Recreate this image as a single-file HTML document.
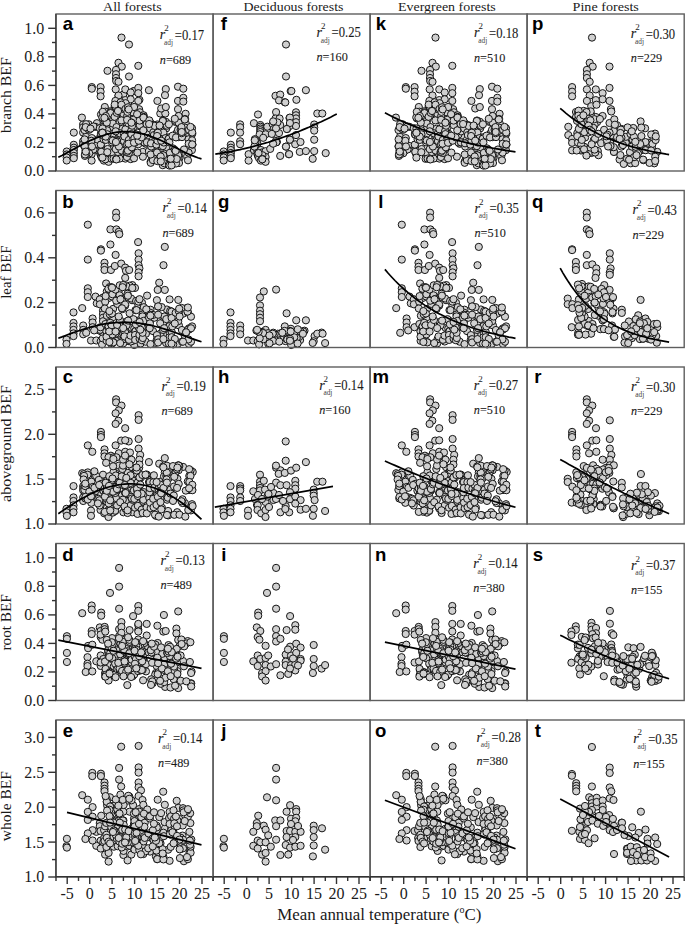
<!DOCTYPE html><html><head><meta charset="utf-8"><style>html,body{margin:0;padding:0;background:#fff;}svg{display:block}.s{font-family:"Liberation Serif",serif;fill:#1a1a1a}.ann text{stroke:#1a1a1a;stroke-width:0.1}.b{font-family:"Liberation Sans",sans-serif;font-weight:bold;fill:#000}</style></head><body><svg width="685" height="925" viewBox="0 0 685 925">
<rect width="685" height="925" fill="#fff"/>
<text class="s" x="103.1" y="10.6" font-size="13" textLength="58.5" lengthAdjust="spacingAndGlyphs">All forests</text>
<text class="s" x="243.6" y="10.6" font-size="13" textLength="99.8" lengthAdjust="spacingAndGlyphs">Deciduous forests</text>
<text class="s" x="398.0" y="10.6" font-size="13" textLength="97.8" lengthAdjust="spacingAndGlyphs">Evergreen forests</text>
<text class="s" x="572.6" y="10.6" font-size="13" textLength="66.2" lengthAdjust="spacingAndGlyphs">Pine forests</text>
<g fill="#d0d0d0" stroke="#151515" stroke-width="1.0">
<circle cx="66.7" cy="151.5" r="3.6"/>
<circle cx="66.7" cy="154.5" r="3.6"/>
<circle cx="66.7" cy="157.5" r="3.6"/>
<circle cx="66.7" cy="160.5" r="3.6"/>
<circle cx="73.8" cy="132.6" r="3.6"/>
<circle cx="73.8" cy="144.8" r="3.6"/>
<circle cx="73.8" cy="147.7" r="3.6"/>
<circle cx="73.8" cy="150.0" r="3.6"/>
<circle cx="73.8" cy="153.0" r="3.6"/>
<circle cx="73.8" cy="155.9" r="3.6"/>
<circle cx="73.8" cy="158.2" r="3.6"/>
<circle cx="83.1" cy="124.4" r="3.6"/>
<circle cx="83.1" cy="127.3" r="3.6"/>
<circle cx="83.1" cy="132.6" r="3.6"/>
<circle cx="83.1" cy="141.3" r="3.6"/>
<circle cx="83.1" cy="144.2" r="3.6"/>
<circle cx="91.6" cy="154.2" r="3.6"/>
<circle cx="91.6" cy="160.6" r="3.6"/>
<circle cx="96.9" cy="123.2" r="3.6"/>
<circle cx="101.0" cy="114.5" r="3.6"/>
<circle cx="103.3" cy="125.0" r="3.6"/>
<circle cx="103.3" cy="126.7" r="3.6"/>
<circle cx="103.3" cy="128.5" r="3.6"/>
<circle cx="103.3" cy="130.2" r="3.6"/>
<circle cx="103.3" cy="132.0" r="3.6"/>
<circle cx="102.7" cy="134.3" r="3.6"/>
<circle cx="99.2" cy="140.0" r="3.6"/>
<circle cx="100.4" cy="143.6" r="3.6"/>
<circle cx="96.9" cy="150.0" r="3.6"/>
<circle cx="100.4" cy="151.2" r="3.6"/>
<circle cx="100.4" cy="154.2" r="3.6"/>
<circle cx="101.0" cy="156.0" r="3.6"/>
<circle cx="102.1" cy="158.2" r="3.6"/>
<circle cx="103.9" cy="160.6" r="3.6"/>
<circle cx="103.9" cy="150.0" r="3.6"/>
<circle cx="105.0" cy="152.5" r="3.6"/>
<circle cx="108.6" cy="134.3" r="3.6"/>
<circle cx="108.6" cy="151.2" r="3.6"/>
<circle cx="108.6" cy="157.0" r="3.6"/>
<circle cx="108.6" cy="161.8" r="3.6"/>
<circle cx="110.3" cy="126.7" r="3.6"/>
<circle cx="106.2" cy="137.8" r="3.6"/>
<circle cx="113.2" cy="148.9" r="3.6"/>
<circle cx="115.6" cy="124.0" r="3.6"/>
<circle cx="116.7" cy="129.0" r="3.6"/>
<circle cx="117.9" cy="131.5" r="3.6"/>
<circle cx="119.1" cy="135.5" r="3.6"/>
<circle cx="119.6" cy="142.0" r="3.6"/>
<circle cx="119.1" cy="112.1" r="3.6"/>
<circle cx="118.5" cy="118.5" r="3.6"/>
<circle cx="122.6" cy="118.5" r="3.6"/>
<circle cx="123.2" cy="125.0" r="3.6"/>
<circle cx="122.0" cy="133.1" r="3.6"/>
<circle cx="118.5" cy="95.8" r="3.6"/>
<circle cx="123.2" cy="94.6" r="3.6"/>
<circle cx="122.0" cy="100.4" r="3.6"/>
<circle cx="127.8" cy="102.2" r="3.6"/>
<circle cx="123.2" cy="155.9" r="3.6"/>
<circle cx="129.0" cy="146.6" r="3.6"/>
<circle cx="130.2" cy="129.0" r="3.6"/>
<circle cx="132.5" cy="118.0" r="3.6"/>
<circle cx="132.5" cy="126.1" r="3.6"/>
<circle cx="133.1" cy="139.6" r="3.6"/>
<circle cx="131.9" cy="154.2" r="3.6"/>
<circle cx="133.7" cy="91.1" r="3.6"/>
<circle cx="129.0" cy="44.5" r="3.6"/>
<circle cx="129.0" cy="76.5" r="3.6"/>
<circle cx="134.4" cy="91.0" r="3.6"/>
<circle cx="148.9" cy="90.2" r="3.6"/>
<circle cx="128.3" cy="102.4" r="3.6"/>
<circle cx="139.4" cy="99.8" r="3.6"/>
<circle cx="139.0" cy="112.3" r="3.6"/>
<circle cx="139.0" cy="115.3" r="3.6"/>
<circle cx="139.0" cy="118.4" r="3.6"/>
<circle cx="139.0" cy="122.2" r="3.6"/>
<circle cx="139.0" cy="126.0" r="3.6"/>
<circle cx="132.9" cy="117.6" r="3.6"/>
<circle cx="132.9" cy="123.0" r="3.6"/>
<circle cx="129.8" cy="129.0" r="3.6"/>
<circle cx="132.9" cy="139.7" r="3.6"/>
<circle cx="129.0" cy="146.6" r="3.6"/>
<circle cx="132.1" cy="154.2" r="3.6"/>
<circle cx="139.0" cy="135.1" r="3.6"/>
<circle cx="138.2" cy="144.3" r="3.6"/>
<circle cx="143.5" cy="142.0" r="3.6"/>
<circle cx="142.8" cy="151.9" r="3.6"/>
<circle cx="148.9" cy="151.1" r="3.6"/>
<circle cx="157.2" cy="124.5" r="3.6"/>
<circle cx="157.2" cy="127.5" r="3.6"/>
<circle cx="157.2" cy="130.6" r="3.6"/>
<circle cx="157.2" cy="139.7" r="3.6"/>
<circle cx="157.2" cy="151.1" r="3.6"/>
<circle cx="155.7" cy="158.8" r="3.6"/>
<circle cx="160.3" cy="113.5" r="3.6"/>
<circle cx="165.3" cy="113.5" r="3.6"/>
<circle cx="168.7" cy="153.1" r="3.6"/>
<circle cx="98.3" cy="142.6" r="3.6"/>
<circle cx="97.8" cy="146.7" r="3.6"/>
<circle cx="97.4" cy="146.6" r="3.6"/>
<circle cx="105.0" cy="156.0" r="3.6"/>
<circle cx="97.9" cy="139.2" r="3.6"/>
<circle cx="105.4" cy="155.2" r="3.6"/>
<circle cx="101.5" cy="153.1" r="3.6"/>
<circle cx="105.4" cy="158.9" r="3.6"/>
<circle cx="105.3" cy="159.3" r="3.6"/>
<circle cx="97.8" cy="140.3" r="3.6"/>
<circle cx="120.4" cy="122.4" r="3.6"/>
<circle cx="119.8" cy="141.9" r="3.6"/>
<circle cx="119.0" cy="128.4" r="3.6"/>
<circle cx="118.9" cy="141.0" r="3.6"/>
<circle cx="114.8" cy="133.9" r="3.6"/>
<circle cx="119.3" cy="142.3" r="3.6"/>
<circle cx="116.1" cy="143.7" r="3.6"/>
<circle cx="116.2" cy="121.4" r="3.6"/>
<circle cx="121.5" cy="37.6" r="3.6"/>
<circle cx="118.5" cy="62.8" r="3.6"/>
<circle cx="121.8" cy="66.6" r="3.6"/>
<circle cx="107.5" cy="70.8" r="3.6"/>
<circle cx="116.0" cy="69.9" r="3.6"/>
<circle cx="116.0" cy="74.2" r="3.6"/>
<circle cx="116.0" cy="78.0" r="3.6"/>
<circle cx="116.2" cy="81.0" r="3.6"/>
<circle cx="118.5" cy="81.8" r="3.6"/>
<circle cx="91.8" cy="87.1" r="3.6"/>
<circle cx="91.8" cy="88.7" r="3.6"/>
<circle cx="100.6" cy="87.1" r="3.6"/>
<circle cx="100.6" cy="91.7" r="3.6"/>
<circle cx="100.6" cy="96.3" r="3.6"/>
<circle cx="115.7" cy="89.4" r="3.6"/>
<circle cx="118.5" cy="95.5" r="3.6"/>
<circle cx="115.4" cy="100.9" r="3.6"/>
<circle cx="114.7" cy="106.2" r="3.6"/>
<circle cx="125.3" cy="89.4" r="3.6"/>
<circle cx="130.7" cy="92.5" r="3.6"/>
<circle cx="125.3" cy="100.1" r="3.6"/>
<circle cx="130.7" cy="99.3" r="3.6"/>
<circle cx="104.8" cy="107.0" r="3.6"/>
<circle cx="104.8" cy="113.0" r="3.6"/>
<circle cx="81.9" cy="117.6" r="3.6"/>
<circle cx="138.3" cy="65.8" r="3.6"/>
<circle cx="138.3" cy="87.9" r="3.6"/>
<circle cx="138.3" cy="93.2" r="3.6"/>
<circle cx="138.3" cy="100.9" r="3.6"/>
<circle cx="139.1" cy="109.2" r="3.6"/>
<circle cx="139.9" cy="112.3" r="3.6"/>
<circle cx="165.8" cy="89.1" r="3.6"/>
<circle cx="165.0" cy="95.2" r="3.6"/>
<circle cx="178.0" cy="86.7" r="3.6"/>
<circle cx="183.3" cy="88.7" r="3.6"/>
<circle cx="157.4" cy="100.9" r="3.6"/>
<circle cx="178.0" cy="100.9" r="3.6"/>
<circle cx="183.3" cy="97.8" r="3.6"/>
<circle cx="183.3" cy="101.6" r="3.6"/>
<circle cx="161.2" cy="108.5" r="3.6"/>
<circle cx="165.8" cy="107.0" r="3.6"/>
<circle cx="178.0" cy="109.2" r="3.6"/>
<circle cx="178.7" cy="116.0" r="3.6"/>
<circle cx="185.6" cy="113.8" r="3.6"/>
<circle cx="95.5" cy="126.9" r="3.6"/>
<circle cx="91.5" cy="143.3" r="3.6"/>
<circle cx="86.0" cy="136.8" r="3.6"/>
<circle cx="84.9" cy="155.9" r="3.6"/>
<circle cx="85.3" cy="141.2" r="3.6"/>
<circle cx="89.1" cy="127.5" r="3.6"/>
<circle cx="95.1" cy="148.6" r="3.6"/>
<circle cx="90.5" cy="151.1" r="3.6"/>
<circle cx="94.8" cy="145.8" r="3.6"/>
<circle cx="84.5" cy="146.4" r="3.6"/>
<circle cx="85.2" cy="153.9" r="3.6"/>
<circle cx="88.7" cy="124.3" r="3.6"/>
<circle cx="93.5" cy="149.5" r="3.6"/>
<circle cx="89.2" cy="153.3" r="3.6"/>
<circle cx="86.1" cy="124.2" r="3.6"/>
<circle cx="85.5" cy="150.5" r="3.6"/>
<circle cx="84.8" cy="146.2" r="3.6"/>
<circle cx="86.3" cy="154.2" r="3.6"/>
<circle cx="84.5" cy="130.1" r="3.6"/>
<circle cx="89.2" cy="129.8" r="3.6"/>
<circle cx="91.8" cy="138.1" r="3.6"/>
<circle cx="88.0" cy="128.8" r="3.6"/>
<circle cx="85.7" cy="127.1" r="3.6"/>
<circle cx="85.0" cy="154.5" r="3.6"/>
<circle cx="91.3" cy="140.8" r="3.6"/>
<circle cx="92.0" cy="146.5" r="3.6"/>
<circle cx="84.6" cy="139.4" r="3.6"/>
<circle cx="93.5" cy="126.5" r="3.6"/>
<circle cx="85.8" cy="151.6" r="3.6"/>
<circle cx="90.5" cy="128.6" r="3.6"/>
<circle cx="101.6" cy="153.0" r="3.6"/>
<circle cx="101.0" cy="134.5" r="3.6"/>
<circle cx="101.1" cy="144.7" r="3.6"/>
<circle cx="101.3" cy="151.8" r="3.6"/>
<circle cx="101.0" cy="133.3" r="3.6"/>
<circle cx="101.3" cy="134.7" r="3.6"/>
<circle cx="100.8" cy="144.6" r="3.6"/>
<circle cx="99.8" cy="128.2" r="3.6"/>
<circle cx="102.9" cy="118.4" r="3.6"/>
<circle cx="102.7" cy="129.9" r="3.6"/>
<circle cx="110.2" cy="111.3" r="3.6"/>
<circle cx="111.6" cy="154.6" r="3.6"/>
<circle cx="105.5" cy="111.7" r="3.6"/>
<circle cx="107.6" cy="121.9" r="3.6"/>
<circle cx="112.8" cy="155.4" r="3.6"/>
<circle cx="111.9" cy="131.7" r="3.6"/>
<circle cx="113.1" cy="127.2" r="3.6"/>
<circle cx="108.9" cy="136.9" r="3.6"/>
<circle cx="104.5" cy="133.8" r="3.6"/>
<circle cx="109.8" cy="137.4" r="3.6"/>
<circle cx="106.3" cy="133.2" r="3.6"/>
<circle cx="113.1" cy="120.2" r="3.6"/>
<circle cx="111.6" cy="158.8" r="3.6"/>
<circle cx="103.6" cy="139.3" r="3.6"/>
<circle cx="107.1" cy="130.3" r="3.6"/>
<circle cx="102.3" cy="117.3" r="3.6"/>
<circle cx="112.4" cy="134.2" r="3.6"/>
<circle cx="111.8" cy="113.2" r="3.6"/>
<circle cx="112.2" cy="152.6" r="3.6"/>
<circle cx="110.3" cy="112.4" r="3.6"/>
<circle cx="112.0" cy="142.4" r="3.6"/>
<circle cx="110.5" cy="113.1" r="3.6"/>
<circle cx="113.6" cy="158.6" r="3.6"/>
<circle cx="107.4" cy="134.3" r="3.6"/>
<circle cx="105.9" cy="139.9" r="3.6"/>
<circle cx="112.7" cy="123.5" r="3.6"/>
<circle cx="111.4" cy="139.8" r="3.6"/>
<circle cx="102.5" cy="128.5" r="3.6"/>
<circle cx="104.1" cy="136.0" r="3.6"/>
<circle cx="105.7" cy="136.6" r="3.6"/>
<circle cx="106.8" cy="122.6" r="3.6"/>
<circle cx="112.7" cy="140.6" r="3.6"/>
<circle cx="102.4" cy="132.5" r="3.6"/>
<circle cx="102.8" cy="111.8" r="3.6"/>
<circle cx="105.8" cy="116.1" r="3.6"/>
<circle cx="102.4" cy="132.8" r="3.6"/>
<circle cx="107.6" cy="149.0" r="3.6"/>
<circle cx="107.3" cy="152.2" r="3.6"/>
<circle cx="104.4" cy="117.8" r="3.6"/>
<circle cx="102.4" cy="157.6" r="3.6"/>
<circle cx="118.9" cy="143.8" r="3.6"/>
<circle cx="124.7" cy="154.9" r="3.6"/>
<circle cx="116.5" cy="127.1" r="3.6"/>
<circle cx="122.4" cy="118.5" r="3.6"/>
<circle cx="125.2" cy="115.3" r="3.6"/>
<circle cx="116.0" cy="159.2" r="3.6"/>
<circle cx="114.6" cy="116.8" r="3.6"/>
<circle cx="118.6" cy="132.8" r="3.6"/>
<circle cx="121.2" cy="157.5" r="3.6"/>
<circle cx="123.5" cy="120.2" r="3.6"/>
<circle cx="116.7" cy="112.8" r="3.6"/>
<circle cx="124.2" cy="135.6" r="3.6"/>
<circle cx="119.1" cy="148.5" r="3.6"/>
<circle cx="117.9" cy="104.6" r="3.6"/>
<circle cx="122.6" cy="157.4" r="3.6"/>
<circle cx="120.8" cy="150.7" r="3.6"/>
<circle cx="122.6" cy="128.7" r="3.6"/>
<circle cx="121.3" cy="138.5" r="3.6"/>
<circle cx="124.1" cy="144.7" r="3.6"/>
<circle cx="120.6" cy="102.3" r="3.6"/>
<circle cx="125.4" cy="158.6" r="3.6"/>
<circle cx="119.6" cy="158.6" r="3.6"/>
<circle cx="119.7" cy="133.2" r="3.6"/>
<circle cx="123.4" cy="113.9" r="3.6"/>
<circle cx="123.8" cy="133.7" r="3.6"/>
<circle cx="114.7" cy="104.6" r="3.6"/>
<circle cx="125.4" cy="129.3" r="3.6"/>
<circle cx="122.5" cy="139.9" r="3.6"/>
<circle cx="124.3" cy="143.7" r="3.6"/>
<circle cx="125.6" cy="103.2" r="3.6"/>
<circle cx="117.9" cy="152.0" r="3.6"/>
<circle cx="117.7" cy="141.6" r="3.6"/>
<circle cx="123.3" cy="109.0" r="3.6"/>
<circle cx="121.5" cy="104.7" r="3.6"/>
<circle cx="124.0" cy="141.1" r="3.6"/>
<circle cx="116.4" cy="159.4" r="3.6"/>
<circle cx="115.7" cy="149.1" r="3.6"/>
<circle cx="121.4" cy="120.4" r="3.6"/>
<circle cx="121.6" cy="150.5" r="3.6"/>
<circle cx="118.0" cy="111.0" r="3.6"/>
<circle cx="115.7" cy="131.3" r="3.6"/>
<circle cx="124.5" cy="136.5" r="3.6"/>
<circle cx="118.9" cy="146.5" r="3.6"/>
<circle cx="115.9" cy="142.0" r="3.6"/>
<circle cx="125.5" cy="108.9" r="3.6"/>
<circle cx="134.4" cy="134.0" r="3.6"/>
<circle cx="132.0" cy="112.2" r="3.6"/>
<circle cx="128.8" cy="140.0" r="3.6"/>
<circle cx="131.0" cy="132.8" r="3.6"/>
<circle cx="131.5" cy="149.3" r="3.6"/>
<circle cx="131.3" cy="148.1" r="3.6"/>
<circle cx="130.7" cy="159.1" r="3.6"/>
<circle cx="133.7" cy="126.9" r="3.6"/>
<circle cx="127.5" cy="147.0" r="3.6"/>
<circle cx="134.9" cy="133.9" r="3.6"/>
<circle cx="131.1" cy="131.1" r="3.6"/>
<circle cx="126.9" cy="157.0" r="3.6"/>
<circle cx="127.2" cy="116.0" r="3.6"/>
<circle cx="128.4" cy="123.4" r="3.6"/>
<circle cx="133.4" cy="119.7" r="3.6"/>
<circle cx="134.0" cy="158.3" r="3.6"/>
<circle cx="133.9" cy="135.5" r="3.6"/>
<circle cx="131.4" cy="122.4" r="3.6"/>
<circle cx="126.5" cy="152.2" r="3.6"/>
<circle cx="128.0" cy="107.3" r="3.6"/>
<circle cx="128.8" cy="153.0" r="3.6"/>
<circle cx="127.0" cy="151.8" r="3.6"/>
<circle cx="127.1" cy="119.8" r="3.6"/>
<circle cx="127.4" cy="111.9" r="3.6"/>
<circle cx="133.1" cy="137.8" r="3.6"/>
<circle cx="134.8" cy="142.8" r="3.6"/>
<circle cx="128.5" cy="149.4" r="3.6"/>
<circle cx="134.9" cy="135.3" r="3.6"/>
<circle cx="131.4" cy="144.9" r="3.6"/>
<circle cx="134.1" cy="107.0" r="3.6"/>
<circle cx="131.4" cy="134.1" r="3.6"/>
<circle cx="127.9" cy="150.6" r="3.6"/>
<circle cx="132.1" cy="125.7" r="3.6"/>
<circle cx="134.4" cy="138.2" r="3.6"/>
<circle cx="131.4" cy="122.7" r="3.6"/>
<circle cx="131.8" cy="147.3" r="3.6"/>
<circle cx="127.0" cy="144.3" r="3.6"/>
<circle cx="128.7" cy="109.4" r="3.6"/>
<circle cx="128.5" cy="143.7" r="3.6"/>
<circle cx="134.0" cy="142.7" r="3.6"/>
<circle cx="142.9" cy="156.7" r="3.6"/>
<circle cx="145.7" cy="143.8" r="3.6"/>
<circle cx="139.4" cy="117.2" r="3.6"/>
<circle cx="141.6" cy="115.8" r="3.6"/>
<circle cx="144.4" cy="142.5" r="3.6"/>
<circle cx="143.6" cy="115.3" r="3.6"/>
<circle cx="146.2" cy="128.0" r="3.6"/>
<circle cx="146.4" cy="134.5" r="3.6"/>
<circle cx="140.3" cy="123.7" r="3.6"/>
<circle cx="138.7" cy="140.7" r="3.6"/>
<circle cx="147.3" cy="122.2" r="3.6"/>
<circle cx="137.4" cy="152.6" r="3.6"/>
<circle cx="137.1" cy="114.2" r="3.6"/>
<circle cx="147.4" cy="142.7" r="3.6"/>
<circle cx="144.5" cy="130.5" r="3.6"/>
<circle cx="147.2" cy="135.8" r="3.6"/>
<circle cx="144.5" cy="134.5" r="3.6"/>
<circle cx="141.6" cy="137.3" r="3.6"/>
<circle cx="146.9" cy="142.3" r="3.6"/>
<circle cx="143.8" cy="116.9" r="3.6"/>
<circle cx="137.2" cy="135.7" r="3.6"/>
<circle cx="145.4" cy="126.8" r="3.6"/>
<circle cx="143.7" cy="126.2" r="3.6"/>
<circle cx="147.0" cy="131.4" r="3.6"/>
<circle cx="139.8" cy="125.2" r="3.6"/>
<circle cx="139.6" cy="120.6" r="3.6"/>
<circle cx="143.3" cy="130.3" r="3.6"/>
<circle cx="143.7" cy="117.7" r="3.6"/>
<circle cx="143.5" cy="117.6" r="3.6"/>
<circle cx="146.6" cy="124.1" r="3.6"/>
<circle cx="150.5" cy="122.9" r="3.6"/>
<circle cx="150.7" cy="161.5" r="3.6"/>
<circle cx="154.1" cy="142.0" r="3.6"/>
<circle cx="154.2" cy="125.1" r="3.6"/>
<circle cx="150.3" cy="128.6" r="3.6"/>
<circle cx="150.7" cy="162.8" r="3.6"/>
<circle cx="151.2" cy="146.5" r="3.6"/>
<circle cx="154.0" cy="158.7" r="3.6"/>
<circle cx="152.9" cy="160.1" r="3.6"/>
<circle cx="150.7" cy="154.5" r="3.6"/>
<circle cx="153.3" cy="132.3" r="3.6"/>
<circle cx="151.0" cy="143.3" r="3.6"/>
<circle cx="154.7" cy="125.9" r="3.6"/>
<circle cx="149.3" cy="120.4" r="3.6"/>
<circle cx="149.1" cy="124.0" r="3.6"/>
<circle cx="153.9" cy="135.1" r="3.6"/>
<circle cx="165.9" cy="121.8" r="3.6"/>
<circle cx="165.9" cy="164.0" r="3.6"/>
<circle cx="164.4" cy="136.2" r="3.6"/>
<circle cx="164.5" cy="158.4" r="3.6"/>
<circle cx="157.5" cy="132.7" r="3.6"/>
<circle cx="156.6" cy="144.5" r="3.6"/>
<circle cx="163.0" cy="120.5" r="3.6"/>
<circle cx="161.7" cy="152.6" r="3.6"/>
<circle cx="166.2" cy="128.4" r="3.6"/>
<circle cx="160.1" cy="129.2" r="3.6"/>
<circle cx="163.4" cy="132.6" r="3.6"/>
<circle cx="157.4" cy="161.1" r="3.6"/>
<circle cx="161.2" cy="146.4" r="3.6"/>
<circle cx="166.3" cy="146.9" r="3.6"/>
<circle cx="163.0" cy="154.8" r="3.6"/>
<circle cx="166.7" cy="150.1" r="3.6"/>
<circle cx="163.2" cy="155.3" r="3.6"/>
<circle cx="162.8" cy="165.2" r="3.6"/>
<circle cx="157.8" cy="132.7" r="3.6"/>
<circle cx="157.0" cy="152.5" r="3.6"/>
<circle cx="167.0" cy="147.5" r="3.6"/>
<circle cx="162.5" cy="140.9" r="3.6"/>
<circle cx="167.0" cy="125.7" r="3.6"/>
<circle cx="165.5" cy="138.1" r="3.6"/>
<circle cx="156.4" cy="144.6" r="3.6"/>
<circle cx="162.8" cy="121.0" r="3.6"/>
<circle cx="160.7" cy="156.5" r="3.6"/>
<circle cx="164.4" cy="163.3" r="3.6"/>
<circle cx="157.5" cy="140.7" r="3.6"/>
<circle cx="159.6" cy="125.5" r="3.6"/>
<circle cx="162.8" cy="146.1" r="3.6"/>
<circle cx="157.1" cy="136.0" r="3.6"/>
<circle cx="163.8" cy="142.5" r="3.6"/>
<circle cx="160.8" cy="161.4" r="3.6"/>
<circle cx="167.5" cy="140.6" r="3.6"/>
<circle cx="161.2" cy="140.7" r="3.6"/>
<circle cx="178.4" cy="137.1" r="3.6"/>
<circle cx="178.9" cy="132.0" r="3.6"/>
<circle cx="168.9" cy="164.1" r="3.6"/>
<circle cx="179.5" cy="158.0" r="3.6"/>
<circle cx="175.4" cy="121.9" r="3.6"/>
<circle cx="174.4" cy="161.7" r="3.6"/>
<circle cx="177.7" cy="159.1" r="3.6"/>
<circle cx="169.3" cy="137.3" r="3.6"/>
<circle cx="168.8" cy="138.7" r="3.6"/>
<circle cx="169.4" cy="142.4" r="3.6"/>
<circle cx="178.8" cy="154.5" r="3.6"/>
<circle cx="170.6" cy="163.0" r="3.6"/>
<circle cx="173.0" cy="148.4" r="3.6"/>
<circle cx="176.0" cy="137.1" r="3.6"/>
<circle cx="179.1" cy="130.3" r="3.6"/>
<circle cx="176.4" cy="133.4" r="3.6"/>
<circle cx="179.0" cy="163.0" r="3.6"/>
<circle cx="175.1" cy="120.7" r="3.6"/>
<circle cx="178.0" cy="129.8" r="3.6"/>
<circle cx="168.9" cy="124.3" r="3.6"/>
<circle cx="172.5" cy="135.7" r="3.6"/>
<circle cx="172.1" cy="163.1" r="3.6"/>
<circle cx="173.0" cy="158.3" r="3.6"/>
<circle cx="171.6" cy="152.2" r="3.6"/>
<circle cx="169.5" cy="165.6" r="3.6"/>
<circle cx="178.6" cy="122.7" r="3.6"/>
<circle cx="176.0" cy="137.4" r="3.6"/>
<circle cx="176.0" cy="163.5" r="3.6"/>
<circle cx="178.1" cy="155.2" r="3.6"/>
<circle cx="169.9" cy="152.8" r="3.6"/>
<circle cx="174.8" cy="118.8" r="3.6"/>
<circle cx="174.7" cy="149.8" r="3.6"/>
<circle cx="176.7" cy="159.0" r="3.6"/>
<circle cx="175.6" cy="150.9" r="3.6"/>
<circle cx="171.5" cy="165.4" r="3.6"/>
<circle cx="170.7" cy="158.7" r="3.6"/>
<circle cx="186.0" cy="124.1" r="3.6"/>
<circle cx="185.2" cy="119.0" r="3.6"/>
<circle cx="180.6" cy="129.8" r="3.6"/>
<circle cx="189.0" cy="133.7" r="3.6"/>
<circle cx="182.0" cy="137.1" r="3.6"/>
<circle cx="191.2" cy="146.1" r="3.6"/>
<circle cx="188.6" cy="139.3" r="3.6"/>
<circle cx="181.6" cy="133.2" r="3.6"/>
<circle cx="185.2" cy="130.6" r="3.6"/>
<circle cx="184.9" cy="127.6" r="3.6"/>
<circle cx="184.8" cy="119.5" r="3.6"/>
<circle cx="187.8" cy="150.5" r="3.6"/>
<circle cx="192.0" cy="128.2" r="3.6"/>
<circle cx="192.3" cy="133.8" r="3.6"/>
<circle cx="187.2" cy="156.2" r="3.6"/>
<circle cx="192.1" cy="140.3" r="3.6"/>
<circle cx="187.0" cy="149.6" r="3.6"/>
<circle cx="191.9" cy="150.1" r="3.6"/>
<circle cx="188.6" cy="152.6" r="3.6"/>
<circle cx="188.7" cy="143.7" r="3.6"/>
<circle cx="181.3" cy="129.3" r="3.6"/>
<circle cx="189.0" cy="129.7" r="3.6"/>
<circle cx="184.0" cy="149.5" r="3.6"/>
<circle cx="181.5" cy="127.1" r="3.6"/>
<circle cx="192.5" cy="144.7" r="3.6"/>
<circle cx="192.2" cy="132.5" r="3.6"/>
<circle cx="190.5" cy="126.9" r="3.6"/>
<circle cx="192.2" cy="144.4" r="3.6"/>
<circle cx="188.0" cy="160.3" r="3.6"/>
<circle cx="181.7" cy="132.0" r="3.6"/>
</g>
<path d="M58.3,157.2 L62.0,155.4 L65.6,153.5 L69.3,151.5 L73.0,149.5 L76.7,147.5 L80.3,145.6 L84.0,143.6 L87.7,141.8 L91.3,140.1 L95.0,138.5 L98.7,137.0 L102.4,135.7 L106.0,134.5 L109.7,133.6 L113.4,132.8 L117.0,132.2 L120.7,131.8 L124.4,131.7 L128.1,131.7 L131.7,132.0 L135.4,132.4 L139.1,133.1 L142.8,133.9 L146.4,134.9 L150.1,136.1 L153.8,137.5 L157.4,138.9 L161.1,140.5 L164.8,142.2 L168.5,144.0 L172.1,145.9 L175.8,147.7 L179.5,149.6 L183.1,151.4 L186.8,153.2 L190.5,154.9 L194.2,156.4 L197.8,157.8 L201.5,158.9" fill="none" stroke="#000" stroke-width="1.7"/>
<text class="b" x="68.0" y="30.2" font-size="18.6" text-anchor="middle">a</text>
<g class="ann">
<text class="s" x="159.8" y="39.3" font-size="14" font-style="italic">r</text>
<text class="s" x="164.2" y="31.4" font-size="9" style="stroke:none">2</text>
<text class="s" x="164.0" y="45.0" font-size="9" textLength="9" lengthAdjust="spacingAndGlyphs" style="stroke:none;fill:#444">adj</text>
<text class="s" x="174.8" y="39.5" font-size="14.2" textLength="29.3" lengthAdjust="spacingAndGlyphs">=0.17</text>
<text class="s" x="159.8" y="63.6" font-size="13.2" textLength="31.3" lengthAdjust="spacingAndGlyphs"><tspan font-style="italic">n</tspan>=689</text>
</g>
<rect x="56.0" y="14.0" width="157.2" height="157" fill="none" stroke="#5e5e5e" stroke-width="1.4"/>
<line x1="55.9" y1="14.0" x2="55.9" y2="171.0" stroke="#444" stroke-width="1.5"/>
<g fill="#d0d0d0" stroke="#151515" stroke-width="1.0">
<circle cx="223.7" cy="151.5" r="3.6"/>
<circle cx="223.7" cy="154.5" r="3.6"/>
<circle cx="223.7" cy="157.5" r="3.6"/>
<circle cx="223.7" cy="160.5" r="3.6"/>
<circle cx="230.8" cy="132.6" r="3.6"/>
<circle cx="230.8" cy="144.8" r="3.6"/>
<circle cx="230.8" cy="147.7" r="3.6"/>
<circle cx="230.8" cy="150.0" r="3.6"/>
<circle cx="230.8" cy="153.0" r="3.6"/>
<circle cx="230.8" cy="155.9" r="3.6"/>
<circle cx="230.8" cy="158.2" r="3.6"/>
<circle cx="240.1" cy="124.4" r="3.6"/>
<circle cx="240.1" cy="127.3" r="3.6"/>
<circle cx="240.1" cy="132.6" r="3.6"/>
<circle cx="240.1" cy="141.3" r="3.6"/>
<circle cx="240.1" cy="144.2" r="3.6"/>
<circle cx="248.6" cy="154.2" r="3.6"/>
<circle cx="248.6" cy="160.6" r="3.6"/>
<circle cx="253.9" cy="123.2" r="3.6"/>
<circle cx="258.0" cy="114.5" r="3.6"/>
<circle cx="260.3" cy="125.0" r="3.6"/>
<circle cx="260.3" cy="126.7" r="3.6"/>
<circle cx="260.3" cy="128.5" r="3.6"/>
<circle cx="260.3" cy="130.2" r="3.6"/>
<circle cx="260.3" cy="132.0" r="3.6"/>
<circle cx="259.7" cy="134.3" r="3.6"/>
<circle cx="256.2" cy="140.0" r="3.6"/>
<circle cx="257.4" cy="143.6" r="3.6"/>
<circle cx="253.9" cy="150.0" r="3.6"/>
<circle cx="257.4" cy="151.2" r="3.6"/>
<circle cx="257.4" cy="154.2" r="3.6"/>
<circle cx="258.0" cy="156.0" r="3.6"/>
<circle cx="259.1" cy="158.2" r="3.6"/>
<circle cx="260.9" cy="160.6" r="3.6"/>
<circle cx="260.9" cy="150.0" r="3.6"/>
<circle cx="262.0" cy="152.5" r="3.6"/>
<circle cx="265.6" cy="134.3" r="3.6"/>
<circle cx="265.6" cy="151.2" r="3.6"/>
<circle cx="265.6" cy="157.0" r="3.6"/>
<circle cx="265.6" cy="161.8" r="3.6"/>
<circle cx="267.3" cy="126.7" r="3.6"/>
<circle cx="263.2" cy="137.8" r="3.6"/>
<circle cx="270.2" cy="148.9" r="3.6"/>
<circle cx="272.6" cy="124.0" r="3.6"/>
<circle cx="273.7" cy="129.0" r="3.6"/>
<circle cx="274.9" cy="131.5" r="3.6"/>
<circle cx="276.1" cy="135.5" r="3.6"/>
<circle cx="276.6" cy="142.0" r="3.6"/>
<circle cx="276.1" cy="112.1" r="3.6"/>
<circle cx="275.5" cy="118.5" r="3.6"/>
<circle cx="279.6" cy="118.5" r="3.6"/>
<circle cx="280.2" cy="125.0" r="3.6"/>
<circle cx="279.0" cy="133.1" r="3.6"/>
<circle cx="275.5" cy="95.8" r="3.6"/>
<circle cx="280.2" cy="94.6" r="3.6"/>
<circle cx="279.0" cy="100.4" r="3.6"/>
<circle cx="284.8" cy="102.2" r="3.6"/>
<circle cx="280.2" cy="155.9" r="3.6"/>
<circle cx="286.0" cy="146.6" r="3.6"/>
<circle cx="287.2" cy="129.0" r="3.6"/>
<circle cx="289.5" cy="118.0" r="3.6"/>
<circle cx="289.5" cy="126.1" r="3.6"/>
<circle cx="290.1" cy="139.6" r="3.6"/>
<circle cx="288.9" cy="154.2" r="3.6"/>
<circle cx="290.7" cy="91.1" r="3.6"/>
<circle cx="286.0" cy="44.5" r="3.6"/>
<circle cx="286.0" cy="76.5" r="3.6"/>
<circle cx="291.4" cy="91.0" r="3.6"/>
<circle cx="305.9" cy="90.2" r="3.6"/>
<circle cx="285.3" cy="102.4" r="3.6"/>
<circle cx="296.4" cy="99.8" r="3.6"/>
<circle cx="296.0" cy="112.3" r="3.6"/>
<circle cx="296.0" cy="115.3" r="3.6"/>
<circle cx="296.0" cy="118.4" r="3.6"/>
<circle cx="296.0" cy="122.2" r="3.6"/>
<circle cx="296.0" cy="126.0" r="3.6"/>
<circle cx="289.9" cy="117.6" r="3.6"/>
<circle cx="289.9" cy="123.0" r="3.6"/>
<circle cx="286.8" cy="129.0" r="3.6"/>
<circle cx="289.9" cy="139.7" r="3.6"/>
<circle cx="286.0" cy="146.6" r="3.6"/>
<circle cx="289.1" cy="154.2" r="3.6"/>
<circle cx="296.0" cy="135.1" r="3.6"/>
<circle cx="295.2" cy="144.3" r="3.6"/>
<circle cx="300.5" cy="142.0" r="3.6"/>
<circle cx="299.8" cy="151.9" r="3.6"/>
<circle cx="305.9" cy="151.1" r="3.6"/>
<circle cx="314.2" cy="124.5" r="3.6"/>
<circle cx="314.2" cy="127.5" r="3.6"/>
<circle cx="314.2" cy="130.6" r="3.6"/>
<circle cx="314.2" cy="139.7" r="3.6"/>
<circle cx="314.2" cy="151.1" r="3.6"/>
<circle cx="312.7" cy="158.8" r="3.6"/>
<circle cx="317.3" cy="113.5" r="3.6"/>
<circle cx="322.3" cy="113.5" r="3.6"/>
<circle cx="325.7" cy="153.1" r="3.6"/>
<circle cx="255.3" cy="142.6" r="3.6"/>
<circle cx="254.8" cy="146.7" r="3.6"/>
<circle cx="254.4" cy="146.6" r="3.6"/>
<circle cx="262.0" cy="156.0" r="3.6"/>
<circle cx="254.9" cy="139.2" r="3.6"/>
<circle cx="262.4" cy="155.2" r="3.6"/>
<circle cx="258.5" cy="153.1" r="3.6"/>
<circle cx="262.4" cy="158.9" r="3.6"/>
<circle cx="262.3" cy="159.3" r="3.6"/>
<circle cx="254.8" cy="140.3" r="3.6"/>
<circle cx="277.4" cy="122.4" r="3.6"/>
<circle cx="276.8" cy="141.9" r="3.6"/>
<circle cx="276.0" cy="128.4" r="3.6"/>
<circle cx="275.9" cy="141.0" r="3.6"/>
<circle cx="271.8" cy="133.9" r="3.6"/>
<circle cx="276.3" cy="142.3" r="3.6"/>
<circle cx="273.1" cy="143.7" r="3.6"/>
<circle cx="273.2" cy="121.4" r="3.6"/>
</g>
<path d="M215.3,154.1 L218.4,153.6 L221.5,153.1 L224.6,152.6 L227.8,152.1 L230.9,151.5 L234.0,150.9 L237.1,150.2 L240.2,149.6 L243.3,148.8 L246.5,148.1 L249.6,147.4 L252.7,146.6 L255.8,145.7 L258.9,144.9 L262.0,144.0 L265.1,143.1 L268.3,142.2 L271.4,141.2 L274.5,140.2 L277.6,139.2 L280.7,138.1 L283.8,137.0 L287.0,135.9 L290.1,134.8 L293.2,133.6 L296.3,132.4 L299.4,131.2 L302.5,129.9 L305.6,128.6 L308.8,127.3 L311.9,125.9 L315.0,124.5 L318.1,123.1 L321.2,121.7 L324.3,120.2 L327.5,118.7 L330.6,117.2 L333.7,115.6 L336.8,114.0" fill="none" stroke="#000" stroke-width="1.7"/>
<text class="b" x="223.8" y="30.2" font-size="18.6" text-anchor="middle">f</text>
<g class="ann">
<text class="s" x="316.5" y="36.8" font-size="14" font-style="italic">r</text>
<text class="s" x="320.9" y="28.9" font-size="9" style="stroke:none">2</text>
<text class="s" x="320.7" y="42.5" font-size="9" textLength="9" lengthAdjust="spacingAndGlyphs" style="stroke:none;fill:#444">adj</text>
<text class="s" x="331.5" y="37.0" font-size="14.2" textLength="29.3" lengthAdjust="spacingAndGlyphs">=0.25</text>
<text class="s" x="316.5" y="60.5" font-size="13.2" textLength="31.3" lengthAdjust="spacingAndGlyphs"><tspan font-style="italic">n</tspan>=160</text>
</g>
<rect x="213.0" y="14.0" width="157.2" height="157" fill="none" stroke="#5e5e5e" stroke-width="1.4"/>
<g fill="#d0d0d0" stroke="#151515" stroke-width="1.0">
<circle cx="435.5" cy="37.6" r="3.6"/>
<circle cx="432.5" cy="62.8" r="3.6"/>
<circle cx="435.8" cy="66.6" r="3.6"/>
<circle cx="421.5" cy="70.8" r="3.6"/>
<circle cx="430.0" cy="69.9" r="3.6"/>
<circle cx="430.0" cy="74.2" r="3.6"/>
<circle cx="430.0" cy="78.0" r="3.6"/>
<circle cx="430.2" cy="81.0" r="3.6"/>
<circle cx="432.5" cy="81.8" r="3.6"/>
<circle cx="405.8" cy="87.1" r="3.6"/>
<circle cx="405.8" cy="88.7" r="3.6"/>
<circle cx="414.6" cy="87.1" r="3.6"/>
<circle cx="414.6" cy="91.7" r="3.6"/>
<circle cx="414.6" cy="96.3" r="3.6"/>
<circle cx="429.7" cy="89.4" r="3.6"/>
<circle cx="432.5" cy="95.5" r="3.6"/>
<circle cx="429.4" cy="100.9" r="3.6"/>
<circle cx="428.7" cy="106.2" r="3.6"/>
<circle cx="439.3" cy="89.4" r="3.6"/>
<circle cx="444.7" cy="92.5" r="3.6"/>
<circle cx="439.3" cy="100.1" r="3.6"/>
<circle cx="444.7" cy="99.3" r="3.6"/>
<circle cx="418.8" cy="107.0" r="3.6"/>
<circle cx="418.8" cy="113.0" r="3.6"/>
<circle cx="395.9" cy="117.6" r="3.6"/>
<circle cx="452.3" cy="65.8" r="3.6"/>
<circle cx="452.3" cy="87.9" r="3.6"/>
<circle cx="452.3" cy="93.2" r="3.6"/>
<circle cx="452.3" cy="100.9" r="3.6"/>
<circle cx="453.1" cy="109.2" r="3.6"/>
<circle cx="453.9" cy="112.3" r="3.6"/>
<circle cx="479.8" cy="89.1" r="3.6"/>
<circle cx="479.0" cy="95.2" r="3.6"/>
<circle cx="492.0" cy="86.7" r="3.6"/>
<circle cx="497.3" cy="88.7" r="3.6"/>
<circle cx="471.4" cy="100.9" r="3.6"/>
<circle cx="492.0" cy="100.9" r="3.6"/>
<circle cx="497.3" cy="97.8" r="3.6"/>
<circle cx="497.3" cy="101.6" r="3.6"/>
<circle cx="475.2" cy="108.5" r="3.6"/>
<circle cx="479.8" cy="107.0" r="3.6"/>
<circle cx="492.0" cy="109.2" r="3.6"/>
<circle cx="492.7" cy="116.0" r="3.6"/>
<circle cx="499.6" cy="113.8" r="3.6"/>
<circle cx="409.5" cy="126.9" r="3.6"/>
<circle cx="405.5" cy="143.3" r="3.6"/>
<circle cx="400.0" cy="136.8" r="3.6"/>
<circle cx="398.9" cy="155.9" r="3.6"/>
<circle cx="399.3" cy="141.2" r="3.6"/>
<circle cx="403.1" cy="127.5" r="3.6"/>
<circle cx="409.1" cy="148.6" r="3.6"/>
<circle cx="404.5" cy="151.1" r="3.6"/>
<circle cx="408.8" cy="145.8" r="3.6"/>
<circle cx="398.5" cy="146.4" r="3.6"/>
<circle cx="399.2" cy="153.9" r="3.6"/>
<circle cx="402.7" cy="124.3" r="3.6"/>
<circle cx="407.5" cy="149.5" r="3.6"/>
<circle cx="403.2" cy="153.3" r="3.6"/>
<circle cx="400.1" cy="124.2" r="3.6"/>
<circle cx="399.5" cy="150.5" r="3.6"/>
<circle cx="398.8" cy="146.2" r="3.6"/>
<circle cx="400.3" cy="154.2" r="3.6"/>
<circle cx="398.5" cy="130.1" r="3.6"/>
<circle cx="403.2" cy="129.8" r="3.6"/>
<circle cx="405.8" cy="138.1" r="3.6"/>
<circle cx="402.0" cy="128.8" r="3.6"/>
<circle cx="399.7" cy="127.1" r="3.6"/>
<circle cx="399.0" cy="154.5" r="3.6"/>
<circle cx="405.3" cy="140.8" r="3.6"/>
<circle cx="406.0" cy="146.5" r="3.6"/>
<circle cx="398.6" cy="139.4" r="3.6"/>
<circle cx="407.5" cy="126.5" r="3.6"/>
<circle cx="399.8" cy="151.6" r="3.6"/>
<circle cx="404.5" cy="128.6" r="3.6"/>
<circle cx="415.6" cy="153.0" r="3.6"/>
<circle cx="415.0" cy="134.5" r="3.6"/>
<circle cx="415.1" cy="144.7" r="3.6"/>
<circle cx="415.3" cy="151.8" r="3.6"/>
<circle cx="415.0" cy="133.3" r="3.6"/>
<circle cx="415.3" cy="134.7" r="3.6"/>
<circle cx="414.8" cy="144.6" r="3.6"/>
<circle cx="413.8" cy="128.2" r="3.6"/>
<circle cx="416.9" cy="118.4" r="3.6"/>
<circle cx="416.7" cy="129.9" r="3.6"/>
<circle cx="424.2" cy="111.3" r="3.6"/>
<circle cx="425.6" cy="154.6" r="3.6"/>
<circle cx="419.5" cy="111.7" r="3.6"/>
<circle cx="421.6" cy="121.9" r="3.6"/>
<circle cx="426.8" cy="155.4" r="3.6"/>
<circle cx="425.9" cy="131.7" r="3.6"/>
<circle cx="427.1" cy="127.2" r="3.6"/>
<circle cx="422.9" cy="136.9" r="3.6"/>
<circle cx="418.5" cy="133.8" r="3.6"/>
<circle cx="423.8" cy="137.4" r="3.6"/>
<circle cx="420.3" cy="133.2" r="3.6"/>
<circle cx="427.1" cy="120.2" r="3.6"/>
<circle cx="425.6" cy="158.8" r="3.6"/>
<circle cx="417.6" cy="139.3" r="3.6"/>
<circle cx="421.1" cy="130.3" r="3.6"/>
<circle cx="416.3" cy="117.3" r="3.6"/>
<circle cx="426.4" cy="134.2" r="3.6"/>
<circle cx="425.8" cy="113.2" r="3.6"/>
<circle cx="426.2" cy="152.6" r="3.6"/>
<circle cx="424.3" cy="112.4" r="3.6"/>
<circle cx="426.0" cy="142.4" r="3.6"/>
<circle cx="424.5" cy="113.1" r="3.6"/>
<circle cx="427.6" cy="158.6" r="3.6"/>
<circle cx="421.4" cy="134.3" r="3.6"/>
<circle cx="419.9" cy="139.9" r="3.6"/>
<circle cx="426.7" cy="123.5" r="3.6"/>
<circle cx="425.4" cy="139.8" r="3.6"/>
<circle cx="416.5" cy="128.5" r="3.6"/>
<circle cx="418.1" cy="136.0" r="3.6"/>
<circle cx="419.7" cy="136.6" r="3.6"/>
<circle cx="420.8" cy="122.6" r="3.6"/>
<circle cx="426.7" cy="140.6" r="3.6"/>
<circle cx="416.4" cy="132.5" r="3.6"/>
<circle cx="416.8" cy="111.8" r="3.6"/>
<circle cx="419.8" cy="116.1" r="3.6"/>
<circle cx="416.4" cy="132.8" r="3.6"/>
<circle cx="421.6" cy="149.0" r="3.6"/>
<circle cx="421.3" cy="152.2" r="3.6"/>
<circle cx="418.4" cy="117.8" r="3.6"/>
<circle cx="416.4" cy="157.6" r="3.6"/>
<circle cx="432.9" cy="143.8" r="3.6"/>
<circle cx="438.7" cy="154.9" r="3.6"/>
<circle cx="430.5" cy="127.1" r="3.6"/>
<circle cx="436.4" cy="118.5" r="3.6"/>
<circle cx="439.2" cy="115.3" r="3.6"/>
<circle cx="430.0" cy="159.2" r="3.6"/>
<circle cx="428.6" cy="116.8" r="3.6"/>
<circle cx="432.6" cy="132.8" r="3.6"/>
<circle cx="435.2" cy="157.5" r="3.6"/>
<circle cx="437.5" cy="120.2" r="3.6"/>
<circle cx="430.7" cy="112.8" r="3.6"/>
<circle cx="438.2" cy="135.6" r="3.6"/>
<circle cx="433.1" cy="148.5" r="3.6"/>
<circle cx="431.9" cy="104.6" r="3.6"/>
<circle cx="436.6" cy="157.4" r="3.6"/>
<circle cx="434.8" cy="150.7" r="3.6"/>
<circle cx="436.6" cy="128.7" r="3.6"/>
<circle cx="435.3" cy="138.5" r="3.6"/>
<circle cx="438.1" cy="144.7" r="3.6"/>
<circle cx="434.6" cy="102.3" r="3.6"/>
<circle cx="439.4" cy="158.6" r="3.6"/>
<circle cx="433.6" cy="158.6" r="3.6"/>
<circle cx="433.7" cy="133.2" r="3.6"/>
<circle cx="437.4" cy="113.9" r="3.6"/>
<circle cx="437.8" cy="133.7" r="3.6"/>
<circle cx="428.7" cy="104.6" r="3.6"/>
<circle cx="439.4" cy="129.3" r="3.6"/>
<circle cx="436.5" cy="139.9" r="3.6"/>
<circle cx="438.3" cy="143.7" r="3.6"/>
<circle cx="439.6" cy="103.2" r="3.6"/>
<circle cx="431.9" cy="152.0" r="3.6"/>
<circle cx="431.7" cy="141.6" r="3.6"/>
<circle cx="437.3" cy="109.0" r="3.6"/>
<circle cx="435.5" cy="104.7" r="3.6"/>
<circle cx="438.0" cy="141.1" r="3.6"/>
<circle cx="430.4" cy="159.4" r="3.6"/>
<circle cx="429.7" cy="149.1" r="3.6"/>
<circle cx="435.4" cy="120.4" r="3.6"/>
<circle cx="435.6" cy="150.5" r="3.6"/>
<circle cx="432.0" cy="111.0" r="3.6"/>
<circle cx="429.7" cy="131.3" r="3.6"/>
<circle cx="438.5" cy="136.5" r="3.6"/>
<circle cx="432.9" cy="146.5" r="3.6"/>
<circle cx="429.9" cy="142.0" r="3.6"/>
<circle cx="439.5" cy="108.9" r="3.6"/>
<circle cx="448.4" cy="134.0" r="3.6"/>
<circle cx="446.0" cy="112.2" r="3.6"/>
<circle cx="442.8" cy="140.0" r="3.6"/>
<circle cx="445.0" cy="132.8" r="3.6"/>
<circle cx="445.5" cy="149.3" r="3.6"/>
<circle cx="445.3" cy="148.1" r="3.6"/>
<circle cx="444.7" cy="159.1" r="3.6"/>
<circle cx="447.7" cy="126.9" r="3.6"/>
<circle cx="441.5" cy="147.0" r="3.6"/>
<circle cx="448.9" cy="133.9" r="3.6"/>
<circle cx="445.1" cy="131.1" r="3.6"/>
<circle cx="440.9" cy="157.0" r="3.6"/>
<circle cx="441.2" cy="116.0" r="3.6"/>
<circle cx="442.4" cy="123.4" r="3.6"/>
<circle cx="447.4" cy="119.7" r="3.6"/>
<circle cx="448.0" cy="158.3" r="3.6"/>
<circle cx="447.9" cy="135.5" r="3.6"/>
<circle cx="445.4" cy="122.4" r="3.6"/>
<circle cx="440.5" cy="152.2" r="3.6"/>
<circle cx="442.0" cy="107.3" r="3.6"/>
<circle cx="442.8" cy="153.0" r="3.6"/>
<circle cx="441.0" cy="151.8" r="3.6"/>
<circle cx="441.1" cy="119.8" r="3.6"/>
<circle cx="441.4" cy="111.9" r="3.6"/>
<circle cx="447.1" cy="137.8" r="3.6"/>
<circle cx="448.8" cy="142.8" r="3.6"/>
<circle cx="442.5" cy="149.4" r="3.6"/>
<circle cx="448.9" cy="135.3" r="3.6"/>
<circle cx="445.4" cy="144.9" r="3.6"/>
<circle cx="448.1" cy="107.0" r="3.6"/>
<circle cx="445.4" cy="134.1" r="3.6"/>
<circle cx="441.9" cy="150.6" r="3.6"/>
<circle cx="446.1" cy="125.7" r="3.6"/>
<circle cx="448.4" cy="138.2" r="3.6"/>
<circle cx="445.4" cy="122.7" r="3.6"/>
<circle cx="445.8" cy="147.3" r="3.6"/>
<circle cx="441.0" cy="144.3" r="3.6"/>
<circle cx="442.7" cy="109.4" r="3.6"/>
<circle cx="442.5" cy="143.7" r="3.6"/>
<circle cx="448.0" cy="142.7" r="3.6"/>
<circle cx="456.9" cy="156.7" r="3.6"/>
<circle cx="459.7" cy="143.8" r="3.6"/>
<circle cx="453.4" cy="117.2" r="3.6"/>
<circle cx="455.6" cy="115.8" r="3.6"/>
<circle cx="458.4" cy="142.5" r="3.6"/>
<circle cx="457.6" cy="115.3" r="3.6"/>
<circle cx="460.2" cy="128.0" r="3.6"/>
<circle cx="460.4" cy="134.5" r="3.6"/>
<circle cx="454.3" cy="123.7" r="3.6"/>
<circle cx="452.7" cy="140.7" r="3.6"/>
<circle cx="461.3" cy="122.2" r="3.6"/>
<circle cx="451.4" cy="152.6" r="3.6"/>
<circle cx="451.1" cy="114.2" r="3.6"/>
<circle cx="461.4" cy="142.7" r="3.6"/>
<circle cx="458.5" cy="130.5" r="3.6"/>
<circle cx="461.2" cy="135.8" r="3.6"/>
<circle cx="458.5" cy="134.5" r="3.6"/>
<circle cx="455.6" cy="137.3" r="3.6"/>
<circle cx="460.9" cy="142.3" r="3.6"/>
<circle cx="457.8" cy="116.9" r="3.6"/>
<circle cx="451.2" cy="135.7" r="3.6"/>
<circle cx="459.4" cy="126.8" r="3.6"/>
<circle cx="457.7" cy="126.2" r="3.6"/>
<circle cx="461.0" cy="131.4" r="3.6"/>
<circle cx="453.8" cy="125.2" r="3.6"/>
<circle cx="453.6" cy="120.6" r="3.6"/>
<circle cx="457.3" cy="130.3" r="3.6"/>
<circle cx="457.7" cy="117.7" r="3.6"/>
<circle cx="457.5" cy="117.6" r="3.6"/>
<circle cx="460.6" cy="124.1" r="3.6"/>
<circle cx="464.5" cy="122.9" r="3.6"/>
<circle cx="464.7" cy="161.5" r="3.6"/>
<circle cx="468.1" cy="142.0" r="3.6"/>
<circle cx="468.2" cy="125.1" r="3.6"/>
<circle cx="464.3" cy="128.6" r="3.6"/>
<circle cx="464.7" cy="162.8" r="3.6"/>
<circle cx="465.2" cy="146.5" r="3.6"/>
<circle cx="468.0" cy="158.7" r="3.6"/>
<circle cx="466.9" cy="160.1" r="3.6"/>
<circle cx="464.7" cy="154.5" r="3.6"/>
<circle cx="467.3" cy="132.3" r="3.6"/>
<circle cx="465.0" cy="143.3" r="3.6"/>
<circle cx="468.7" cy="125.9" r="3.6"/>
<circle cx="463.3" cy="120.4" r="3.6"/>
<circle cx="463.1" cy="124.0" r="3.6"/>
<circle cx="467.9" cy="135.1" r="3.6"/>
<circle cx="479.9" cy="121.8" r="3.6"/>
<circle cx="479.9" cy="164.0" r="3.6"/>
<circle cx="478.4" cy="136.2" r="3.6"/>
<circle cx="478.5" cy="158.4" r="3.6"/>
<circle cx="471.5" cy="132.7" r="3.6"/>
<circle cx="470.6" cy="144.5" r="3.6"/>
<circle cx="477.0" cy="120.5" r="3.6"/>
<circle cx="475.7" cy="152.6" r="3.6"/>
<circle cx="480.2" cy="128.4" r="3.6"/>
<circle cx="474.1" cy="129.2" r="3.6"/>
<circle cx="477.4" cy="132.6" r="3.6"/>
<circle cx="471.4" cy="161.1" r="3.6"/>
<circle cx="475.2" cy="146.4" r="3.6"/>
<circle cx="480.3" cy="146.9" r="3.6"/>
<circle cx="477.0" cy="154.8" r="3.6"/>
<circle cx="480.7" cy="150.1" r="3.6"/>
<circle cx="477.2" cy="155.3" r="3.6"/>
<circle cx="476.8" cy="165.2" r="3.6"/>
<circle cx="471.8" cy="132.7" r="3.6"/>
<circle cx="471.0" cy="152.5" r="3.6"/>
<circle cx="481.0" cy="147.5" r="3.6"/>
<circle cx="476.5" cy="140.9" r="3.6"/>
<circle cx="481.0" cy="125.7" r="3.6"/>
<circle cx="479.5" cy="138.1" r="3.6"/>
<circle cx="470.4" cy="144.6" r="3.6"/>
<circle cx="476.8" cy="121.0" r="3.6"/>
<circle cx="474.7" cy="156.5" r="3.6"/>
<circle cx="478.4" cy="163.3" r="3.6"/>
<circle cx="471.5" cy="140.7" r="3.6"/>
<circle cx="473.6" cy="125.5" r="3.6"/>
<circle cx="476.8" cy="146.1" r="3.6"/>
<circle cx="471.1" cy="136.0" r="3.6"/>
<circle cx="477.8" cy="142.5" r="3.6"/>
<circle cx="474.8" cy="161.4" r="3.6"/>
<circle cx="481.5" cy="140.6" r="3.6"/>
<circle cx="475.2" cy="140.7" r="3.6"/>
<circle cx="492.4" cy="137.1" r="3.6"/>
<circle cx="492.9" cy="132.0" r="3.6"/>
<circle cx="482.9" cy="164.1" r="3.6"/>
<circle cx="493.5" cy="158.0" r="3.6"/>
<circle cx="489.4" cy="121.9" r="3.6"/>
<circle cx="488.4" cy="161.7" r="3.6"/>
<circle cx="491.7" cy="159.1" r="3.6"/>
<circle cx="483.3" cy="137.3" r="3.6"/>
<circle cx="482.8" cy="138.7" r="3.6"/>
<circle cx="483.4" cy="142.4" r="3.6"/>
<circle cx="492.8" cy="154.5" r="3.6"/>
<circle cx="484.6" cy="163.0" r="3.6"/>
<circle cx="487.0" cy="148.4" r="3.6"/>
<circle cx="490.0" cy="137.1" r="3.6"/>
<circle cx="493.1" cy="130.3" r="3.6"/>
<circle cx="490.4" cy="133.4" r="3.6"/>
<circle cx="493.0" cy="163.0" r="3.6"/>
<circle cx="489.1" cy="120.7" r="3.6"/>
<circle cx="492.0" cy="129.8" r="3.6"/>
<circle cx="482.9" cy="124.3" r="3.6"/>
<circle cx="486.5" cy="135.7" r="3.6"/>
<circle cx="486.1" cy="163.1" r="3.6"/>
<circle cx="487.0" cy="158.3" r="3.6"/>
<circle cx="485.6" cy="152.2" r="3.6"/>
<circle cx="483.5" cy="165.6" r="3.6"/>
<circle cx="492.6" cy="122.7" r="3.6"/>
<circle cx="490.0" cy="137.4" r="3.6"/>
<circle cx="490.0" cy="163.5" r="3.6"/>
<circle cx="492.1" cy="155.2" r="3.6"/>
<circle cx="483.9" cy="152.8" r="3.6"/>
<circle cx="488.8" cy="118.8" r="3.6"/>
<circle cx="488.7" cy="149.8" r="3.6"/>
<circle cx="490.7" cy="159.0" r="3.6"/>
<circle cx="489.6" cy="150.9" r="3.6"/>
<circle cx="485.5" cy="165.4" r="3.6"/>
<circle cx="484.7" cy="158.7" r="3.6"/>
<circle cx="500.0" cy="124.1" r="3.6"/>
<circle cx="499.2" cy="119.0" r="3.6"/>
<circle cx="494.6" cy="129.8" r="3.6"/>
<circle cx="503.0" cy="133.7" r="3.6"/>
<circle cx="496.0" cy="137.1" r="3.6"/>
<circle cx="505.2" cy="146.1" r="3.6"/>
<circle cx="502.6" cy="139.3" r="3.6"/>
<circle cx="495.6" cy="133.2" r="3.6"/>
<circle cx="499.2" cy="130.6" r="3.6"/>
<circle cx="498.9" cy="127.6" r="3.6"/>
<circle cx="498.8" cy="119.5" r="3.6"/>
<circle cx="501.8" cy="150.5" r="3.6"/>
<circle cx="506.0" cy="128.2" r="3.6"/>
<circle cx="506.3" cy="133.8" r="3.6"/>
<circle cx="501.2" cy="156.2" r="3.6"/>
<circle cx="506.1" cy="140.3" r="3.6"/>
<circle cx="501.0" cy="149.6" r="3.6"/>
<circle cx="505.9" cy="150.1" r="3.6"/>
<circle cx="502.6" cy="152.6" r="3.6"/>
<circle cx="502.7" cy="143.7" r="3.6"/>
<circle cx="495.3" cy="129.3" r="3.6"/>
<circle cx="503.0" cy="129.7" r="3.6"/>
<circle cx="498.0" cy="149.5" r="3.6"/>
<circle cx="495.5" cy="127.1" r="3.6"/>
<circle cx="506.5" cy="144.7" r="3.6"/>
<circle cx="506.2" cy="132.5" r="3.6"/>
<circle cx="504.5" cy="126.9" r="3.6"/>
<circle cx="506.2" cy="144.4" r="3.6"/>
<circle cx="502.0" cy="160.3" r="3.6"/>
<circle cx="495.7" cy="132.0" r="3.6"/>
</g>
<path d="M384.9,112.8 L388.2,114.5 L391.6,116.2 L394.9,117.9 L398.3,119.4 L401.6,121.0 L405.0,122.5 L408.3,123.9 L411.7,125.3 L415.0,126.6 L418.4,127.9 L421.7,129.2 L425.1,130.4 L428.4,131.6 L431.8,132.7 L435.1,133.8 L438.5,134.9 L441.8,135.9 L445.2,136.9 L448.5,137.9 L451.9,138.8 L455.2,139.7 L458.6,140.6 L461.9,141.5 L465.3,142.3 L468.6,143.1 L472.0,143.9 L475.3,144.6 L478.7,145.3 L482.0,146.0 L485.4,146.7 L488.7,147.4 L492.1,148.0 L495.4,148.6 L498.8,149.2 L502.1,149.8 L505.5,150.3 L508.8,150.9 L512.2,151.4 L515.5,151.9" fill="none" stroke="#000" stroke-width="1.7"/>
<text class="b" x="380.8" y="30.2" font-size="18.6" text-anchor="middle">k</text>
<g class="ann">
<text class="s" x="474.0" y="37.3" font-size="14" font-style="italic">r</text>
<text class="s" x="478.4" y="29.4" font-size="9" style="stroke:none">2</text>
<text class="s" x="478.2" y="43.0" font-size="9" textLength="9" lengthAdjust="spacingAndGlyphs" style="stroke:none;fill:#444">adj</text>
<text class="s" x="489.0" y="37.5" font-size="14.2" textLength="29.3" lengthAdjust="spacingAndGlyphs">=0.18</text>
<text class="s" x="474.0" y="61.5" font-size="13.2" textLength="31.3" lengthAdjust="spacingAndGlyphs"><tspan font-style="italic">n</tspan>=510</text>
</g>
<rect x="370.0" y="14.0" width="157.2" height="157" fill="none" stroke="#5e5e5e" stroke-width="1.4"/>
<g fill="#d0d0d0" stroke="#151515" stroke-width="1.0">
<circle cx="592.0" cy="37.6" r="3.6"/>
<circle cx="589.7" cy="62.8" r="3.6"/>
<circle cx="592.7" cy="66.6" r="3.6"/>
<circle cx="586.9" cy="69.9" r="3.6"/>
<circle cx="586.9" cy="74.2" r="3.6"/>
<circle cx="586.9" cy="78.0" r="3.6"/>
<circle cx="589.7" cy="81.8" r="3.6"/>
<circle cx="609.5" cy="66.6" r="3.6"/>
<circle cx="572.1" cy="87.1" r="3.6"/>
<circle cx="572.1" cy="91.7" r="3.6"/>
<circle cx="572.1" cy="96.3" r="3.6"/>
<circle cx="586.9" cy="89.4" r="3.6"/>
<circle cx="589.7" cy="95.5" r="3.6"/>
<circle cx="586.9" cy="100.9" r="3.6"/>
<circle cx="595.8" cy="89.4" r="3.6"/>
<circle cx="602.6" cy="93.2" r="3.6"/>
<circle cx="602.6" cy="99.3" r="3.6"/>
<circle cx="595.8" cy="100.1" r="3.6"/>
<circle cx="609.5" cy="87.9" r="3.6"/>
<circle cx="609.5" cy="100.9" r="3.6"/>
<circle cx="591.2" cy="106.2" r="3.6"/>
<circle cx="596.5" cy="104.7" r="3.6"/>
<circle cx="576.0" cy="112.0" r="3.6"/>
<circle cx="576.0" cy="117.0" r="3.6"/>
<circle cx="585.0" cy="117.0" r="3.6"/>
<circle cx="595.8" cy="117.0" r="3.6"/>
<circle cx="602.6" cy="116.0" r="3.6"/>
<circle cx="611.0" cy="110.0" r="3.6"/>
<circle cx="610.9" cy="109.2" r="3.6"/>
<circle cx="611.3" cy="111.5" r="3.6"/>
<circle cx="568.3" cy="126.8" r="3.6"/>
<circle cx="568.3" cy="135.1" r="3.6"/>
<circle cx="572.1" cy="139.0" r="3.6"/>
<circle cx="572.1" cy="142.8" r="3.6"/>
<circle cx="572.1" cy="150.4" r="3.6"/>
<circle cx="604.1" cy="129.8" r="3.6"/>
<circle cx="604.1" cy="141.2" r="3.6"/>
<circle cx="610.2" cy="142.8" r="3.6"/>
<circle cx="614.0" cy="151.9" r="3.6"/>
<circle cx="609.5" cy="123.0" r="3.6"/>
<circle cx="614.8" cy="127.5" r="3.6"/>
<circle cx="621.7" cy="129.0" r="3.6"/>
<circle cx="610.1" cy="133.6" r="3.6"/>
<circle cx="613.9" cy="151.9" r="3.6"/>
<circle cx="640.6" cy="121.4" r="3.6"/>
<circle cx="645.1" cy="128.3" r="3.6"/>
<circle cx="655.0" cy="133.6" r="3.6"/>
<circle cx="653.5" cy="139.0" r="3.6"/>
<circle cx="648.2" cy="142.8" r="3.6"/>
<circle cx="654.3" cy="163.3" r="3.6"/>
<circle cx="630.7" cy="163.3" r="3.6"/>
<circle cx="657.3" cy="151.9" r="3.6"/>
<circle cx="587.6" cy="119.9" r="3.6"/>
<circle cx="587.4" cy="131.2" r="3.6"/>
<circle cx="578.1" cy="112.2" r="3.6"/>
<circle cx="590.7" cy="113.3" r="3.6"/>
<circle cx="585.1" cy="137.5" r="3.6"/>
<circle cx="591.3" cy="153.0" r="3.6"/>
<circle cx="578.0" cy="142.5" r="3.6"/>
<circle cx="589.7" cy="120.2" r="3.6"/>
<circle cx="590.9" cy="115.9" r="3.6"/>
<circle cx="583.1" cy="120.8" r="3.6"/>
<circle cx="597.1" cy="122.1" r="3.6"/>
<circle cx="581.8" cy="121.5" r="3.6"/>
<circle cx="588.5" cy="118.7" r="3.6"/>
<circle cx="584.1" cy="146.7" r="3.6"/>
<circle cx="597.8" cy="151.0" r="3.6"/>
<circle cx="591.4" cy="151.7" r="3.6"/>
<circle cx="579.8" cy="127.7" r="3.6"/>
<circle cx="593.7" cy="140.2" r="3.6"/>
<circle cx="581.0" cy="150.5" r="3.6"/>
<circle cx="586.5" cy="111.9" r="3.6"/>
<circle cx="586.7" cy="122.2" r="3.6"/>
<circle cx="579.9" cy="130.2" r="3.6"/>
<circle cx="594.6" cy="124.9" r="3.6"/>
<circle cx="595.0" cy="138.7" r="3.6"/>
<circle cx="581.1" cy="144.5" r="3.6"/>
<circle cx="590.7" cy="111.4" r="3.6"/>
<circle cx="593.2" cy="127.8" r="3.6"/>
<circle cx="588.2" cy="132.5" r="3.6"/>
<circle cx="594.3" cy="119.2" r="3.6"/>
<circle cx="587.7" cy="126.4" r="3.6"/>
<circle cx="587.3" cy="129.4" r="3.6"/>
<circle cx="580.5" cy="149.6" r="3.6"/>
<circle cx="585.2" cy="124.5" r="3.6"/>
<circle cx="577.3" cy="133.1" r="3.6"/>
<circle cx="576.7" cy="150.5" r="3.6"/>
<circle cx="598.3" cy="133.8" r="3.6"/>
<circle cx="580.1" cy="137.5" r="3.6"/>
<circle cx="584.2" cy="132.1" r="3.6"/>
<circle cx="583.7" cy="110.9" r="3.6"/>
<circle cx="578.8" cy="128.9" r="3.6"/>
<circle cx="590.4" cy="147.6" r="3.6"/>
<circle cx="581.4" cy="124.2" r="3.6"/>
<circle cx="598.5" cy="155.2" r="3.6"/>
<circle cx="586.5" cy="112.1" r="3.6"/>
<circle cx="590.4" cy="120.3" r="3.6"/>
<circle cx="578.6" cy="110.7" r="3.6"/>
<circle cx="588.5" cy="125.6" r="3.6"/>
<circle cx="595.2" cy="152.5" r="3.6"/>
<circle cx="594.6" cy="149.6" r="3.6"/>
<circle cx="577.0" cy="120.8" r="3.6"/>
<circle cx="577.3" cy="136.1" r="3.6"/>
<circle cx="586.4" cy="155.6" r="3.6"/>
<circle cx="589.8" cy="129.7" r="3.6"/>
<circle cx="578.4" cy="115.6" r="3.6"/>
<circle cx="580.3" cy="118.4" r="3.6"/>
<circle cx="584.0" cy="149.3" r="3.6"/>
<circle cx="583.4" cy="115.3" r="3.6"/>
<circle cx="591.6" cy="144.3" r="3.6"/>
<circle cx="581.8" cy="139.9" r="3.6"/>
<circle cx="591.5" cy="131.3" r="3.6"/>
<circle cx="616.2" cy="128.4" r="3.6"/>
<circle cx="617.0" cy="125.2" r="3.6"/>
<circle cx="601.1" cy="143.2" r="3.6"/>
<circle cx="599.9" cy="119.0" r="3.6"/>
<circle cx="615.0" cy="130.5" r="3.6"/>
<circle cx="611.9" cy="147.1" r="3.6"/>
<circle cx="617.4" cy="137.0" r="3.6"/>
<circle cx="608.0" cy="135.9" r="3.6"/>
<circle cx="607.3" cy="142.8" r="3.6"/>
<circle cx="610.2" cy="140.7" r="3.6"/>
<circle cx="613.7" cy="147.2" r="3.6"/>
<circle cx="614.3" cy="119.4" r="3.6"/>
<circle cx="607.0" cy="140.3" r="3.6"/>
<circle cx="610.5" cy="146.0" r="3.6"/>
<circle cx="611.2" cy="135.2" r="3.6"/>
<circle cx="613.8" cy="131.0" r="3.6"/>
<circle cx="609.5" cy="132.6" r="3.6"/>
<circle cx="607.5" cy="134.8" r="3.6"/>
<circle cx="617.1" cy="137.2" r="3.6"/>
<circle cx="614.9" cy="124.7" r="3.6"/>
<circle cx="608.1" cy="146.5" r="3.6"/>
<circle cx="606.4" cy="136.3" r="3.6"/>
<circle cx="637.0" cy="154.2" r="3.6"/>
<circle cx="623.1" cy="141.3" r="3.6"/>
<circle cx="622.6" cy="143.2" r="3.6"/>
<circle cx="632.6" cy="140.9" r="3.6"/>
<circle cx="625.7" cy="142.7" r="3.6"/>
<circle cx="645.9" cy="145.5" r="3.6"/>
<circle cx="641.1" cy="150.3" r="3.6"/>
<circle cx="629.9" cy="152.1" r="3.6"/>
<circle cx="632.6" cy="139.5" r="3.6"/>
<circle cx="635.9" cy="149.2" r="3.6"/>
<circle cx="638.0" cy="153.3" r="3.6"/>
<circle cx="633.3" cy="128.0" r="3.6"/>
<circle cx="635.2" cy="163.1" r="3.6"/>
<circle cx="649.5" cy="162.9" r="3.6"/>
<circle cx="634.0" cy="157.2" r="3.6"/>
<circle cx="625.9" cy="136.8" r="3.6"/>
<circle cx="630.5" cy="134.0" r="3.6"/>
<circle cx="619.6" cy="159.5" r="3.6"/>
<circle cx="637.2" cy="145.6" r="3.6"/>
<circle cx="641.4" cy="136.1" r="3.6"/>
<circle cx="635.3" cy="142.8" r="3.6"/>
<circle cx="649.4" cy="147.5" r="3.6"/>
<circle cx="623.7" cy="163.9" r="3.6"/>
<circle cx="643.4" cy="160.2" r="3.6"/>
<circle cx="627.0" cy="158.7" r="3.6"/>
<circle cx="629.1" cy="159.7" r="3.6"/>
<circle cx="649.3" cy="145.1" r="3.6"/>
<circle cx="645.5" cy="142.1" r="3.6"/>
<circle cx="627.6" cy="127.4" r="3.6"/>
<circle cx="621.4" cy="137.8" r="3.6"/>
<circle cx="620.4" cy="155.1" r="3.6"/>
<circle cx="620.9" cy="129.6" r="3.6"/>
<circle cx="631.9" cy="146.6" r="3.6"/>
<circle cx="635.7" cy="146.8" r="3.6"/>
<circle cx="643.3" cy="149.1" r="3.6"/>
<circle cx="645.4" cy="149.9" r="3.6"/>
<circle cx="636.5" cy="155.2" r="3.6"/>
<circle cx="620.4" cy="133.0" r="3.6"/>
<circle cx="633.9" cy="136.7" r="3.6"/>
<circle cx="619.7" cy="138.9" r="3.6"/>
<circle cx="640.2" cy="144.1" r="3.6"/>
<circle cx="631.8" cy="131.3" r="3.6"/>
<circle cx="645.6" cy="150.2" r="3.6"/>
<circle cx="641.3" cy="127.6" r="3.6"/>
<circle cx="643.1" cy="159.6" r="3.6"/>
<circle cx="621.4" cy="146.6" r="3.6"/>
<circle cx="622.9" cy="145.1" r="3.6"/>
<circle cx="635.3" cy="141.8" r="3.6"/>
<circle cx="652.0" cy="147.8" r="3.6"/>
<circle cx="652.5" cy="143.9" r="3.6"/>
<circle cx="651.2" cy="134.5" r="3.6"/>
<circle cx="655.6" cy="140.0" r="3.6"/>
<circle cx="655.2" cy="156.7" r="3.6"/>
<circle cx="651.1" cy="150.5" r="3.6"/>
<circle cx="655.2" cy="160.9" r="3.6"/>
<circle cx="655.8" cy="136.4" r="3.6"/>
</g>
<path d="M560.2,108.3 L563.0,110.7 L565.8,113.1 L568.6,115.3 L571.4,117.5 L574.2,119.5 L577.0,121.5 L579.7,123.4 L582.5,125.2 L585.3,126.9 L588.1,128.5 L590.9,130.1 L593.7,131.6 L596.5,133.0 L599.3,134.4 L602.1,135.7 L604.9,137.0 L607.7,138.2 L610.5,139.3 L613.3,140.4 L616.0,141.5 L618.8,142.5 L621.6,143.4 L624.4,144.4 L627.2,145.2 L630.0,146.1 L632.8,146.9 L635.6,147.6 L638.4,148.4 L641.2,149.1 L644.0,149.7 L646.8,150.4 L649.6,151.0 L652.3,151.6 L655.1,152.1 L657.9,152.7 L660.7,153.2 L663.5,153.7 L666.3,154.2 L669.1,154.6" fill="none" stroke="#000" stroke-width="1.7"/>
<text class="b" x="537.8" y="30.2" font-size="18.6" text-anchor="middle">p</text>
<g class="ann">
<text class="s" x="630.8" y="38.3" font-size="14" font-style="italic">r</text>
<text class="s" x="635.2" y="30.4" font-size="9" style="stroke:none">2</text>
<text class="s" x="635.0" y="44.0" font-size="9" textLength="9" lengthAdjust="spacingAndGlyphs" style="stroke:none;fill:#444">adj</text>
<text class="s" x="645.8" y="38.5" font-size="14.2" textLength="29.3" lengthAdjust="spacingAndGlyphs">=0.30</text>
<text class="s" x="630.8" y="62.0" font-size="13.2" textLength="31.3" lengthAdjust="spacingAndGlyphs"><tspan font-style="italic">n</tspan>=229</text>
</g>
<rect x="527.0" y="14.0" width="157.2" height="157" fill="none" stroke="#5e5e5e" stroke-width="1.4"/>
<g fill="#d0d0d0" stroke="#151515" stroke-width="1.0">
<circle cx="66.5" cy="339.6" r="3.6"/>
<circle cx="66.5" cy="343.9" r="3.6"/>
<circle cx="73.5" cy="312.4" r="3.6"/>
<circle cx="73.5" cy="322.9" r="3.6"/>
<circle cx="73.5" cy="326.4" r="3.6"/>
<circle cx="73.5" cy="329.9" r="3.6"/>
<circle cx="73.5" cy="333.4" r="3.6"/>
<circle cx="73.5" cy="336.1" r="3.6"/>
<circle cx="83.2" cy="325.5" r="3.6"/>
<circle cx="83.2" cy="329.9" r="3.6"/>
<circle cx="83.2" cy="334.3" r="3.6"/>
<circle cx="91.0" cy="340.5" r="3.6"/>
<circle cx="96.3" cy="340.5" r="3.6"/>
<circle cx="100.7" cy="341.3" r="3.6"/>
<circle cx="106.8" cy="291.4" r="3.6"/>
<circle cx="103.0" cy="297.5" r="3.6"/>
<circle cx="103.0" cy="305.4" r="3.6"/>
<circle cx="103.0" cy="310.7" r="3.6"/>
<circle cx="103.0" cy="314.2" r="3.6"/>
<circle cx="103.0" cy="317.7" r="3.6"/>
<circle cx="103.0" cy="321.2" r="3.6"/>
<circle cx="119.1" cy="289.6" r="3.6"/>
<circle cx="129.6" cy="313.3" r="3.6"/>
<circle cx="127.8" cy="326.4" r="3.6"/>
<circle cx="139.2" cy="320.3" r="3.6"/>
<circle cx="148.9" cy="320.3" r="3.6"/>
<circle cx="157.6" cy="336.1" r="3.6"/>
<circle cx="164.6" cy="332.6" r="3.6"/>
<circle cx="156.7" cy="341.3" r="3.6"/>
<circle cx="168.1" cy="343.1" r="3.6"/>
<circle cx="155.7" cy="342.9" r="3.6"/>
<circle cx="160.3" cy="333.7" r="3.6"/>
<circle cx="165.6" cy="333.7" r="3.6"/>
<circle cx="133.3" cy="335.5" r="3.6"/>
<circle cx="143.1" cy="340.1" r="3.6"/>
<circle cx="123.8" cy="336.4" r="3.6"/>
<circle cx="128.4" cy="341.1" r="3.6"/>
<circle cx="108.6" cy="329.9" r="3.6"/>
<circle cx="133.9" cy="328.8" r="3.6"/>
<circle cx="115.3" cy="340.1" r="3.6"/>
<circle cx="116.2" cy="341.0" r="3.6"/>
<circle cx="125.6" cy="332.5" r="3.6"/>
<circle cx="147.5" cy="330.7" r="3.6"/>
<circle cx="105.0" cy="331.9" r="3.6"/>
<circle cx="126.9" cy="337.2" r="3.6"/>
<circle cx="146.3" cy="331.5" r="3.6"/>
<circle cx="133.1" cy="331.0" r="3.6"/>
<circle cx="111.0" cy="333.2" r="3.6"/>
<circle cx="124.7" cy="333.0" r="3.6"/>
<circle cx="102.1" cy="344.4" r="3.6"/>
<circle cx="120.7" cy="333.7" r="3.6"/>
<circle cx="111.3" cy="343.9" r="3.6"/>
<circle cx="127.6" cy="330.9" r="3.6"/>
<circle cx="142.2" cy="336.9" r="3.6"/>
<circle cx="106.5" cy="339.2" r="3.6"/>
<circle cx="106.1" cy="333.1" r="3.6"/>
<circle cx="102.7" cy="338.3" r="3.6"/>
<circle cx="139.7" cy="338.0" r="3.6"/>
<circle cx="117.7" cy="333.8" r="3.6"/>
<circle cx="131.9" cy="339.5" r="3.6"/>
<circle cx="143.4" cy="331.5" r="3.6"/>
<circle cx="143.3" cy="331.3" r="3.6"/>
<circle cx="112.5" cy="343.3" r="3.6"/>
<circle cx="116.3" cy="332.7" r="3.6"/>
<circle cx="134.2" cy="345.0" r="3.6"/>
<circle cx="129.9" cy="339.0" r="3.6"/>
<circle cx="137.2" cy="337.3" r="3.6"/>
<circle cx="101.6" cy="331.7" r="3.6"/>
<circle cx="130.3" cy="339.5" r="3.6"/>
<circle cx="99.4" cy="330.5" r="3.6"/>
<circle cx="140.8" cy="329.3" r="3.6"/>
<circle cx="115.7" cy="333.7" r="3.6"/>
<circle cx="133.1" cy="339.0" r="3.6"/>
<circle cx="125.3" cy="332.7" r="3.6"/>
<circle cx="112.4" cy="335.4" r="3.6"/>
<circle cx="100.1" cy="329.8" r="3.6"/>
<circle cx="122.3" cy="341.6" r="3.6"/>
<circle cx="145.9" cy="333.8" r="3.6"/>
<circle cx="133.0" cy="340.7" r="3.6"/>
<circle cx="140.6" cy="343.5" r="3.6"/>
<circle cx="133.7" cy="331.5" r="3.6"/>
<circle cx="116.1" cy="212.7" r="3.6"/>
<circle cx="116.1" cy="217.5" r="3.6"/>
<circle cx="87.8" cy="224.7" r="3.6"/>
<circle cx="110.4" cy="229.4" r="3.6"/>
<circle cx="116.4" cy="229.4" r="3.6"/>
<circle cx="118.8" cy="231.8" r="3.6"/>
<circle cx="119.3" cy="234.2" r="3.6"/>
<circle cx="110.4" cy="244.5" r="3.6"/>
<circle cx="100.9" cy="249.3" r="3.6"/>
<circle cx="100.9" cy="250.6" r="3.6"/>
<circle cx="115.6" cy="254.9" r="3.6"/>
<circle cx="87.8" cy="259.6" r="3.6"/>
<circle cx="104.5" cy="262.8" r="3.6"/>
<circle cx="104.5" cy="266.8" r="3.6"/>
<circle cx="104.5" cy="270.0" r="3.6"/>
<circle cx="110.9" cy="270.0" r="3.6"/>
<circle cx="114.8" cy="266.0" r="3.6"/>
<circle cx="121.2" cy="263.6" r="3.6"/>
<circle cx="125.2" cy="267.6" r="3.6"/>
<circle cx="126.0" cy="270.8" r="3.6"/>
<circle cx="129.2" cy="270.0" r="3.6"/>
<circle cx="125.2" cy="277.9" r="3.6"/>
<circle cx="106.1" cy="283.5" r="3.6"/>
<circle cx="132.3" cy="285.1" r="3.6"/>
<circle cx="87.8" cy="288.3" r="3.6"/>
<circle cx="87.8" cy="292.2" r="3.6"/>
<circle cx="87.8" cy="297.0" r="3.6"/>
<circle cx="82.2" cy="308.1" r="3.6"/>
<circle cx="86.2" cy="332.8" r="3.6"/>
<circle cx="92.6" cy="318.5" r="3.6"/>
<circle cx="92.6" cy="322.5" r="3.6"/>
<circle cx="92.6" cy="327.2" r="3.6"/>
<circle cx="94.2" cy="330.4" r="3.6"/>
<circle cx="100.5" cy="327.2" r="3.6"/>
<circle cx="138.1" cy="242.1" r="3.6"/>
<circle cx="138.6" cy="253.3" r="3.6"/>
<circle cx="138.6" cy="259.6" r="3.6"/>
<circle cx="138.6" cy="265.2" r="3.6"/>
<circle cx="139.4" cy="268.4" r="3.6"/>
<circle cx="138.6" cy="272.4" r="3.6"/>
<circle cx="138.6" cy="276.3" r="3.6"/>
<circle cx="164.8" cy="246.9" r="3.6"/>
<circle cx="163.5" cy="265.2" r="3.6"/>
<circle cx="159.2" cy="282.7" r="3.6"/>
<circle cx="157.7" cy="289.9" r="3.6"/>
<circle cx="164.8" cy="289.9" r="3.6"/>
<circle cx="156.9" cy="300.2" r="3.6"/>
<circle cx="169.6" cy="299.4" r="3.6"/>
<circle cx="178.3" cy="299.9" r="3.6"/>
<circle cx="150.5" cy="309.7" r="3.6"/>
<circle cx="150.5" cy="312.9" r="3.6"/>
<circle cx="186.3" cy="308.2" r="3.6"/>
<circle cx="183.1" cy="313.7" r="3.6"/>
<circle cx="98.2" cy="302.1" r="3.6"/>
<circle cx="101.2" cy="300.1" r="3.6"/>
<circle cx="99.1" cy="299.3" r="3.6"/>
<circle cx="95.5" cy="296.6" r="3.6"/>
<circle cx="100.0" cy="303.2" r="3.6"/>
<circle cx="96.8" cy="303.3" r="3.6"/>
<circle cx="99.8" cy="299.4" r="3.6"/>
<circle cx="99.9" cy="304.3" r="3.6"/>
<circle cx="109.2" cy="333.5" r="3.6"/>
<circle cx="112.1" cy="328.0" r="3.6"/>
<circle cx="106.6" cy="340.8" r="3.6"/>
<circle cx="105.8" cy="299.4" r="3.6"/>
<circle cx="108.9" cy="297.9" r="3.6"/>
<circle cx="106.4" cy="331.3" r="3.6"/>
<circle cx="109.3" cy="336.6" r="3.6"/>
<circle cx="112.9" cy="317.2" r="3.6"/>
<circle cx="105.4" cy="324.0" r="3.6"/>
<circle cx="108.9" cy="289.5" r="3.6"/>
<circle cx="108.1" cy="327.2" r="3.6"/>
<circle cx="108.6" cy="326.3" r="3.6"/>
<circle cx="105.2" cy="301.8" r="3.6"/>
<circle cx="113.0" cy="328.1" r="3.6"/>
<circle cx="106.9" cy="315.7" r="3.6"/>
<circle cx="104.8" cy="308.5" r="3.6"/>
<circle cx="113.1" cy="308.9" r="3.6"/>
<circle cx="109.8" cy="314.4" r="3.6"/>
<circle cx="112.0" cy="296.4" r="3.6"/>
<circle cx="113.2" cy="342.1" r="3.6"/>
<circle cx="110.2" cy="322.8" r="3.6"/>
<circle cx="105.6" cy="296.1" r="3.6"/>
<circle cx="112.4" cy="294.2" r="3.6"/>
<circle cx="111.9" cy="313.5" r="3.6"/>
<circle cx="109.4" cy="311.1" r="3.6"/>
<circle cx="117.3" cy="303.9" r="3.6"/>
<circle cx="113.3" cy="342.4" r="3.6"/>
<circle cx="109.6" cy="287.1" r="3.6"/>
<circle cx="108.3" cy="334.9" r="3.6"/>
<circle cx="113.3" cy="330.0" r="3.6"/>
<circle cx="106.5" cy="336.7" r="3.6"/>
<circle cx="109.4" cy="342.0" r="3.6"/>
<circle cx="116.2" cy="300.7" r="3.6"/>
<circle cx="112.4" cy="334.4" r="3.6"/>
<circle cx="115.5" cy="289.6" r="3.6"/>
<circle cx="111.6" cy="325.3" r="3.6"/>
<circle cx="109.2" cy="331.5" r="3.6"/>
<circle cx="108.4" cy="288.7" r="3.6"/>
<circle cx="117.1" cy="325.0" r="3.6"/>
<circle cx="111.6" cy="287.2" r="3.6"/>
<circle cx="115.6" cy="331.6" r="3.6"/>
<circle cx="112.0" cy="287.7" r="3.6"/>
<circle cx="119.7" cy="285.3" r="3.6"/>
<circle cx="125.2" cy="305.6" r="3.6"/>
<circle cx="121.4" cy="297.6" r="3.6"/>
<circle cx="131.7" cy="328.0" r="3.6"/>
<circle cx="132.0" cy="300.2" r="3.6"/>
<circle cx="128.2" cy="287.7" r="3.6"/>
<circle cx="123.2" cy="343.4" r="3.6"/>
<circle cx="125.6" cy="322.0" r="3.6"/>
<circle cx="135.0" cy="287.9" r="3.6"/>
<circle cx="129.6" cy="285.7" r="3.6"/>
<circle cx="134.7" cy="331.0" r="3.6"/>
<circle cx="123.5" cy="339.2" r="3.6"/>
<circle cx="130.7" cy="341.5" r="3.6"/>
<circle cx="135.2" cy="320.7" r="3.6"/>
<circle cx="126.6" cy="286.4" r="3.6"/>
<circle cx="131.1" cy="298.5" r="3.6"/>
<circle cx="128.4" cy="339.6" r="3.6"/>
<circle cx="134.3" cy="328.4" r="3.6"/>
<circle cx="135.3" cy="331.3" r="3.6"/>
<circle cx="124.5" cy="336.4" r="3.6"/>
<circle cx="132.3" cy="288.0" r="3.6"/>
<circle cx="126.1" cy="297.2" r="3.6"/>
<circle cx="122.5" cy="309.1" r="3.6"/>
<circle cx="119.9" cy="320.0" r="3.6"/>
<circle cx="119.6" cy="295.3" r="3.6"/>
<circle cx="133.5" cy="319.2" r="3.6"/>
<circle cx="127.5" cy="293.8" r="3.6"/>
<circle cx="126.5" cy="325.4" r="3.6"/>
<circle cx="121.4" cy="298.9" r="3.6"/>
<circle cx="128.1" cy="320.6" r="3.6"/>
<circle cx="135.5" cy="331.2" r="3.6"/>
<circle cx="129.0" cy="339.8" r="3.6"/>
<circle cx="122.5" cy="301.2" r="3.6"/>
<circle cx="120.5" cy="299.3" r="3.6"/>
<circle cx="123.2" cy="285.0" r="3.6"/>
<circle cx="130.5" cy="335.6" r="3.6"/>
<circle cx="135.6" cy="336.7" r="3.6"/>
<circle cx="123.2" cy="328.1" r="3.6"/>
<circle cx="118.7" cy="316.5" r="3.6"/>
<circle cx="127.9" cy="295.7" r="3.6"/>
<circle cx="125.1" cy="304.5" r="3.6"/>
<circle cx="135.0" cy="335.0" r="3.6"/>
<circle cx="122.6" cy="287.2" r="3.6"/>
<circle cx="120.2" cy="343.1" r="3.6"/>
<circle cx="122.0" cy="308.3" r="3.6"/>
<circle cx="138.8" cy="327.7" r="3.6"/>
<circle cx="135.2" cy="339.9" r="3.6"/>
<circle cx="142.5" cy="338.7" r="3.6"/>
<circle cx="146.1" cy="317.7" r="3.6"/>
<circle cx="142.7" cy="323.2" r="3.6"/>
<circle cx="142.0" cy="330.6" r="3.6"/>
<circle cx="136.1" cy="301.0" r="3.6"/>
<circle cx="139.6" cy="338.8" r="3.6"/>
<circle cx="145.1" cy="327.0" r="3.6"/>
<circle cx="138.3" cy="304.6" r="3.6"/>
<circle cx="135.5" cy="310.1" r="3.6"/>
<circle cx="139.9" cy="322.4" r="3.6"/>
<circle cx="145.7" cy="341.7" r="3.6"/>
<circle cx="142.5" cy="314.6" r="3.6"/>
<circle cx="147.1" cy="295.6" r="3.6"/>
<circle cx="141.8" cy="340.2" r="3.6"/>
<circle cx="142.0" cy="302.7" r="3.6"/>
<circle cx="142.5" cy="316.4" r="3.6"/>
<circle cx="147.3" cy="319.6" r="3.6"/>
<circle cx="143.2" cy="328.2" r="3.6"/>
<circle cx="136.5" cy="310.1" r="3.6"/>
<circle cx="135.9" cy="324.4" r="3.6"/>
<circle cx="142.3" cy="322.6" r="3.6"/>
<circle cx="138.3" cy="301.6" r="3.6"/>
<circle cx="141.9" cy="328.6" r="3.6"/>
<circle cx="139.4" cy="334.9" r="3.6"/>
<circle cx="141.7" cy="327.5" r="3.6"/>
<circle cx="143.8" cy="307.2" r="3.6"/>
<circle cx="142.8" cy="338.0" r="3.6"/>
<circle cx="142.6" cy="332.8" r="3.6"/>
<circle cx="143.5" cy="320.9" r="3.6"/>
<circle cx="139.5" cy="299.2" r="3.6"/>
<circle cx="140.3" cy="329.7" r="3.6"/>
<circle cx="139.6" cy="322.0" r="3.6"/>
<circle cx="146.3" cy="309.3" r="3.6"/>
<circle cx="150.3" cy="320.9" r="3.6"/>
<circle cx="149.9" cy="314.7" r="3.6"/>
<circle cx="149.1" cy="317.7" r="3.6"/>
<circle cx="150.5" cy="344.1" r="3.6"/>
<circle cx="154.4" cy="317.7" r="3.6"/>
<circle cx="149.9" cy="323.4" r="3.6"/>
<circle cx="153.1" cy="314.9" r="3.6"/>
<circle cx="153.0" cy="331.1" r="3.6"/>
<circle cx="149.7" cy="328.2" r="3.6"/>
<circle cx="150.4" cy="315.6" r="3.6"/>
<circle cx="166.1" cy="343.0" r="3.6"/>
<circle cx="163.3" cy="335.9" r="3.6"/>
<circle cx="170.3" cy="342.8" r="3.6"/>
<circle cx="166.0" cy="317.2" r="3.6"/>
<circle cx="156.9" cy="335.1" r="3.6"/>
<circle cx="169.8" cy="339.8" r="3.6"/>
<circle cx="166.9" cy="309.5" r="3.6"/>
<circle cx="158.1" cy="306.6" r="3.6"/>
<circle cx="156.8" cy="339.8" r="3.6"/>
<circle cx="161.6" cy="307.1" r="3.6"/>
<circle cx="168.7" cy="326.2" r="3.6"/>
<circle cx="168.9" cy="343.5" r="3.6"/>
<circle cx="158.1" cy="306.4" r="3.6"/>
<circle cx="168.9" cy="332.7" r="3.6"/>
<circle cx="165.9" cy="316.8" r="3.6"/>
<circle cx="167.0" cy="330.1" r="3.6"/>
<circle cx="158.1" cy="339.2" r="3.6"/>
<circle cx="163.5" cy="329.4" r="3.6"/>
<circle cx="167.3" cy="335.0" r="3.6"/>
<circle cx="170.2" cy="310.9" r="3.6"/>
<circle cx="163.4" cy="317.9" r="3.6"/>
<circle cx="169.5" cy="326.1" r="3.6"/>
<circle cx="164.3" cy="316.5" r="3.6"/>
<circle cx="163.1" cy="329.9" r="3.6"/>
<circle cx="169.9" cy="333.7" r="3.6"/>
<circle cx="169.3" cy="337.4" r="3.6"/>
<circle cx="158.1" cy="342.5" r="3.6"/>
<circle cx="160.2" cy="323.3" r="3.6"/>
<circle cx="164.1" cy="328.2" r="3.6"/>
<circle cx="163.4" cy="339.1" r="3.6"/>
<circle cx="166.3" cy="319.1" r="3.6"/>
<circle cx="158.1" cy="314.7" r="3.6"/>
<circle cx="184.7" cy="335.7" r="3.6"/>
<circle cx="188.9" cy="343.9" r="3.6"/>
<circle cx="189.0" cy="328.3" r="3.6"/>
<circle cx="178.9" cy="325.4" r="3.6"/>
<circle cx="171.7" cy="331.9" r="3.6"/>
<circle cx="192.1" cy="326.4" r="3.6"/>
<circle cx="181.9" cy="330.0" r="3.6"/>
<circle cx="189.1" cy="329.5" r="3.6"/>
<circle cx="178.2" cy="321.2" r="3.6"/>
<circle cx="171.6" cy="311.6" r="3.6"/>
<circle cx="178.9" cy="312.5" r="3.6"/>
<circle cx="191.0" cy="341.7" r="3.6"/>
<circle cx="188.4" cy="339.4" r="3.6"/>
<circle cx="172.3" cy="326.4" r="3.6"/>
<circle cx="188.0" cy="312.6" r="3.6"/>
<circle cx="187.6" cy="330.0" r="3.6"/>
<circle cx="171.6" cy="317.9" r="3.6"/>
<circle cx="191.0" cy="316.7" r="3.6"/>
<circle cx="171.7" cy="337.2" r="3.6"/>
<circle cx="177.8" cy="343.8" r="3.6"/>
<circle cx="186.0" cy="332.6" r="3.6"/>
<circle cx="181.5" cy="307.9" r="3.6"/>
<circle cx="175.7" cy="312.7" r="3.6"/>
<circle cx="173.2" cy="344.4" r="3.6"/>
<circle cx="178.7" cy="311.0" r="3.6"/>
<circle cx="182.1" cy="341.6" r="3.6"/>
<circle cx="183.0" cy="341.7" r="3.6"/>
<circle cx="191.0" cy="328.3" r="3.6"/>
<circle cx="174.8" cy="339.0" r="3.6"/>
<circle cx="174.8" cy="323.5" r="3.6"/>
<circle cx="179.2" cy="308.7" r="3.6"/>
<circle cx="179.6" cy="316.5" r="3.6"/>
<circle cx="187.5" cy="311.6" r="3.6"/>
<circle cx="186.1" cy="332.3" r="3.6"/>
<circle cx="187.9" cy="307.5" r="3.6"/>
<circle cx="171.5" cy="343.7" r="3.6"/>
</g>
<path d="M58.3,338.2 L62.0,336.9 L65.6,335.5 L69.3,334.1 L73.0,332.8 L76.7,331.5 L80.3,330.3 L84.0,329.1 L87.7,328.0 L91.3,326.9 L95.0,326.0 L98.7,325.1 L102.4,324.4 L106.0,323.7 L109.7,323.2 L113.4,322.8 L117.0,322.5 L120.7,322.3 L124.4,322.2 L128.1,322.3 L131.7,322.5 L135.4,322.8 L139.1,323.2 L142.8,323.8 L146.4,324.4 L150.1,325.2 L153.8,326.0 L157.4,327.0 L161.1,328.0 L164.8,329.1 L168.5,330.3 L172.1,331.5 L175.8,332.8 L179.5,334.1 L183.1,335.4 L186.8,336.8 L190.5,338.1 L194.2,339.4 L197.8,340.6 L201.5,341.8" fill="none" stroke="#000" stroke-width="1.7"/>
<text class="b" x="68.0" y="207.9" font-size="18.6" text-anchor="middle">b</text>
<g class="ann">
<text class="s" x="162.5" y="212.3" font-size="14" font-style="italic">r</text>
<text class="s" x="166.9" y="204.4" font-size="9" style="stroke:none">2</text>
<text class="s" x="166.7" y="218.0" font-size="9" textLength="9" lengthAdjust="spacingAndGlyphs" style="stroke:none;fill:#444">adj</text>
<text class="s" x="177.5" y="212.5" font-size="14.2" textLength="29.3" lengthAdjust="spacingAndGlyphs">=0.14</text>
<text class="s" x="162.5" y="236.8" font-size="13.2" textLength="31.3" lengthAdjust="spacingAndGlyphs"><tspan font-style="italic">n</tspan>=689</text>
</g>
<rect x="56.0" y="190.5" width="157.2" height="157" fill="none" stroke="#5e5e5e" stroke-width="1.4"/>
<line x1="55.9" y1="190.5" x2="55.9" y2="347.5" stroke="#444" stroke-width="1.5"/>
<g fill="#d0d0d0" stroke="#151515" stroke-width="1.0">
<circle cx="223.5" cy="339.6" r="3.6"/>
<circle cx="223.5" cy="343.9" r="3.6"/>
<circle cx="230.5" cy="312.4" r="3.6"/>
<circle cx="230.5" cy="322.9" r="3.6"/>
<circle cx="230.5" cy="326.4" r="3.6"/>
<circle cx="230.5" cy="329.9" r="3.6"/>
<circle cx="230.5" cy="333.4" r="3.6"/>
<circle cx="230.5" cy="336.1" r="3.6"/>
<circle cx="240.2" cy="325.5" r="3.6"/>
<circle cx="240.2" cy="329.9" r="3.6"/>
<circle cx="240.2" cy="334.3" r="3.6"/>
<circle cx="248.0" cy="340.5" r="3.6"/>
<circle cx="253.3" cy="340.5" r="3.6"/>
<circle cx="257.7" cy="341.3" r="3.6"/>
<circle cx="263.8" cy="291.4" r="3.6"/>
<circle cx="260.0" cy="297.5" r="3.6"/>
<circle cx="260.0" cy="305.4" r="3.6"/>
<circle cx="260.0" cy="310.7" r="3.6"/>
<circle cx="260.0" cy="314.2" r="3.6"/>
<circle cx="260.0" cy="317.7" r="3.6"/>
<circle cx="260.0" cy="321.2" r="3.6"/>
<circle cx="276.1" cy="289.6" r="3.6"/>
<circle cx="286.6" cy="313.3" r="3.6"/>
<circle cx="284.8" cy="326.4" r="3.6"/>
<circle cx="296.2" cy="320.3" r="3.6"/>
<circle cx="305.9" cy="320.3" r="3.6"/>
<circle cx="314.6" cy="336.1" r="3.6"/>
<circle cx="321.6" cy="332.6" r="3.6"/>
<circle cx="313.7" cy="341.3" r="3.6"/>
<circle cx="325.1" cy="343.1" r="3.6"/>
<circle cx="312.7" cy="342.9" r="3.6"/>
<circle cx="317.3" cy="333.7" r="3.6"/>
<circle cx="322.6" cy="333.7" r="3.6"/>
<circle cx="290.3" cy="335.5" r="3.6"/>
<circle cx="300.1" cy="340.1" r="3.6"/>
<circle cx="280.8" cy="336.4" r="3.6"/>
<circle cx="285.4" cy="341.1" r="3.6"/>
<circle cx="265.6" cy="329.9" r="3.6"/>
<circle cx="290.9" cy="328.8" r="3.6"/>
<circle cx="272.3" cy="340.1" r="3.6"/>
<circle cx="273.2" cy="341.0" r="3.6"/>
<circle cx="282.6" cy="332.5" r="3.6"/>
<circle cx="304.5" cy="330.7" r="3.6"/>
<circle cx="262.0" cy="331.9" r="3.6"/>
<circle cx="283.9" cy="337.2" r="3.6"/>
<circle cx="303.3" cy="331.5" r="3.6"/>
<circle cx="290.1" cy="331.0" r="3.6"/>
<circle cx="268.0" cy="333.2" r="3.6"/>
<circle cx="281.7" cy="333.0" r="3.6"/>
<circle cx="259.1" cy="344.4" r="3.6"/>
<circle cx="277.7" cy="333.7" r="3.6"/>
<circle cx="268.3" cy="343.9" r="3.6"/>
<circle cx="284.6" cy="330.9" r="3.6"/>
<circle cx="299.2" cy="336.9" r="3.6"/>
<circle cx="263.5" cy="339.2" r="3.6"/>
<circle cx="263.1" cy="333.1" r="3.6"/>
<circle cx="259.7" cy="338.3" r="3.6"/>
<circle cx="296.7" cy="338.0" r="3.6"/>
<circle cx="274.7" cy="333.8" r="3.6"/>
<circle cx="288.9" cy="339.5" r="3.6"/>
<circle cx="300.4" cy="331.5" r="3.6"/>
<circle cx="300.3" cy="331.3" r="3.6"/>
<circle cx="269.5" cy="343.3" r="3.6"/>
<circle cx="273.3" cy="332.7" r="3.6"/>
<circle cx="291.2" cy="345.0" r="3.6"/>
<circle cx="286.9" cy="339.0" r="3.6"/>
<circle cx="294.2" cy="337.3" r="3.6"/>
<circle cx="258.6" cy="331.7" r="3.6"/>
<circle cx="287.3" cy="339.5" r="3.6"/>
<circle cx="256.4" cy="330.5" r="3.6"/>
<circle cx="297.8" cy="329.3" r="3.6"/>
<circle cx="272.7" cy="333.7" r="3.6"/>
<circle cx="290.1" cy="339.0" r="3.6"/>
<circle cx="282.3" cy="332.7" r="3.6"/>
<circle cx="269.4" cy="335.4" r="3.6"/>
<circle cx="257.1" cy="329.8" r="3.6"/>
<circle cx="279.3" cy="341.6" r="3.6"/>
<circle cx="302.9" cy="333.8" r="3.6"/>
<circle cx="290.0" cy="340.7" r="3.6"/>
<circle cx="297.6" cy="343.5" r="3.6"/>
<circle cx="290.7" cy="331.5" r="3.6"/>
</g>
<text class="b" x="223.8" y="207.9" font-size="18.6" text-anchor="middle">g</text>
<rect x="213.0" y="190.5" width="157.2" height="157" fill="none" stroke="#5e5e5e" stroke-width="1.4"/>
<g fill="#d0d0d0" stroke="#151515" stroke-width="1.0">
<circle cx="430.1" cy="212.7" r="3.6"/>
<circle cx="430.1" cy="217.5" r="3.6"/>
<circle cx="401.8" cy="224.7" r="3.6"/>
<circle cx="424.4" cy="229.4" r="3.6"/>
<circle cx="430.4" cy="229.4" r="3.6"/>
<circle cx="432.8" cy="231.8" r="3.6"/>
<circle cx="433.3" cy="234.2" r="3.6"/>
<circle cx="424.4" cy="244.5" r="3.6"/>
<circle cx="414.9" cy="249.3" r="3.6"/>
<circle cx="414.9" cy="250.6" r="3.6"/>
<circle cx="429.6" cy="254.9" r="3.6"/>
<circle cx="401.8" cy="259.6" r="3.6"/>
<circle cx="418.5" cy="262.8" r="3.6"/>
<circle cx="418.5" cy="266.8" r="3.6"/>
<circle cx="418.5" cy="270.0" r="3.6"/>
<circle cx="424.9" cy="270.0" r="3.6"/>
<circle cx="428.8" cy="266.0" r="3.6"/>
<circle cx="435.2" cy="263.6" r="3.6"/>
<circle cx="439.2" cy="267.6" r="3.6"/>
<circle cx="440.0" cy="270.8" r="3.6"/>
<circle cx="443.2" cy="270.0" r="3.6"/>
<circle cx="439.2" cy="277.9" r="3.6"/>
<circle cx="420.1" cy="283.5" r="3.6"/>
<circle cx="446.3" cy="285.1" r="3.6"/>
<circle cx="401.8" cy="288.3" r="3.6"/>
<circle cx="401.8" cy="292.2" r="3.6"/>
<circle cx="401.8" cy="297.0" r="3.6"/>
<circle cx="396.2" cy="308.1" r="3.6"/>
<circle cx="400.2" cy="332.8" r="3.6"/>
<circle cx="406.6" cy="318.5" r="3.6"/>
<circle cx="406.6" cy="322.5" r="3.6"/>
<circle cx="406.6" cy="327.2" r="3.6"/>
<circle cx="408.2" cy="330.4" r="3.6"/>
<circle cx="414.5" cy="327.2" r="3.6"/>
<circle cx="452.1" cy="242.1" r="3.6"/>
<circle cx="452.6" cy="253.3" r="3.6"/>
<circle cx="452.6" cy="259.6" r="3.6"/>
<circle cx="452.6" cy="265.2" r="3.6"/>
<circle cx="453.4" cy="268.4" r="3.6"/>
<circle cx="452.6" cy="272.4" r="3.6"/>
<circle cx="452.6" cy="276.3" r="3.6"/>
<circle cx="478.8" cy="246.9" r="3.6"/>
<circle cx="477.5" cy="265.2" r="3.6"/>
<circle cx="473.2" cy="282.7" r="3.6"/>
<circle cx="471.7" cy="289.9" r="3.6"/>
<circle cx="478.8" cy="289.9" r="3.6"/>
<circle cx="470.9" cy="300.2" r="3.6"/>
<circle cx="483.6" cy="299.4" r="3.6"/>
<circle cx="492.3" cy="299.9" r="3.6"/>
<circle cx="464.5" cy="309.7" r="3.6"/>
<circle cx="464.5" cy="312.9" r="3.6"/>
<circle cx="500.3" cy="308.2" r="3.6"/>
<circle cx="497.1" cy="313.7" r="3.6"/>
<circle cx="412.2" cy="302.1" r="3.6"/>
<circle cx="415.2" cy="300.1" r="3.6"/>
<circle cx="413.1" cy="299.3" r="3.6"/>
<circle cx="409.5" cy="296.6" r="3.6"/>
<circle cx="414.0" cy="303.2" r="3.6"/>
<circle cx="410.8" cy="303.3" r="3.6"/>
<circle cx="413.8" cy="299.4" r="3.6"/>
<circle cx="413.9" cy="304.3" r="3.6"/>
<circle cx="423.2" cy="333.5" r="3.6"/>
<circle cx="426.1" cy="328.0" r="3.6"/>
<circle cx="420.6" cy="340.8" r="3.6"/>
<circle cx="419.8" cy="299.4" r="3.6"/>
<circle cx="422.9" cy="297.9" r="3.6"/>
<circle cx="420.4" cy="331.3" r="3.6"/>
<circle cx="423.3" cy="336.6" r="3.6"/>
<circle cx="426.9" cy="317.2" r="3.6"/>
<circle cx="419.4" cy="324.0" r="3.6"/>
<circle cx="422.9" cy="289.5" r="3.6"/>
<circle cx="422.1" cy="327.2" r="3.6"/>
<circle cx="422.6" cy="326.3" r="3.6"/>
<circle cx="419.2" cy="301.8" r="3.6"/>
<circle cx="427.0" cy="328.1" r="3.6"/>
<circle cx="420.9" cy="315.7" r="3.6"/>
<circle cx="418.8" cy="308.5" r="3.6"/>
<circle cx="427.1" cy="308.9" r="3.6"/>
<circle cx="423.8" cy="314.4" r="3.6"/>
<circle cx="426.0" cy="296.4" r="3.6"/>
<circle cx="427.2" cy="342.1" r="3.6"/>
<circle cx="424.2" cy="322.8" r="3.6"/>
<circle cx="419.6" cy="296.1" r="3.6"/>
<circle cx="426.4" cy="294.2" r="3.6"/>
<circle cx="425.9" cy="313.5" r="3.6"/>
<circle cx="423.4" cy="311.1" r="3.6"/>
<circle cx="431.3" cy="303.9" r="3.6"/>
<circle cx="427.3" cy="342.4" r="3.6"/>
<circle cx="423.6" cy="287.1" r="3.6"/>
<circle cx="422.3" cy="334.9" r="3.6"/>
<circle cx="427.3" cy="330.0" r="3.6"/>
<circle cx="420.5" cy="336.7" r="3.6"/>
<circle cx="423.4" cy="342.0" r="3.6"/>
<circle cx="430.2" cy="300.7" r="3.6"/>
<circle cx="426.4" cy="334.4" r="3.6"/>
<circle cx="429.5" cy="289.6" r="3.6"/>
<circle cx="425.6" cy="325.3" r="3.6"/>
<circle cx="423.2" cy="331.5" r="3.6"/>
<circle cx="422.4" cy="288.7" r="3.6"/>
<circle cx="431.1" cy="325.0" r="3.6"/>
<circle cx="425.6" cy="287.2" r="3.6"/>
<circle cx="429.6" cy="331.6" r="3.6"/>
<circle cx="426.0" cy="287.7" r="3.6"/>
<circle cx="433.7" cy="285.3" r="3.6"/>
<circle cx="439.2" cy="305.6" r="3.6"/>
<circle cx="435.4" cy="297.6" r="3.6"/>
<circle cx="445.7" cy="328.0" r="3.6"/>
<circle cx="446.0" cy="300.2" r="3.6"/>
<circle cx="442.2" cy="287.7" r="3.6"/>
<circle cx="437.2" cy="343.4" r="3.6"/>
<circle cx="439.6" cy="322.0" r="3.6"/>
<circle cx="449.0" cy="287.9" r="3.6"/>
<circle cx="443.6" cy="285.7" r="3.6"/>
<circle cx="448.7" cy="331.0" r="3.6"/>
<circle cx="437.5" cy="339.2" r="3.6"/>
<circle cx="444.7" cy="341.5" r="3.6"/>
<circle cx="449.2" cy="320.7" r="3.6"/>
<circle cx="440.6" cy="286.4" r="3.6"/>
<circle cx="445.1" cy="298.5" r="3.6"/>
<circle cx="442.4" cy="339.6" r="3.6"/>
<circle cx="448.3" cy="328.4" r="3.6"/>
<circle cx="449.3" cy="331.3" r="3.6"/>
<circle cx="438.5" cy="336.4" r="3.6"/>
<circle cx="446.3" cy="288.0" r="3.6"/>
<circle cx="440.1" cy="297.2" r="3.6"/>
<circle cx="436.5" cy="309.1" r="3.6"/>
<circle cx="433.9" cy="320.0" r="3.6"/>
<circle cx="433.6" cy="295.3" r="3.6"/>
<circle cx="447.5" cy="319.2" r="3.6"/>
<circle cx="441.5" cy="293.8" r="3.6"/>
<circle cx="440.5" cy="325.4" r="3.6"/>
<circle cx="435.4" cy="298.9" r="3.6"/>
<circle cx="442.1" cy="320.6" r="3.6"/>
<circle cx="449.5" cy="331.2" r="3.6"/>
<circle cx="443.0" cy="339.8" r="3.6"/>
<circle cx="436.5" cy="301.2" r="3.6"/>
<circle cx="434.5" cy="299.3" r="3.6"/>
<circle cx="437.2" cy="285.0" r="3.6"/>
<circle cx="444.5" cy="335.6" r="3.6"/>
<circle cx="449.6" cy="336.7" r="3.6"/>
<circle cx="437.2" cy="328.1" r="3.6"/>
<circle cx="432.7" cy="316.5" r="3.6"/>
<circle cx="441.9" cy="295.7" r="3.6"/>
<circle cx="439.1" cy="304.5" r="3.6"/>
<circle cx="449.0" cy="335.0" r="3.6"/>
<circle cx="436.6" cy="287.2" r="3.6"/>
<circle cx="434.2" cy="343.1" r="3.6"/>
<circle cx="436.0" cy="308.3" r="3.6"/>
<circle cx="452.8" cy="327.7" r="3.6"/>
<circle cx="449.2" cy="339.9" r="3.6"/>
<circle cx="456.5" cy="338.7" r="3.6"/>
<circle cx="460.1" cy="317.7" r="3.6"/>
<circle cx="456.7" cy="323.2" r="3.6"/>
<circle cx="456.0" cy="330.6" r="3.6"/>
<circle cx="450.1" cy="301.0" r="3.6"/>
<circle cx="453.6" cy="338.8" r="3.6"/>
<circle cx="459.1" cy="327.0" r="3.6"/>
<circle cx="452.3" cy="304.6" r="3.6"/>
<circle cx="449.5" cy="310.1" r="3.6"/>
<circle cx="453.9" cy="322.4" r="3.6"/>
<circle cx="459.7" cy="341.7" r="3.6"/>
<circle cx="456.5" cy="314.6" r="3.6"/>
<circle cx="461.1" cy="295.6" r="3.6"/>
<circle cx="455.8" cy="340.2" r="3.6"/>
<circle cx="456.0" cy="302.7" r="3.6"/>
<circle cx="456.5" cy="316.4" r="3.6"/>
<circle cx="461.3" cy="319.6" r="3.6"/>
<circle cx="457.2" cy="328.2" r="3.6"/>
<circle cx="450.5" cy="310.1" r="3.6"/>
<circle cx="449.9" cy="324.4" r="3.6"/>
<circle cx="456.3" cy="322.6" r="3.6"/>
<circle cx="452.3" cy="301.6" r="3.6"/>
<circle cx="455.9" cy="328.6" r="3.6"/>
<circle cx="453.4" cy="334.9" r="3.6"/>
<circle cx="455.7" cy="327.5" r="3.6"/>
<circle cx="457.8" cy="307.2" r="3.6"/>
<circle cx="456.8" cy="338.0" r="3.6"/>
<circle cx="456.6" cy="332.8" r="3.6"/>
<circle cx="457.5" cy="320.9" r="3.6"/>
<circle cx="453.5" cy="299.2" r="3.6"/>
<circle cx="454.3" cy="329.7" r="3.6"/>
<circle cx="453.6" cy="322.0" r="3.6"/>
<circle cx="460.3" cy="309.3" r="3.6"/>
<circle cx="464.3" cy="320.9" r="3.6"/>
<circle cx="463.9" cy="314.7" r="3.6"/>
<circle cx="463.1" cy="317.7" r="3.6"/>
<circle cx="464.5" cy="344.1" r="3.6"/>
<circle cx="468.4" cy="317.7" r="3.6"/>
<circle cx="463.9" cy="323.4" r="3.6"/>
<circle cx="467.1" cy="314.9" r="3.6"/>
<circle cx="467.0" cy="331.1" r="3.6"/>
<circle cx="463.7" cy="328.2" r="3.6"/>
<circle cx="464.4" cy="315.6" r="3.6"/>
<circle cx="480.1" cy="343.0" r="3.6"/>
<circle cx="477.3" cy="335.9" r="3.6"/>
<circle cx="484.3" cy="342.8" r="3.6"/>
<circle cx="480.0" cy="317.2" r="3.6"/>
<circle cx="470.9" cy="335.1" r="3.6"/>
<circle cx="483.8" cy="339.8" r="3.6"/>
<circle cx="480.9" cy="309.5" r="3.6"/>
<circle cx="472.1" cy="306.6" r="3.6"/>
<circle cx="470.8" cy="339.8" r="3.6"/>
<circle cx="475.6" cy="307.1" r="3.6"/>
<circle cx="482.7" cy="326.2" r="3.6"/>
<circle cx="482.9" cy="343.5" r="3.6"/>
<circle cx="472.1" cy="306.4" r="3.6"/>
<circle cx="482.9" cy="332.7" r="3.6"/>
<circle cx="479.9" cy="316.8" r="3.6"/>
<circle cx="481.0" cy="330.1" r="3.6"/>
<circle cx="472.1" cy="339.2" r="3.6"/>
<circle cx="477.5" cy="329.4" r="3.6"/>
<circle cx="481.3" cy="335.0" r="3.6"/>
<circle cx="484.2" cy="310.9" r="3.6"/>
<circle cx="477.4" cy="317.9" r="3.6"/>
<circle cx="483.5" cy="326.1" r="3.6"/>
<circle cx="478.3" cy="316.5" r="3.6"/>
<circle cx="477.1" cy="329.9" r="3.6"/>
<circle cx="483.9" cy="333.7" r="3.6"/>
<circle cx="483.3" cy="337.4" r="3.6"/>
<circle cx="472.1" cy="342.5" r="3.6"/>
<circle cx="474.2" cy="323.3" r="3.6"/>
<circle cx="478.1" cy="328.2" r="3.6"/>
<circle cx="477.4" cy="339.1" r="3.6"/>
<circle cx="480.3" cy="319.1" r="3.6"/>
<circle cx="472.1" cy="314.7" r="3.6"/>
<circle cx="498.7" cy="335.7" r="3.6"/>
<circle cx="502.9" cy="343.9" r="3.6"/>
<circle cx="503.0" cy="328.3" r="3.6"/>
<circle cx="492.9" cy="325.4" r="3.6"/>
<circle cx="485.7" cy="331.9" r="3.6"/>
<circle cx="506.1" cy="326.4" r="3.6"/>
<circle cx="495.9" cy="330.0" r="3.6"/>
<circle cx="503.1" cy="329.5" r="3.6"/>
<circle cx="492.2" cy="321.2" r="3.6"/>
<circle cx="485.6" cy="311.6" r="3.6"/>
<circle cx="492.9" cy="312.5" r="3.6"/>
<circle cx="505.0" cy="341.7" r="3.6"/>
<circle cx="502.4" cy="339.4" r="3.6"/>
<circle cx="486.3" cy="326.4" r="3.6"/>
<circle cx="502.0" cy="312.6" r="3.6"/>
<circle cx="501.6" cy="330.0" r="3.6"/>
<circle cx="485.6" cy="317.9" r="3.6"/>
<circle cx="505.0" cy="316.7" r="3.6"/>
<circle cx="485.7" cy="337.2" r="3.6"/>
<circle cx="491.8" cy="343.8" r="3.6"/>
<circle cx="500.0" cy="332.6" r="3.6"/>
<circle cx="495.5" cy="307.9" r="3.6"/>
<circle cx="489.7" cy="312.7" r="3.6"/>
<circle cx="487.2" cy="344.4" r="3.6"/>
<circle cx="492.7" cy="311.0" r="3.6"/>
<circle cx="496.1" cy="341.6" r="3.6"/>
<circle cx="497.0" cy="341.7" r="3.6"/>
<circle cx="505.0" cy="328.3" r="3.6"/>
<circle cx="488.8" cy="339.0" r="3.6"/>
<circle cx="488.8" cy="323.5" r="3.6"/>
<circle cx="493.2" cy="308.7" r="3.6"/>
<circle cx="493.6" cy="316.5" r="3.6"/>
<circle cx="501.5" cy="311.6" r="3.6"/>
<circle cx="500.1" cy="332.3" r="3.6"/>
<circle cx="501.9" cy="307.5" r="3.6"/>
<circle cx="485.5" cy="343.7" r="3.6"/>
</g>
<path d="M384.9,269.4 L388.2,273.3 L391.6,277.0 L394.9,280.5 L398.3,283.8 L401.6,287.0 L405.0,290.0 L408.3,292.9 L411.7,295.7 L415.0,298.3 L418.4,300.8 L421.7,303.1 L425.1,305.4 L428.4,307.5 L431.8,309.6 L435.1,311.5 L438.5,313.4 L441.8,315.1 L445.2,316.8 L448.5,318.4 L451.9,320.0 L455.2,321.4 L458.6,322.8 L461.9,324.1 L465.3,325.3 L468.6,326.5 L472.0,327.7 L475.3,328.8 L478.7,329.8 L482.0,330.8 L485.4,331.7 L488.7,332.6 L492.1,333.4 L495.4,334.2 L498.8,335.0 L502.1,335.7 L505.5,336.4 L508.8,337.1 L512.2,337.7 L515.5,338.3" fill="none" stroke="#000" stroke-width="1.7"/>
<text class="b" x="380.8" y="207.9" font-size="18.6" text-anchor="middle">l</text>
<g class="ann">
<text class="s" x="474.5" y="212.5" font-size="14" font-style="italic">r</text>
<text class="s" x="478.9" y="204.6" font-size="9" style="stroke:none">2</text>
<text class="s" x="478.7" y="218.2" font-size="9" textLength="9" lengthAdjust="spacingAndGlyphs" style="stroke:none;fill:#444">adj</text>
<text class="s" x="489.5" y="212.7" font-size="14.2" textLength="29.3" lengthAdjust="spacingAndGlyphs">=0.35</text>
<text class="s" x="474.5" y="237.0" font-size="13.2" textLength="31.3" lengthAdjust="spacingAndGlyphs"><tspan font-style="italic">n</tspan>=510</text>
</g>
<rect x="370.0" y="190.5" width="157.2" height="157" fill="none" stroke="#5e5e5e" stroke-width="1.4"/>
<g fill="#d0d0d0" stroke="#151515" stroke-width="1.0">
<circle cx="586.8" cy="212.7" r="3.6"/>
<circle cx="586.8" cy="217.5" r="3.6"/>
<circle cx="586.8" cy="229.4" r="3.6"/>
<circle cx="589.1" cy="231.0" r="3.6"/>
<circle cx="589.6" cy="234.2" r="3.6"/>
<circle cx="572.1" cy="249.3" r="3.6"/>
<circle cx="572.1" cy="250.1" r="3.6"/>
<circle cx="586.8" cy="254.9" r="3.6"/>
<circle cx="575.9" cy="262.0" r="3.6"/>
<circle cx="575.9" cy="266.8" r="3.6"/>
<circle cx="575.9" cy="270.0" r="3.6"/>
<circle cx="586.8" cy="265.2" r="3.6"/>
<circle cx="592.3" cy="264.4" r="3.6"/>
<circle cx="596.3" cy="268.4" r="3.6"/>
<circle cx="596.3" cy="273.2" r="3.6"/>
<circle cx="595.5" cy="277.9" r="3.6"/>
<circle cx="609.8" cy="253.3" r="3.6"/>
<circle cx="609.8" cy="259.6" r="3.6"/>
<circle cx="610.6" cy="268.4" r="3.6"/>
<circle cx="609.8" cy="272.4" r="3.6"/>
<circle cx="609.8" cy="274.8" r="3.6"/>
<circle cx="604.3" cy="285.1" r="3.6"/>
<circle cx="567.7" cy="298.6" r="3.6"/>
<circle cx="567.7" cy="304.2" r="3.6"/>
<circle cx="572.4" cy="304.2" r="3.6"/>
<circle cx="572.4" cy="308.1" r="3.6"/>
<circle cx="571.7" cy="327.2" r="3.6"/>
<circle cx="613.8" cy="336.8" r="3.6"/>
<circle cx="621.8" cy="309.7" r="3.6"/>
<circle cx="621.8" cy="312.9" r="3.6"/>
<circle cx="640.6" cy="299.9" r="3.6"/>
<circle cx="638.2" cy="315.3" r="3.6"/>
<circle cx="635.8" cy="319.3" r="3.6"/>
<circle cx="645.4" cy="318.5" r="3.6"/>
<circle cx="657.3" cy="327.2" r="3.6"/>
<circle cx="614.3" cy="336.8" r="3.6"/>
<circle cx="612.0" cy="325.5" r="3.6"/>
<circle cx="615.0" cy="329.5" r="3.6"/>
<circle cx="588.8" cy="321.0" r="3.6"/>
<circle cx="582.0" cy="284.0" r="3.6"/>
<circle cx="578.3" cy="332.6" r="3.6"/>
<circle cx="578.9" cy="286.7" r="3.6"/>
<circle cx="588.6" cy="286.4" r="3.6"/>
<circle cx="584.5" cy="324.5" r="3.6"/>
<circle cx="581.5" cy="302.3" r="3.6"/>
<circle cx="580.9" cy="290.8" r="3.6"/>
<circle cx="578.4" cy="334.5" r="3.6"/>
<circle cx="588.2" cy="292.6" r="3.6"/>
<circle cx="584.6" cy="316.5" r="3.6"/>
<circle cx="578.1" cy="319.9" r="3.6"/>
<circle cx="591.1" cy="333.7" r="3.6"/>
<circle cx="590.4" cy="296.9" r="3.6"/>
<circle cx="588.2" cy="309.0" r="3.6"/>
<circle cx="578.9" cy="299.4" r="3.6"/>
<circle cx="584.4" cy="323.9" r="3.6"/>
<circle cx="578.0" cy="334.7" r="3.6"/>
<circle cx="581.6" cy="286.5" r="3.6"/>
<circle cx="582.0" cy="313.3" r="3.6"/>
<circle cx="586.0" cy="298.8" r="3.6"/>
<circle cx="581.2" cy="318.0" r="3.6"/>
<circle cx="585.5" cy="334.6" r="3.6"/>
<circle cx="592.2" cy="297.6" r="3.6"/>
<circle cx="579.0" cy="334.8" r="3.6"/>
<circle cx="582.9" cy="308.6" r="3.6"/>
<circle cx="585.2" cy="305.9" r="3.6"/>
<circle cx="592.5" cy="324.0" r="3.6"/>
<circle cx="578.9" cy="326.4" r="3.6"/>
<circle cx="592.2" cy="327.4" r="3.6"/>
<circle cx="578.0" cy="305.2" r="3.6"/>
<circle cx="590.7" cy="286.8" r="3.6"/>
<circle cx="582.2" cy="307.9" r="3.6"/>
<circle cx="577.9" cy="284.6" r="3.6"/>
<circle cx="587.9" cy="326.1" r="3.6"/>
<circle cx="579.5" cy="312.7" r="3.6"/>
<circle cx="578.9" cy="308.8" r="3.6"/>
<circle cx="588.2" cy="325.5" r="3.6"/>
<circle cx="584.6" cy="295.8" r="3.6"/>
<circle cx="579.2" cy="288.4" r="3.6"/>
<circle cx="609.9" cy="301.3" r="3.6"/>
<circle cx="604.0" cy="312.2" r="3.6"/>
<circle cx="609.6" cy="289.9" r="3.6"/>
<circle cx="601.5" cy="288.9" r="3.6"/>
<circle cx="598.5" cy="308.0" r="3.6"/>
<circle cx="594.4" cy="302.9" r="3.6"/>
<circle cx="613.5" cy="308.7" r="3.6"/>
<circle cx="596.3" cy="304.3" r="3.6"/>
<circle cx="602.6" cy="328.5" r="3.6"/>
<circle cx="595.7" cy="296.3" r="3.6"/>
<circle cx="604.1" cy="319.1" r="3.6"/>
<circle cx="598.3" cy="315.7" r="3.6"/>
<circle cx="612.5" cy="313.4" r="3.6"/>
<circle cx="594.7" cy="302.5" r="3.6"/>
<circle cx="603.0" cy="303.9" r="3.6"/>
<circle cx="600.3" cy="329.2" r="3.6"/>
<circle cx="609.5" cy="302.0" r="3.6"/>
<circle cx="603.4" cy="298.3" r="3.6"/>
<circle cx="603.9" cy="292.3" r="3.6"/>
<circle cx="612.6" cy="298.0" r="3.6"/>
<circle cx="603.9" cy="329.1" r="3.6"/>
<circle cx="606.0" cy="297.0" r="3.6"/>
<circle cx="598.3" cy="294.5" r="3.6"/>
<circle cx="593.5" cy="328.3" r="3.6"/>
<circle cx="608.6" cy="330.3" r="3.6"/>
<circle cx="604.4" cy="313.7" r="3.6"/>
<circle cx="610.3" cy="304.7" r="3.6"/>
<circle cx="602.8" cy="320.1" r="3.6"/>
<circle cx="602.5" cy="320.2" r="3.6"/>
<circle cx="613.0" cy="297.1" r="3.6"/>
<circle cx="594.8" cy="315.0" r="3.6"/>
<circle cx="600.0" cy="311.4" r="3.6"/>
<circle cx="603.7" cy="319.1" r="3.6"/>
<circle cx="612.5" cy="312.2" r="3.6"/>
<circle cx="594.2" cy="288.9" r="3.6"/>
<circle cx="643.5" cy="331.5" r="3.6"/>
<circle cx="639.6" cy="337.1" r="3.6"/>
<circle cx="647.5" cy="322.0" r="3.6"/>
<circle cx="639.9" cy="339.1" r="3.6"/>
<circle cx="654.0" cy="324.1" r="3.6"/>
<circle cx="656.2" cy="336.1" r="3.6"/>
<circle cx="652.6" cy="334.8" r="3.6"/>
<circle cx="640.9" cy="332.1" r="3.6"/>
<circle cx="646.1" cy="336.6" r="3.6"/>
<circle cx="644.1" cy="324.6" r="3.6"/>
<circle cx="640.1" cy="321.5" r="3.6"/>
<circle cx="634.3" cy="327.1" r="3.6"/>
<circle cx="643.6" cy="338.6" r="3.6"/>
<circle cx="657.0" cy="323.8" r="3.6"/>
<circle cx="647.6" cy="338.5" r="3.6"/>
<circle cx="647.9" cy="338.3" r="3.6"/>
<circle cx="643.9" cy="323.3" r="3.6"/>
<circle cx="646.1" cy="333.9" r="3.6"/>
<circle cx="628.9" cy="321.5" r="3.6"/>
<circle cx="633.4" cy="326.1" r="3.6"/>
<circle cx="633.8" cy="334.9" r="3.6"/>
<circle cx="636.2" cy="328.3" r="3.6"/>
<circle cx="643.0" cy="338.7" r="3.6"/>
<circle cx="624.8" cy="325.5" r="3.6"/>
<circle cx="625.0" cy="336.4" r="3.6"/>
<circle cx="633.7" cy="335.9" r="3.6"/>
<circle cx="656.8" cy="342.7" r="3.6"/>
<circle cx="631.8" cy="338.2" r="3.6"/>
<circle cx="630.0" cy="336.6" r="3.6"/>
<circle cx="624.5" cy="342.7" r="3.6"/>
<circle cx="634.6" cy="335.1" r="3.6"/>
<circle cx="639.9" cy="323.2" r="3.6"/>
<circle cx="627.1" cy="335.1" r="3.6"/>
<circle cx="628.2" cy="343.1" r="3.6"/>
<circle cx="651.0" cy="339.6" r="3.6"/>
<circle cx="654.2" cy="332.1" r="3.6"/>
<circle cx="631.1" cy="331.4" r="3.6"/>
<circle cx="647.3" cy="328.3" r="3.6"/>
</g>
<path d="M560.2,268.1 L563.0,273.1 L565.8,277.7 L568.6,282.1 L571.4,286.2 L574.2,290.1 L577.0,293.7 L579.7,297.1 L582.5,300.3 L585.3,303.3 L588.1,306.1 L590.9,308.7 L593.7,311.2 L596.5,313.5 L599.3,315.7 L602.1,317.7 L604.9,319.6 L607.7,321.4 L610.5,323.1 L613.3,324.7 L616.0,326.2 L618.8,327.6 L621.6,328.9 L624.4,330.1 L627.2,331.3 L630.0,332.4 L632.8,333.4 L635.6,334.3 L638.4,335.2 L641.2,336.1 L644.0,336.8 L646.8,337.6 L649.6,338.3 L652.3,338.9 L655.1,339.5 L657.9,340.1 L660.7,340.6 L663.5,341.1 L666.3,341.6 L669.1,342.1" fill="none" stroke="#000" stroke-width="1.7"/>
<text class="b" x="537.8" y="207.9" font-size="18.6" text-anchor="middle">q</text>
<g class="ann">
<text class="s" x="632.5" y="214.3" font-size="14" font-style="italic">r</text>
<text class="s" x="636.9" y="206.4" font-size="9" style="stroke:none">2</text>
<text class="s" x="636.7" y="220.0" font-size="9" textLength="9" lengthAdjust="spacingAndGlyphs" style="stroke:none;fill:#444">adj</text>
<text class="s" x="647.5" y="214.5" font-size="14.2" textLength="29.3" lengthAdjust="spacingAndGlyphs">=0.43</text>
<text class="s" x="632.5" y="238.5" font-size="13.2" textLength="31.3" lengthAdjust="spacingAndGlyphs"><tspan font-style="italic">n</tspan>=229</text>
</g>
<rect x="527.0" y="190.5" width="157.2" height="157" fill="none" stroke="#5e5e5e" stroke-width="1.4"/>
<g fill="#d0d0d0" stroke="#151515" stroke-width="1.0">
<circle cx="66.5" cy="508.8" r="3.6"/>
<circle cx="66.5" cy="512.3" r="3.6"/>
<circle cx="66.9" cy="515.8" r="3.6"/>
<circle cx="73.5" cy="486.1" r="3.6"/>
<circle cx="73.5" cy="497.4" r="3.6"/>
<circle cx="73.5" cy="501.0" r="3.6"/>
<circle cx="73.5" cy="505.3" r="3.6"/>
<circle cx="73.5" cy="508.8" r="3.6"/>
<circle cx="73.5" cy="512.3" r="3.6"/>
<circle cx="83.2" cy="486.1" r="3.6"/>
<circle cx="83.2" cy="488.5" r="3.6"/>
<circle cx="83.2" cy="490.4" r="3.6"/>
<circle cx="83.2" cy="497.4" r="3.6"/>
<circle cx="83.2" cy="501.0" r="3.6"/>
<circle cx="91.0" cy="510.6" r="3.6"/>
<circle cx="91.0" cy="515.8" r="3.6"/>
<circle cx="96.3" cy="491.3" r="3.6"/>
<circle cx="103.0" cy="474.7" r="3.6"/>
<circle cx="103.0" cy="481.7" r="3.6"/>
<circle cx="103.0" cy="485.2" r="3.6"/>
<circle cx="103.0" cy="488.0" r="3.6"/>
<circle cx="103.0" cy="490.4" r="3.6"/>
<circle cx="106.8" cy="480.8" r="3.6"/>
<circle cx="98.0" cy="499.0" r="3.6"/>
<circle cx="100.0" cy="505.0" r="3.6"/>
<circle cx="100.7" cy="505.3" r="3.6"/>
<circle cx="100.5" cy="510.0" r="3.6"/>
<circle cx="104.2" cy="513.3" r="3.6"/>
<circle cx="108.5" cy="510.0" r="3.6"/>
<circle cx="108.5" cy="517.0" r="3.6"/>
<circle cx="108.5" cy="502.0" r="3.6"/>
<circle cx="110.3" cy="496.6" r="3.6"/>
<circle cx="108.0" cy="489.6" r="3.6"/>
<circle cx="116.4" cy="493.0" r="3.6"/>
<circle cx="116.4" cy="500.0" r="3.6"/>
<circle cx="119.0" cy="499.0" r="3.6"/>
<circle cx="111.5" cy="494.0" r="3.6"/>
<circle cx="128.7" cy="441.4" r="3.6"/>
<circle cx="128.7" cy="460.7" r="3.6"/>
<circle cx="148.9" cy="462.1" r="3.6"/>
<circle cx="119.1" cy="467.7" r="3.6"/>
<circle cx="123.4" cy="470.3" r="3.6"/>
<circle cx="121.7" cy="473.8" r="3.6"/>
<circle cx="127.8" cy="472.9" r="3.6"/>
<circle cx="134.0" cy="470.6" r="3.6"/>
<circle cx="139.2" cy="467.7" r="3.6"/>
<circle cx="119.1" cy="482.6" r="3.6"/>
<circle cx="123.4" cy="485.2" r="3.6"/>
<circle cx="129.6" cy="485.2" r="3.6"/>
<circle cx="138.3" cy="480.8" r="3.6"/>
<circle cx="138.3" cy="485.2" r="3.6"/>
<circle cx="138.3" cy="488.7" r="3.6"/>
<circle cx="133.0" cy="492.2" r="3.6"/>
<circle cx="133.0" cy="499.2" r="3.6"/>
<circle cx="138.3" cy="496.6" r="3.6"/>
<circle cx="143.6" cy="500.1" r="3.6"/>
<circle cx="138.3" cy="503.6" r="3.6"/>
<circle cx="123.4" cy="512.3" r="3.6"/>
<circle cx="128.7" cy="506.2" r="3.6"/>
<circle cx="132.2" cy="512.3" r="3.6"/>
<circle cx="128.3" cy="509.0" r="3.6"/>
<circle cx="143.6" cy="509.7" r="3.6"/>
<circle cx="148.9" cy="508.8" r="3.6"/>
<circle cx="156.7" cy="508.8" r="3.6"/>
<circle cx="155.9" cy="515.8" r="3.6"/>
<circle cx="168.1" cy="511.0" r="3.6"/>
<circle cx="156.7" cy="489.6" r="3.6"/>
<circle cx="156.7" cy="493.1" r="3.6"/>
<circle cx="156.7" cy="495.7" r="3.6"/>
<circle cx="157.6" cy="500.1" r="3.6"/>
<circle cx="160.2" cy="481.7" r="3.6"/>
<circle cx="165.5" cy="481.7" r="3.6"/>
<circle cx="119.0" cy="465.6" r="3.6"/>
<circle cx="114.0" cy="487.0" r="3.6"/>
<circle cx="122.0" cy="495.0" r="3.6"/>
<circle cx="126.0" cy="501.0" r="3.6"/>
<circle cx="101.0" cy="495.0" r="3.6"/>
<circle cx="105.0" cy="499.0" r="3.6"/>
<circle cx="112.0" cy="507.0" r="3.6"/>
<circle cx="116.1" cy="399.3" r="3.6"/>
<circle cx="116.1" cy="402.4" r="3.6"/>
<circle cx="121.5" cy="405.6" r="3.6"/>
<circle cx="118.8" cy="410.4" r="3.6"/>
<circle cx="115.6" cy="413.3" r="3.6"/>
<circle cx="118.3" cy="420.7" r="3.6"/>
<circle cx="115.6" cy="423.9" r="3.6"/>
<circle cx="125.2" cy="428.2" r="3.6"/>
<circle cx="100.9" cy="431.9" r="3.6"/>
<circle cx="100.9" cy="435.0" r="3.6"/>
<circle cx="100.9" cy="437.1" r="3.6"/>
<circle cx="87.8" cy="445.4" r="3.6"/>
<circle cx="92.3" cy="451.8" r="3.6"/>
<circle cx="115.6" cy="445.4" r="3.6"/>
<circle cx="121.2" cy="440.6" r="3.6"/>
<circle cx="125.2" cy="440.3" r="3.6"/>
<circle cx="104.5" cy="449.4" r="3.6"/>
<circle cx="104.5" cy="453.3" r="3.6"/>
<circle cx="104.5" cy="456.5" r="3.6"/>
<circle cx="110.9" cy="455.7" r="3.6"/>
<circle cx="118.8" cy="453.3" r="3.6"/>
<circle cx="125.2" cy="451.8" r="3.6"/>
<circle cx="130.0" cy="452.5" r="3.6"/>
<circle cx="131.5" cy="459.7" r="3.6"/>
<circle cx="82.2" cy="473.2" r="3.6"/>
<circle cx="87.8" cy="472.4" r="3.6"/>
<circle cx="127.6" cy="513.0" r="3.6"/>
<circle cx="138.6" cy="415.2" r="3.6"/>
<circle cx="138.6" cy="419.9" r="3.6"/>
<circle cx="138.6" cy="439.0" r="3.6"/>
<circle cx="138.6" cy="448.6" r="3.6"/>
<circle cx="140.2" cy="454.9" r="3.6"/>
<circle cx="139.4" cy="459.7" r="3.6"/>
<circle cx="139.4" cy="464.5" r="3.6"/>
<circle cx="164.8" cy="458.1" r="3.6"/>
<circle cx="159.2" cy="463.7" r="3.6"/>
<circle cx="164.8" cy="472.4" r="3.6"/>
<circle cx="178.3" cy="465.3" r="3.6"/>
<circle cx="183.1" cy="466.9" r="3.6"/>
<circle cx="88.0" cy="490.1" r="3.6"/>
<circle cx="85.5" cy="488.4" r="3.6"/>
<circle cx="85.3" cy="498.5" r="3.6"/>
<circle cx="88.1" cy="495.3" r="3.6"/>
<circle cx="95.8" cy="497.8" r="3.6"/>
<circle cx="94.8" cy="475.9" r="3.6"/>
<circle cx="96.2" cy="475.9" r="3.6"/>
<circle cx="87.1" cy="481.0" r="3.6"/>
<circle cx="88.7" cy="486.0" r="3.6"/>
<circle cx="91.7" cy="485.4" r="3.6"/>
<circle cx="83.8" cy="474.2" r="3.6"/>
<circle cx="88.7" cy="487.8" r="3.6"/>
<circle cx="87.5" cy="474.7" r="3.6"/>
<circle cx="91.9" cy="496.3" r="3.6"/>
<circle cx="91.4" cy="481.7" r="3.6"/>
<circle cx="87.8" cy="487.1" r="3.6"/>
<circle cx="84.4" cy="489.9" r="3.6"/>
<circle cx="84.1" cy="475.9" r="3.6"/>
<circle cx="85.2" cy="486.1" r="3.6"/>
<circle cx="83.6" cy="479.5" r="3.6"/>
<circle cx="88.9" cy="494.9" r="3.6"/>
<circle cx="94.4" cy="471.3" r="3.6"/>
<circle cx="91.3" cy="502.8" r="3.6"/>
<circle cx="92.9" cy="486.9" r="3.6"/>
<circle cx="89.3" cy="491.6" r="3.6"/>
<circle cx="85.3" cy="483.6" r="3.6"/>
<circle cx="94.4" cy="487.8" r="3.6"/>
<circle cx="85.5" cy="496.9" r="3.6"/>
<circle cx="87.8" cy="499.5" r="3.6"/>
<circle cx="91.0" cy="496.3" r="3.6"/>
<circle cx="98.4" cy="498.8" r="3.6"/>
<circle cx="99.7" cy="505.5" r="3.6"/>
<circle cx="99.4" cy="500.3" r="3.6"/>
<circle cx="103.4" cy="490.8" r="3.6"/>
<circle cx="97.9" cy="503.4" r="3.6"/>
<circle cx="98.8" cy="479.9" r="3.6"/>
<circle cx="101.2" cy="483.9" r="3.6"/>
<circle cx="99.2" cy="485.0" r="3.6"/>
<circle cx="113.7" cy="510.2" r="3.6"/>
<circle cx="108.5" cy="457.3" r="3.6"/>
<circle cx="109.7" cy="494.7" r="3.6"/>
<circle cx="104.7" cy="488.5" r="3.6"/>
<circle cx="110.4" cy="486.7" r="3.6"/>
<circle cx="115.9" cy="498.0" r="3.6"/>
<circle cx="106.9" cy="487.0" r="3.6"/>
<circle cx="115.4" cy="476.2" r="3.6"/>
<circle cx="115.3" cy="510.9" r="3.6"/>
<circle cx="115.4" cy="490.2" r="3.6"/>
<circle cx="117.2" cy="490.2" r="3.6"/>
<circle cx="116.3" cy="491.1" r="3.6"/>
<circle cx="112.8" cy="512.6" r="3.6"/>
<circle cx="106.4" cy="501.4" r="3.6"/>
<circle cx="112.2" cy="507.4" r="3.6"/>
<circle cx="113.4" cy="472.4" r="3.6"/>
<circle cx="115.1" cy="510.7" r="3.6"/>
<circle cx="106.1" cy="462.8" r="3.6"/>
<circle cx="117.1" cy="480.6" r="3.6"/>
<circle cx="109.0" cy="511.7" r="3.6"/>
<circle cx="105.5" cy="494.5" r="3.6"/>
<circle cx="115.3" cy="493.0" r="3.6"/>
<circle cx="113.8" cy="457.2" r="3.6"/>
<circle cx="109.7" cy="498.5" r="3.6"/>
<circle cx="106.4" cy="498.8" r="3.6"/>
<circle cx="104.9" cy="496.6" r="3.6"/>
<circle cx="116.4" cy="457.3" r="3.6"/>
<circle cx="105.7" cy="482.8" r="3.6"/>
<circle cx="110.4" cy="508.6" r="3.6"/>
<circle cx="116.7" cy="476.8" r="3.6"/>
<circle cx="115.6" cy="490.7" r="3.6"/>
<circle cx="117.1" cy="505.4" r="3.6"/>
<circle cx="113.0" cy="491.7" r="3.6"/>
<circle cx="116.9" cy="489.0" r="3.6"/>
<circle cx="104.8" cy="511.9" r="3.6"/>
<circle cx="115.8" cy="475.5" r="3.6"/>
<circle cx="110.2" cy="510.5" r="3.6"/>
<circle cx="108.7" cy="503.5" r="3.6"/>
<circle cx="110.2" cy="500.3" r="3.6"/>
<circle cx="106.8" cy="490.8" r="3.6"/>
<circle cx="109.0" cy="485.9" r="3.6"/>
<circle cx="109.3" cy="476.2" r="3.6"/>
<circle cx="113.4" cy="459.0" r="3.6"/>
<circle cx="112.5" cy="478.5" r="3.6"/>
<circle cx="113.1" cy="466.3" r="3.6"/>
<circle cx="125.2" cy="456.5" r="3.6"/>
<circle cx="125.3" cy="461.9" r="3.6"/>
<circle cx="132.1" cy="467.2" r="3.6"/>
<circle cx="122.3" cy="469.0" r="3.6"/>
<circle cx="132.3" cy="475.2" r="3.6"/>
<circle cx="124.9" cy="507.1" r="3.6"/>
<circle cx="129.5" cy="477.1" r="3.6"/>
<circle cx="125.2" cy="456.7" r="3.6"/>
<circle cx="134.3" cy="480.9" r="3.6"/>
<circle cx="125.3" cy="508.6" r="3.6"/>
<circle cx="134.9" cy="496.3" r="3.6"/>
<circle cx="130.9" cy="496.9" r="3.6"/>
<circle cx="118.5" cy="482.6" r="3.6"/>
<circle cx="124.7" cy="481.7" r="3.6"/>
<circle cx="122.8" cy="499.7" r="3.6"/>
<circle cx="123.0" cy="465.6" r="3.6"/>
<circle cx="118.8" cy="484.3" r="3.6"/>
<circle cx="122.0" cy="477.6" r="3.6"/>
<circle cx="120.2" cy="502.2" r="3.6"/>
<circle cx="123.1" cy="459.6" r="3.6"/>
<circle cx="124.6" cy="506.4" r="3.6"/>
<circle cx="130.9" cy="505.1" r="3.6"/>
<circle cx="129.3" cy="487.9" r="3.6"/>
<circle cx="133.9" cy="490.4" r="3.6"/>
<circle cx="127.5" cy="510.3" r="3.6"/>
<circle cx="132.3" cy="499.8" r="3.6"/>
<circle cx="135.7" cy="471.2" r="3.6"/>
<circle cx="129.4" cy="464.3" r="3.6"/>
<circle cx="133.4" cy="480.9" r="3.6"/>
<circle cx="129.3" cy="483.3" r="3.6"/>
<circle cx="125.9" cy="491.5" r="3.6"/>
<circle cx="135.0" cy="507.7" r="3.6"/>
<circle cx="130.7" cy="484.3" r="3.6"/>
<circle cx="135.5" cy="472.8" r="3.6"/>
<circle cx="125.1" cy="493.0" r="3.6"/>
<circle cx="125.1" cy="455.6" r="3.6"/>
<circle cx="119.8" cy="482.7" r="3.6"/>
<circle cx="121.7" cy="476.4" r="3.6"/>
<circle cx="130.7" cy="482.9" r="3.6"/>
<circle cx="131.9" cy="498.5" r="3.6"/>
<circle cx="134.3" cy="498.9" r="3.6"/>
<circle cx="124.9" cy="485.0" r="3.6"/>
<circle cx="130.5" cy="475.3" r="3.6"/>
<circle cx="126.3" cy="477.9" r="3.6"/>
<circle cx="125.6" cy="493.0" r="3.6"/>
<circle cx="141.0" cy="477.5" r="3.6"/>
<circle cx="142.9" cy="492.5" r="3.6"/>
<circle cx="142.7" cy="503.0" r="3.6"/>
<circle cx="137.7" cy="482.4" r="3.6"/>
<circle cx="142.3" cy="508.5" r="3.6"/>
<circle cx="141.0" cy="513.4" r="3.6"/>
<circle cx="147.6" cy="475.5" r="3.6"/>
<circle cx="143.8" cy="505.3" r="3.6"/>
<circle cx="137.9" cy="496.0" r="3.6"/>
<circle cx="146.0" cy="495.6" r="3.6"/>
<circle cx="145.5" cy="504.7" r="3.6"/>
<circle cx="139.5" cy="477.4" r="3.6"/>
<circle cx="143.0" cy="501.6" r="3.6"/>
<circle cx="137.8" cy="505.9" r="3.6"/>
<circle cx="137.5" cy="513.9" r="3.6"/>
<circle cx="138.1" cy="488.0" r="3.6"/>
<circle cx="144.7" cy="512.2" r="3.6"/>
<circle cx="137.2" cy="490.7" r="3.6"/>
<circle cx="147.4" cy="501.9" r="3.6"/>
<circle cx="144.1" cy="492.2" r="3.6"/>
<circle cx="136.8" cy="470.5" r="3.6"/>
<circle cx="147.7" cy="495.4" r="3.6"/>
<circle cx="146.6" cy="474.5" r="3.6"/>
<circle cx="143.3" cy="499.8" r="3.6"/>
<circle cx="137.0" cy="488.7" r="3.6"/>
<circle cx="136.5" cy="467.5" r="3.6"/>
<circle cx="142.4" cy="475.0" r="3.6"/>
<circle cx="145.5" cy="474.7" r="3.6"/>
<circle cx="141.7" cy="509.6" r="3.6"/>
<circle cx="142.7" cy="513.0" r="3.6"/>
<circle cx="140.3" cy="484.6" r="3.6"/>
<circle cx="141.7" cy="493.6" r="3.6"/>
<circle cx="146.6" cy="507.4" r="3.6"/>
<circle cx="137.5" cy="493.9" r="3.6"/>
<circle cx="146.8" cy="513.4" r="3.6"/>
<circle cx="149.0" cy="482.1" r="3.6"/>
<circle cx="149.3" cy="498.1" r="3.6"/>
<circle cx="149.8" cy="482.1" r="3.6"/>
<circle cx="150.9" cy="487.7" r="3.6"/>
<circle cx="149.8" cy="490.7" r="3.6"/>
<circle cx="149.5" cy="492.2" r="3.6"/>
<circle cx="153.4" cy="482.2" r="3.6"/>
<circle cx="149.8" cy="488.1" r="3.6"/>
<circle cx="153.9" cy="475.3" r="3.6"/>
<circle cx="155.0" cy="514.7" r="3.6"/>
<circle cx="150.7" cy="508.2" r="3.6"/>
<circle cx="154.4" cy="487.7" r="3.6"/>
<circle cx="150.0" cy="502.6" r="3.6"/>
<circle cx="153.6" cy="507.2" r="3.6"/>
<circle cx="153.2" cy="498.8" r="3.6"/>
<circle cx="167.4" cy="497.3" r="3.6"/>
<circle cx="168.4" cy="471.5" r="3.6"/>
<circle cx="166.6" cy="474.0" r="3.6"/>
<circle cx="158.4" cy="488.8" r="3.6"/>
<circle cx="160.4" cy="484.8" r="3.6"/>
<circle cx="164.5" cy="497.4" r="3.6"/>
<circle cx="168.3" cy="470.2" r="3.6"/>
<circle cx="161.0" cy="491.0" r="3.6"/>
<circle cx="158.8" cy="516.6" r="3.6"/>
<circle cx="164.0" cy="476.3" r="3.6"/>
<circle cx="156.5" cy="504.9" r="3.6"/>
<circle cx="166.2" cy="494.8" r="3.6"/>
<circle cx="170.5" cy="491.3" r="3.6"/>
<circle cx="168.0" cy="491.0" r="3.6"/>
<circle cx="165.1" cy="490.8" r="3.6"/>
<circle cx="166.3" cy="475.9" r="3.6"/>
<circle cx="163.1" cy="466.5" r="3.6"/>
<circle cx="161.9" cy="491.7" r="3.6"/>
<circle cx="157.8" cy="496.8" r="3.6"/>
<circle cx="161.9" cy="507.7" r="3.6"/>
<circle cx="170.5" cy="489.6" r="3.6"/>
<circle cx="167.3" cy="475.2" r="3.6"/>
<circle cx="166.9" cy="465.7" r="3.6"/>
<circle cx="171.1" cy="473.4" r="3.6"/>
<circle cx="168.2" cy="515.4" r="3.6"/>
<circle cx="166.3" cy="480.1" r="3.6"/>
<circle cx="167.1" cy="499.7" r="3.6"/>
<circle cx="169.7" cy="475.6" r="3.6"/>
<circle cx="161.3" cy="509.4" r="3.6"/>
<circle cx="166.8" cy="472.6" r="3.6"/>
<circle cx="168.4" cy="478.6" r="3.6"/>
<circle cx="170.3" cy="494.7" r="3.6"/>
<circle cx="167.8" cy="497.7" r="3.6"/>
<circle cx="163.4" cy="467.3" r="3.6"/>
<circle cx="163.5" cy="487.9" r="3.6"/>
<circle cx="166.6" cy="479.4" r="3.6"/>
<circle cx="161.1" cy="493.3" r="3.6"/>
<circle cx="167.0" cy="515.0" r="3.6"/>
<circle cx="160.5" cy="502.1" r="3.6"/>
<circle cx="170.5" cy="493.6" r="3.6"/>
<circle cx="166.9" cy="482.6" r="3.6"/>
<circle cx="156.6" cy="482.1" r="3.6"/>
<circle cx="192.7" cy="471.9" r="3.6"/>
<circle cx="176.4" cy="466.6" r="3.6"/>
<circle cx="178.6" cy="470.2" r="3.6"/>
<circle cx="179.3" cy="466.1" r="3.6"/>
<circle cx="190.9" cy="510.4" r="3.6"/>
<circle cx="177.2" cy="512.2" r="3.6"/>
<circle cx="190.6" cy="470.4" r="3.6"/>
<circle cx="174.3" cy="514.8" r="3.6"/>
<circle cx="184.9" cy="503.1" r="3.6"/>
<circle cx="192.0" cy="504.2" r="3.6"/>
<circle cx="192.1" cy="489.7" r="3.6"/>
<circle cx="189.3" cy="475.9" r="3.6"/>
<circle cx="187.8" cy="481.5" r="3.6"/>
<circle cx="189.0" cy="490.0" r="3.6"/>
<circle cx="188.3" cy="510.0" r="3.6"/>
<circle cx="174.3" cy="474.1" r="3.6"/>
<circle cx="192.4" cy="490.2" r="3.6"/>
<circle cx="177.4" cy="478.8" r="3.6"/>
<circle cx="175.7" cy="471.9" r="3.6"/>
<circle cx="178.5" cy="465.5" r="3.6"/>
<circle cx="174.0" cy="486.5" r="3.6"/>
<circle cx="185.8" cy="490.6" r="3.6"/>
<circle cx="179.5" cy="514.7" r="3.6"/>
<circle cx="173.8" cy="495.5" r="3.6"/>
<circle cx="189.1" cy="469.2" r="3.6"/>
<circle cx="176.8" cy="469.2" r="3.6"/>
<circle cx="173.0" cy="466.1" r="3.6"/>
<circle cx="182.5" cy="499.3" r="3.6"/>
<circle cx="177.4" cy="467.6" r="3.6"/>
<circle cx="192.6" cy="506.1" r="3.6"/>
<circle cx="189.6" cy="482.8" r="3.6"/>
<circle cx="190.5" cy="475.9" r="3.6"/>
<circle cx="178.7" cy="483.9" r="3.6"/>
<circle cx="177.1" cy="487.9" r="3.6"/>
<circle cx="185.3" cy="516.6" r="3.6"/>
<circle cx="189.4" cy="482.0" r="3.6"/>
<circle cx="192.3" cy="484.8" r="3.6"/>
<circle cx="174.3" cy="476.8" r="3.6"/>
<circle cx="173.0" cy="500.9" r="3.6"/>
<circle cx="182.5" cy="503.0" r="3.6"/>
<circle cx="181.5" cy="501.2" r="3.6"/>
<circle cx="189.1" cy="488.3" r="3.6"/>
</g>
<path d="M58.3,513.7 L62.0,511.1 L65.6,508.7 L69.3,506.2 L73.0,503.9 L76.7,501.6 L80.3,499.5 L84.0,497.4 L87.7,495.5 L91.3,493.6 L95.0,492.0 L98.7,490.4 L102.4,489.0 L106.0,487.8 L109.7,486.7 L113.4,485.8 L117.0,485.0 L120.7,484.5 L124.4,484.1 L128.1,483.9 L131.7,483.9 L135.4,484.0 L139.1,484.4 L142.8,485.0 L146.4,485.7 L150.1,486.7 L153.8,487.8 L157.4,489.1 L161.1,490.7 L164.8,492.4 L168.5,494.3 L172.1,496.4 L175.8,498.7 L179.5,501.1 L183.1,503.8 L186.8,506.6 L190.5,509.6 L194.2,512.7 L197.8,516.0 L201.5,519.4" fill="none" stroke="#000" stroke-width="1.7"/>
<text class="b" x="68.0" y="383.2" font-size="18.6" text-anchor="middle">c</text>
<g class="ann">
<text class="s" x="161.5" y="390.5" font-size="14" font-style="italic">r</text>
<text class="s" x="165.9" y="382.6" font-size="9" style="stroke:none">2</text>
<text class="s" x="165.7" y="396.2" font-size="9" textLength="9" lengthAdjust="spacingAndGlyphs" style="stroke:none;fill:#444">adj</text>
<text class="s" x="176.5" y="390.7" font-size="14.2" textLength="29.3" lengthAdjust="spacingAndGlyphs">=0.19</text>
<text class="s" x="161.5" y="414.5" font-size="13.2" textLength="31.3" lengthAdjust="spacingAndGlyphs"><tspan font-style="italic">n</tspan>=689</text>
</g>
<rect x="56.0" y="367.0" width="157.2" height="157" fill="none" stroke="#5e5e5e" stroke-width="1.4"/>
<line x1="55.9" y1="367.0" x2="55.9" y2="524.0" stroke="#444" stroke-width="1.5"/>
<g fill="#d0d0d0" stroke="#151515" stroke-width="1.0">
<circle cx="223.5" cy="508.8" r="3.6"/>
<circle cx="223.5" cy="512.3" r="3.6"/>
<circle cx="223.9" cy="515.8" r="3.6"/>
<circle cx="230.5" cy="486.1" r="3.6"/>
<circle cx="230.5" cy="497.4" r="3.6"/>
<circle cx="230.5" cy="501.0" r="3.6"/>
<circle cx="230.5" cy="505.3" r="3.6"/>
<circle cx="230.5" cy="508.8" r="3.6"/>
<circle cx="230.5" cy="512.3" r="3.6"/>
<circle cx="240.2" cy="486.1" r="3.6"/>
<circle cx="240.2" cy="488.5" r="3.6"/>
<circle cx="240.2" cy="490.4" r="3.6"/>
<circle cx="240.2" cy="497.4" r="3.6"/>
<circle cx="240.2" cy="501.0" r="3.6"/>
<circle cx="248.0" cy="510.6" r="3.6"/>
<circle cx="248.0" cy="515.8" r="3.6"/>
<circle cx="253.3" cy="491.3" r="3.6"/>
<circle cx="260.0" cy="474.7" r="3.6"/>
<circle cx="260.0" cy="481.7" r="3.6"/>
<circle cx="260.0" cy="485.2" r="3.6"/>
<circle cx="260.0" cy="488.0" r="3.6"/>
<circle cx="260.0" cy="490.4" r="3.6"/>
<circle cx="263.8" cy="480.8" r="3.6"/>
<circle cx="255.0" cy="499.0" r="3.6"/>
<circle cx="257.0" cy="505.0" r="3.6"/>
<circle cx="257.7" cy="505.3" r="3.6"/>
<circle cx="257.5" cy="510.0" r="3.6"/>
<circle cx="261.2" cy="513.3" r="3.6"/>
<circle cx="265.5" cy="510.0" r="3.6"/>
<circle cx="265.5" cy="517.0" r="3.6"/>
<circle cx="265.5" cy="502.0" r="3.6"/>
<circle cx="267.3" cy="496.6" r="3.6"/>
<circle cx="265.0" cy="489.6" r="3.6"/>
<circle cx="273.4" cy="493.0" r="3.6"/>
<circle cx="273.4" cy="500.0" r="3.6"/>
<circle cx="276.0" cy="499.0" r="3.6"/>
<circle cx="268.5" cy="494.0" r="3.6"/>
<circle cx="285.7" cy="441.4" r="3.6"/>
<circle cx="285.7" cy="460.7" r="3.6"/>
<circle cx="305.9" cy="462.1" r="3.6"/>
<circle cx="276.1" cy="467.7" r="3.6"/>
<circle cx="280.4" cy="470.3" r="3.6"/>
<circle cx="278.7" cy="473.8" r="3.6"/>
<circle cx="284.8" cy="472.9" r="3.6"/>
<circle cx="291.0" cy="470.6" r="3.6"/>
<circle cx="296.2" cy="467.7" r="3.6"/>
<circle cx="276.1" cy="482.6" r="3.6"/>
<circle cx="280.4" cy="485.2" r="3.6"/>
<circle cx="286.6" cy="485.2" r="3.6"/>
<circle cx="295.3" cy="480.8" r="3.6"/>
<circle cx="295.3" cy="485.2" r="3.6"/>
<circle cx="295.3" cy="488.7" r="3.6"/>
<circle cx="290.0" cy="492.2" r="3.6"/>
<circle cx="290.0" cy="499.2" r="3.6"/>
<circle cx="295.3" cy="496.6" r="3.6"/>
<circle cx="300.6" cy="500.1" r="3.6"/>
<circle cx="295.3" cy="503.6" r="3.6"/>
<circle cx="280.4" cy="512.3" r="3.6"/>
<circle cx="285.7" cy="506.2" r="3.6"/>
<circle cx="289.2" cy="512.3" r="3.6"/>
<circle cx="285.3" cy="509.0" r="3.6"/>
<circle cx="300.6" cy="509.7" r="3.6"/>
<circle cx="305.9" cy="508.8" r="3.6"/>
<circle cx="313.7" cy="508.8" r="3.6"/>
<circle cx="312.9" cy="515.8" r="3.6"/>
<circle cx="325.1" cy="511.0" r="3.6"/>
<circle cx="313.7" cy="489.6" r="3.6"/>
<circle cx="313.7" cy="493.1" r="3.6"/>
<circle cx="313.7" cy="495.7" r="3.6"/>
<circle cx="314.6" cy="500.1" r="3.6"/>
<circle cx="317.2" cy="481.7" r="3.6"/>
<circle cx="322.5" cy="481.7" r="3.6"/>
<circle cx="276.0" cy="465.6" r="3.6"/>
<circle cx="271.0" cy="487.0" r="3.6"/>
<circle cx="279.0" cy="495.0" r="3.6"/>
<circle cx="283.0" cy="501.0" r="3.6"/>
<circle cx="258.0" cy="495.0" r="3.6"/>
<circle cx="262.0" cy="499.0" r="3.6"/>
<circle cx="269.0" cy="507.0" r="3.6"/>
</g>
<path d="M214.8,507.1 L333.0,486.4" fill="none" stroke="#000" stroke-width="1.7"/>
<text class="b" x="223.8" y="383.2" font-size="18.6" text-anchor="middle">h</text>
<g class="ann">
<text class="s" x="319.2" y="389.5" font-size="14" font-style="italic">r</text>
<text class="s" x="323.6" y="381.6" font-size="9" style="stroke:none">2</text>
<text class="s" x="323.4" y="395.2" font-size="9" textLength="9" lengthAdjust="spacingAndGlyphs" style="stroke:none;fill:#444">adj</text>
<text class="s" x="334.2" y="389.7" font-size="14.2" textLength="29.3" lengthAdjust="spacingAndGlyphs">=0.14</text>
<text class="s" x="319.2" y="413.5" font-size="13.2" textLength="31.3" lengthAdjust="spacingAndGlyphs"><tspan font-style="italic">n</tspan>=160</text>
</g>
<rect x="213.0" y="367.0" width="157.2" height="157" fill="none" stroke="#5e5e5e" stroke-width="1.4"/>
<g fill="#d0d0d0" stroke="#151515" stroke-width="1.0">
<circle cx="430.1" cy="399.3" r="3.6"/>
<circle cx="430.1" cy="402.4" r="3.6"/>
<circle cx="435.5" cy="405.6" r="3.6"/>
<circle cx="432.8" cy="410.4" r="3.6"/>
<circle cx="429.6" cy="413.3" r="3.6"/>
<circle cx="432.3" cy="420.7" r="3.6"/>
<circle cx="429.6" cy="423.9" r="3.6"/>
<circle cx="439.2" cy="428.2" r="3.6"/>
<circle cx="414.9" cy="431.9" r="3.6"/>
<circle cx="414.9" cy="435.0" r="3.6"/>
<circle cx="414.9" cy="437.1" r="3.6"/>
<circle cx="401.8" cy="445.4" r="3.6"/>
<circle cx="406.3" cy="451.8" r="3.6"/>
<circle cx="429.6" cy="445.4" r="3.6"/>
<circle cx="435.2" cy="440.6" r="3.6"/>
<circle cx="439.2" cy="440.3" r="3.6"/>
<circle cx="418.5" cy="449.4" r="3.6"/>
<circle cx="418.5" cy="453.3" r="3.6"/>
<circle cx="418.5" cy="456.5" r="3.6"/>
<circle cx="424.9" cy="455.7" r="3.6"/>
<circle cx="432.8" cy="453.3" r="3.6"/>
<circle cx="439.2" cy="451.8" r="3.6"/>
<circle cx="444.0" cy="452.5" r="3.6"/>
<circle cx="445.5" cy="459.7" r="3.6"/>
<circle cx="396.2" cy="473.2" r="3.6"/>
<circle cx="401.8" cy="472.4" r="3.6"/>
<circle cx="441.6" cy="513.0" r="3.6"/>
<circle cx="452.6" cy="415.2" r="3.6"/>
<circle cx="452.6" cy="419.9" r="3.6"/>
<circle cx="452.6" cy="439.0" r="3.6"/>
<circle cx="452.6" cy="448.6" r="3.6"/>
<circle cx="454.2" cy="454.9" r="3.6"/>
<circle cx="453.4" cy="459.7" r="3.6"/>
<circle cx="453.4" cy="464.5" r="3.6"/>
<circle cx="478.8" cy="458.1" r="3.6"/>
<circle cx="473.2" cy="463.7" r="3.6"/>
<circle cx="478.8" cy="472.4" r="3.6"/>
<circle cx="492.3" cy="465.3" r="3.6"/>
<circle cx="497.1" cy="466.9" r="3.6"/>
<circle cx="402.0" cy="490.1" r="3.6"/>
<circle cx="399.5" cy="488.4" r="3.6"/>
<circle cx="399.3" cy="498.5" r="3.6"/>
<circle cx="402.1" cy="495.3" r="3.6"/>
<circle cx="409.8" cy="497.8" r="3.6"/>
<circle cx="408.8" cy="475.9" r="3.6"/>
<circle cx="410.2" cy="475.9" r="3.6"/>
<circle cx="401.1" cy="481.0" r="3.6"/>
<circle cx="402.7" cy="486.0" r="3.6"/>
<circle cx="405.7" cy="485.4" r="3.6"/>
<circle cx="397.8" cy="474.2" r="3.6"/>
<circle cx="402.7" cy="487.8" r="3.6"/>
<circle cx="401.5" cy="474.7" r="3.6"/>
<circle cx="405.9" cy="496.3" r="3.6"/>
<circle cx="405.4" cy="481.7" r="3.6"/>
<circle cx="401.8" cy="487.1" r="3.6"/>
<circle cx="398.4" cy="489.9" r="3.6"/>
<circle cx="398.1" cy="475.9" r="3.6"/>
<circle cx="399.2" cy="486.1" r="3.6"/>
<circle cx="397.6" cy="479.5" r="3.6"/>
<circle cx="402.9" cy="494.9" r="3.6"/>
<circle cx="408.4" cy="471.3" r="3.6"/>
<circle cx="405.3" cy="502.8" r="3.6"/>
<circle cx="406.9" cy="486.9" r="3.6"/>
<circle cx="403.3" cy="491.6" r="3.6"/>
<circle cx="399.3" cy="483.6" r="3.6"/>
<circle cx="408.4" cy="487.8" r="3.6"/>
<circle cx="399.5" cy="496.9" r="3.6"/>
<circle cx="401.8" cy="499.5" r="3.6"/>
<circle cx="405.0" cy="496.3" r="3.6"/>
<circle cx="412.4" cy="498.8" r="3.6"/>
<circle cx="413.7" cy="505.5" r="3.6"/>
<circle cx="413.4" cy="500.3" r="3.6"/>
<circle cx="417.4" cy="490.8" r="3.6"/>
<circle cx="411.9" cy="503.4" r="3.6"/>
<circle cx="412.8" cy="479.9" r="3.6"/>
<circle cx="415.2" cy="483.9" r="3.6"/>
<circle cx="413.2" cy="485.0" r="3.6"/>
<circle cx="427.7" cy="510.2" r="3.6"/>
<circle cx="422.5" cy="457.3" r="3.6"/>
<circle cx="423.7" cy="494.7" r="3.6"/>
<circle cx="418.7" cy="488.5" r="3.6"/>
<circle cx="424.4" cy="486.7" r="3.6"/>
<circle cx="429.9" cy="498.0" r="3.6"/>
<circle cx="420.9" cy="487.0" r="3.6"/>
<circle cx="429.4" cy="476.2" r="3.6"/>
<circle cx="429.3" cy="510.9" r="3.6"/>
<circle cx="429.4" cy="490.2" r="3.6"/>
<circle cx="431.2" cy="490.2" r="3.6"/>
<circle cx="430.3" cy="491.1" r="3.6"/>
<circle cx="426.8" cy="512.6" r="3.6"/>
<circle cx="420.4" cy="501.4" r="3.6"/>
<circle cx="426.2" cy="507.4" r="3.6"/>
<circle cx="427.4" cy="472.4" r="3.6"/>
<circle cx="429.1" cy="510.7" r="3.6"/>
<circle cx="420.1" cy="462.8" r="3.6"/>
<circle cx="431.1" cy="480.6" r="3.6"/>
<circle cx="423.0" cy="511.7" r="3.6"/>
<circle cx="419.5" cy="494.5" r="3.6"/>
<circle cx="429.3" cy="493.0" r="3.6"/>
<circle cx="427.8" cy="457.2" r="3.6"/>
<circle cx="423.7" cy="498.5" r="3.6"/>
<circle cx="420.4" cy="498.8" r="3.6"/>
<circle cx="418.9" cy="496.6" r="3.6"/>
<circle cx="430.4" cy="457.3" r="3.6"/>
<circle cx="419.7" cy="482.8" r="3.6"/>
<circle cx="424.4" cy="508.6" r="3.6"/>
<circle cx="430.7" cy="476.8" r="3.6"/>
<circle cx="429.6" cy="490.7" r="3.6"/>
<circle cx="431.1" cy="505.4" r="3.6"/>
<circle cx="427.0" cy="491.7" r="3.6"/>
<circle cx="430.9" cy="489.0" r="3.6"/>
<circle cx="418.8" cy="511.9" r="3.6"/>
<circle cx="429.8" cy="475.5" r="3.6"/>
<circle cx="424.2" cy="510.5" r="3.6"/>
<circle cx="422.7" cy="503.5" r="3.6"/>
<circle cx="424.2" cy="500.3" r="3.6"/>
<circle cx="420.8" cy="490.8" r="3.6"/>
<circle cx="423.0" cy="485.9" r="3.6"/>
<circle cx="423.3" cy="476.2" r="3.6"/>
<circle cx="427.4" cy="459.0" r="3.6"/>
<circle cx="426.5" cy="478.5" r="3.6"/>
<circle cx="427.1" cy="466.3" r="3.6"/>
<circle cx="439.2" cy="456.5" r="3.6"/>
<circle cx="439.3" cy="461.9" r="3.6"/>
<circle cx="446.1" cy="467.2" r="3.6"/>
<circle cx="436.3" cy="469.0" r="3.6"/>
<circle cx="446.3" cy="475.2" r="3.6"/>
<circle cx="438.9" cy="507.1" r="3.6"/>
<circle cx="443.5" cy="477.1" r="3.6"/>
<circle cx="439.2" cy="456.7" r="3.6"/>
<circle cx="448.3" cy="480.9" r="3.6"/>
<circle cx="439.3" cy="508.6" r="3.6"/>
<circle cx="448.9" cy="496.3" r="3.6"/>
<circle cx="444.9" cy="496.9" r="3.6"/>
<circle cx="432.5" cy="482.6" r="3.6"/>
<circle cx="438.7" cy="481.7" r="3.6"/>
<circle cx="436.8" cy="499.7" r="3.6"/>
<circle cx="437.0" cy="465.6" r="3.6"/>
<circle cx="432.8" cy="484.3" r="3.6"/>
<circle cx="436.0" cy="477.6" r="3.6"/>
<circle cx="434.2" cy="502.2" r="3.6"/>
<circle cx="437.1" cy="459.6" r="3.6"/>
<circle cx="438.6" cy="506.4" r="3.6"/>
<circle cx="444.9" cy="505.1" r="3.6"/>
<circle cx="443.3" cy="487.9" r="3.6"/>
<circle cx="447.9" cy="490.4" r="3.6"/>
<circle cx="441.5" cy="510.3" r="3.6"/>
<circle cx="446.3" cy="499.8" r="3.6"/>
<circle cx="449.7" cy="471.2" r="3.6"/>
<circle cx="443.4" cy="464.3" r="3.6"/>
<circle cx="447.4" cy="480.9" r="3.6"/>
<circle cx="443.3" cy="483.3" r="3.6"/>
<circle cx="439.9" cy="491.5" r="3.6"/>
<circle cx="449.0" cy="507.7" r="3.6"/>
<circle cx="444.7" cy="484.3" r="3.6"/>
<circle cx="449.5" cy="472.8" r="3.6"/>
<circle cx="439.1" cy="493.0" r="3.6"/>
<circle cx="439.1" cy="455.6" r="3.6"/>
<circle cx="433.8" cy="482.7" r="3.6"/>
<circle cx="435.7" cy="476.4" r="3.6"/>
<circle cx="444.7" cy="482.9" r="3.6"/>
<circle cx="445.9" cy="498.5" r="3.6"/>
<circle cx="448.3" cy="498.9" r="3.6"/>
<circle cx="438.9" cy="485.0" r="3.6"/>
<circle cx="444.5" cy="475.3" r="3.6"/>
<circle cx="440.3" cy="477.9" r="3.6"/>
<circle cx="439.6" cy="493.0" r="3.6"/>
<circle cx="455.0" cy="477.5" r="3.6"/>
<circle cx="456.9" cy="492.5" r="3.6"/>
<circle cx="456.7" cy="503.0" r="3.6"/>
<circle cx="451.7" cy="482.4" r="3.6"/>
<circle cx="456.3" cy="508.5" r="3.6"/>
<circle cx="455.0" cy="513.4" r="3.6"/>
<circle cx="461.6" cy="475.5" r="3.6"/>
<circle cx="457.8" cy="505.3" r="3.6"/>
<circle cx="451.9" cy="496.0" r="3.6"/>
<circle cx="460.0" cy="495.6" r="3.6"/>
<circle cx="459.5" cy="504.7" r="3.6"/>
<circle cx="453.5" cy="477.4" r="3.6"/>
<circle cx="457.0" cy="501.6" r="3.6"/>
<circle cx="451.8" cy="505.9" r="3.6"/>
<circle cx="451.5" cy="513.9" r="3.6"/>
<circle cx="452.1" cy="488.0" r="3.6"/>
<circle cx="458.7" cy="512.2" r="3.6"/>
<circle cx="451.2" cy="490.7" r="3.6"/>
<circle cx="461.4" cy="501.9" r="3.6"/>
<circle cx="458.1" cy="492.2" r="3.6"/>
<circle cx="450.8" cy="470.5" r="3.6"/>
<circle cx="461.7" cy="495.4" r="3.6"/>
<circle cx="460.6" cy="474.5" r="3.6"/>
<circle cx="457.3" cy="499.8" r="3.6"/>
<circle cx="451.0" cy="488.7" r="3.6"/>
<circle cx="450.5" cy="467.5" r="3.6"/>
<circle cx="456.4" cy="475.0" r="3.6"/>
<circle cx="459.5" cy="474.7" r="3.6"/>
<circle cx="455.7" cy="509.6" r="3.6"/>
<circle cx="456.7" cy="513.0" r="3.6"/>
<circle cx="454.3" cy="484.6" r="3.6"/>
<circle cx="455.7" cy="493.6" r="3.6"/>
<circle cx="460.6" cy="507.4" r="3.6"/>
<circle cx="451.5" cy="493.9" r="3.6"/>
<circle cx="460.8" cy="513.4" r="3.6"/>
<circle cx="463.0" cy="482.1" r="3.6"/>
<circle cx="463.3" cy="498.1" r="3.6"/>
<circle cx="463.8" cy="482.1" r="3.6"/>
<circle cx="464.9" cy="487.7" r="3.6"/>
<circle cx="463.8" cy="490.7" r="3.6"/>
<circle cx="463.5" cy="492.2" r="3.6"/>
<circle cx="467.4" cy="482.2" r="3.6"/>
<circle cx="463.8" cy="488.1" r="3.6"/>
<circle cx="467.9" cy="475.3" r="3.6"/>
<circle cx="469.0" cy="514.7" r="3.6"/>
<circle cx="464.7" cy="508.2" r="3.6"/>
<circle cx="468.4" cy="487.7" r="3.6"/>
<circle cx="464.0" cy="502.6" r="3.6"/>
<circle cx="467.6" cy="507.2" r="3.6"/>
<circle cx="467.2" cy="498.8" r="3.6"/>
<circle cx="481.4" cy="497.3" r="3.6"/>
<circle cx="482.4" cy="471.5" r="3.6"/>
<circle cx="480.6" cy="474.0" r="3.6"/>
<circle cx="472.4" cy="488.8" r="3.6"/>
<circle cx="474.4" cy="484.8" r="3.6"/>
<circle cx="478.5" cy="497.4" r="3.6"/>
<circle cx="482.3" cy="470.2" r="3.6"/>
<circle cx="475.0" cy="491.0" r="3.6"/>
<circle cx="472.8" cy="516.6" r="3.6"/>
<circle cx="478.0" cy="476.3" r="3.6"/>
<circle cx="470.5" cy="504.9" r="3.6"/>
<circle cx="480.2" cy="494.8" r="3.6"/>
<circle cx="484.5" cy="491.3" r="3.6"/>
<circle cx="482.0" cy="491.0" r="3.6"/>
<circle cx="479.1" cy="490.8" r="3.6"/>
<circle cx="480.3" cy="475.9" r="3.6"/>
<circle cx="477.1" cy="466.5" r="3.6"/>
<circle cx="475.9" cy="491.7" r="3.6"/>
<circle cx="471.8" cy="496.8" r="3.6"/>
<circle cx="475.9" cy="507.7" r="3.6"/>
<circle cx="484.5" cy="489.6" r="3.6"/>
<circle cx="481.3" cy="475.2" r="3.6"/>
<circle cx="480.9" cy="465.7" r="3.6"/>
<circle cx="485.1" cy="473.4" r="3.6"/>
<circle cx="482.2" cy="515.4" r="3.6"/>
<circle cx="480.3" cy="480.1" r="3.6"/>
<circle cx="481.1" cy="499.7" r="3.6"/>
<circle cx="483.7" cy="475.6" r="3.6"/>
<circle cx="475.3" cy="509.4" r="3.6"/>
<circle cx="480.8" cy="472.6" r="3.6"/>
<circle cx="482.4" cy="478.6" r="3.6"/>
<circle cx="484.3" cy="494.7" r="3.6"/>
<circle cx="481.8" cy="497.7" r="3.6"/>
<circle cx="477.4" cy="467.3" r="3.6"/>
<circle cx="477.5" cy="487.9" r="3.6"/>
<circle cx="480.6" cy="479.4" r="3.6"/>
<circle cx="475.1" cy="493.3" r="3.6"/>
<circle cx="481.0" cy="515.0" r="3.6"/>
<circle cx="474.5" cy="502.1" r="3.6"/>
<circle cx="484.5" cy="493.6" r="3.6"/>
<circle cx="480.9" cy="482.6" r="3.6"/>
<circle cx="470.6" cy="482.1" r="3.6"/>
<circle cx="506.7" cy="471.9" r="3.6"/>
<circle cx="490.4" cy="466.6" r="3.6"/>
<circle cx="492.6" cy="470.2" r="3.6"/>
<circle cx="493.3" cy="466.1" r="3.6"/>
<circle cx="504.9" cy="510.4" r="3.6"/>
<circle cx="491.2" cy="512.2" r="3.6"/>
<circle cx="504.6" cy="470.4" r="3.6"/>
<circle cx="488.3" cy="514.8" r="3.6"/>
<circle cx="498.9" cy="503.1" r="3.6"/>
<circle cx="506.0" cy="504.2" r="3.6"/>
<circle cx="506.1" cy="489.7" r="3.6"/>
<circle cx="503.3" cy="475.9" r="3.6"/>
<circle cx="501.8" cy="481.5" r="3.6"/>
<circle cx="503.0" cy="490.0" r="3.6"/>
<circle cx="502.3" cy="510.0" r="3.6"/>
<circle cx="488.3" cy="474.1" r="3.6"/>
<circle cx="506.4" cy="490.2" r="3.6"/>
<circle cx="491.4" cy="478.8" r="3.6"/>
<circle cx="489.7" cy="471.9" r="3.6"/>
<circle cx="492.5" cy="465.5" r="3.6"/>
<circle cx="488.0" cy="486.5" r="3.6"/>
<circle cx="499.8" cy="490.6" r="3.6"/>
<circle cx="493.5" cy="514.7" r="3.6"/>
<circle cx="487.8" cy="495.5" r="3.6"/>
<circle cx="503.1" cy="469.2" r="3.6"/>
<circle cx="490.8" cy="469.2" r="3.6"/>
<circle cx="487.0" cy="466.1" r="3.6"/>
<circle cx="496.5" cy="499.3" r="3.6"/>
<circle cx="491.4" cy="467.6" r="3.6"/>
<circle cx="506.6" cy="506.1" r="3.6"/>
<circle cx="503.6" cy="482.8" r="3.6"/>
<circle cx="504.5" cy="475.9" r="3.6"/>
<circle cx="492.7" cy="483.9" r="3.6"/>
<circle cx="491.1" cy="487.9" r="3.6"/>
<circle cx="499.3" cy="516.6" r="3.6"/>
<circle cx="503.4" cy="482.0" r="3.6"/>
<circle cx="506.3" cy="484.8" r="3.6"/>
<circle cx="488.3" cy="476.8" r="3.6"/>
<circle cx="487.0" cy="500.9" r="3.6"/>
<circle cx="496.5" cy="503.0" r="3.6"/>
<circle cx="495.5" cy="501.2" r="3.6"/>
<circle cx="503.1" cy="488.3" r="3.6"/>
</g>
<path d="M384.9,461.0 L388.2,462.5 L391.6,464.0 L394.9,465.4 L398.3,466.9 L401.6,468.3 L405.0,469.7 L408.3,471.1 L411.7,472.5 L415.0,473.9 L418.4,475.2 L421.7,476.6 L425.1,477.9 L428.4,479.2 L431.8,480.5 L435.1,481.7 L438.5,483.0 L441.8,484.2 L445.2,485.4 L448.5,486.6 L451.9,487.8 L455.2,489.0 L458.6,490.2 L461.9,491.3 L465.3,492.4 L468.6,493.5 L472.0,494.6 L475.3,495.7 L478.7,496.7 L482.0,497.8 L485.4,498.8 L488.7,499.8 L492.1,500.8 L495.4,501.8 L498.8,502.7 L502.1,503.7 L505.5,504.6 L508.8,505.5 L512.2,506.4 L515.5,507.3" fill="none" stroke="#000" stroke-width="1.7"/>
<text class="b" x="380.8" y="383.2" font-size="18.6" text-anchor="middle">m</text>
<g class="ann">
<text class="s" x="473.8" y="389.5" font-size="14" font-style="italic">r</text>
<text class="s" x="478.2" y="381.6" font-size="9" style="stroke:none">2</text>
<text class="s" x="478.0" y="395.2" font-size="9" textLength="9" lengthAdjust="spacingAndGlyphs" style="stroke:none;fill:#444">adj</text>
<text class="s" x="488.8" y="389.7" font-size="14.2" textLength="29.3" lengthAdjust="spacingAndGlyphs">=0.27</text>
<text class="s" x="473.8" y="413.5" font-size="13.2" textLength="31.3" lengthAdjust="spacingAndGlyphs"><tspan font-style="italic">n</tspan>=510</text>
</g>
<rect x="370.0" y="367.0" width="157.2" height="157" fill="none" stroke="#5e5e5e" stroke-width="1.4"/>
<g fill="#d0d0d0" stroke="#151515" stroke-width="1.0">
<circle cx="586.8" cy="399.3" r="3.6"/>
<circle cx="586.8" cy="402.4" r="3.6"/>
<circle cx="592.3" cy="405.6" r="3.6"/>
<circle cx="589.1" cy="410.4" r="3.6"/>
<circle cx="586.8" cy="413.3" r="3.6"/>
<circle cx="589.1" cy="420.7" r="3.6"/>
<circle cx="586.8" cy="423.9" r="3.6"/>
<circle cx="596.0" cy="428.2" r="3.6"/>
<circle cx="609.8" cy="420.3" r="3.6"/>
<circle cx="572.1" cy="431.9" r="3.6"/>
<circle cx="572.1" cy="435.0" r="3.6"/>
<circle cx="572.1" cy="437.1" r="3.6"/>
<circle cx="576.4" cy="449.4" r="3.6"/>
<circle cx="576.4" cy="453.3" r="3.6"/>
<circle cx="576.4" cy="456.5" r="3.6"/>
<circle cx="586.8" cy="445.4" r="3.6"/>
<circle cx="592.3" cy="440.6" r="3.6"/>
<circle cx="596.3" cy="440.3" r="3.6"/>
<circle cx="609.8" cy="439.0" r="3.6"/>
<circle cx="609.8" cy="448.6" r="3.6"/>
<circle cx="611.4" cy="454.9" r="3.6"/>
<circle cx="609.8" cy="459.7" r="3.6"/>
<circle cx="609.8" cy="465.3" r="3.6"/>
<circle cx="613.8" cy="465.3" r="3.6"/>
<circle cx="589.1" cy="453.3" r="3.6"/>
<circle cx="596.3" cy="451.8" r="3.6"/>
<circle cx="602.7" cy="459.7" r="3.6"/>
<circle cx="593.1" cy="465.3" r="3.6"/>
<circle cx="567.7" cy="478.8" r="3.6"/>
<circle cx="567.7" cy="482.0" r="3.6"/>
<circle cx="572.4" cy="486.7" r="3.6"/>
<circle cx="571.7" cy="502.6" r="3.6"/>
<circle cx="613.8" cy="508.2" r="3.6"/>
<circle cx="621.8" cy="482.8" r="3.6"/>
<circle cx="621.8" cy="487.5" r="3.6"/>
<circle cx="640.9" cy="474.0" r="3.6"/>
<circle cx="640.6" cy="486.0" r="3.6"/>
<circle cx="645.4" cy="486.0" r="3.6"/>
<circle cx="613.5" cy="508.2" r="3.6"/>
<circle cx="654.9" cy="493.1" r="3.6"/>
<circle cx="657.3" cy="503.4" r="3.6"/>
<circle cx="600.3" cy="485.6" r="3.6"/>
<circle cx="583.7" cy="466.1" r="3.6"/>
<circle cx="596.2" cy="480.8" r="3.6"/>
<circle cx="596.4" cy="468.7" r="3.6"/>
<circle cx="602.4" cy="505.1" r="3.6"/>
<circle cx="609.3" cy="472.9" r="3.6"/>
<circle cx="603.4" cy="470.2" r="3.6"/>
<circle cx="589.8" cy="485.0" r="3.6"/>
<circle cx="597.2" cy="485.3" r="3.6"/>
<circle cx="602.2" cy="506.5" r="3.6"/>
<circle cx="600.6" cy="504.8" r="3.6"/>
<circle cx="606.2" cy="500.9" r="3.6"/>
<circle cx="599.9" cy="482.9" r="3.6"/>
<circle cx="593.7" cy="499.1" r="3.6"/>
<circle cx="588.0" cy="506.9" r="3.6"/>
<circle cx="613.3" cy="481.5" r="3.6"/>
<circle cx="606.2" cy="475.1" r="3.6"/>
<circle cx="595.7" cy="483.3" r="3.6"/>
<circle cx="594.1" cy="477.0" r="3.6"/>
<circle cx="600.4" cy="505.8" r="3.6"/>
<circle cx="583.0" cy="479.6" r="3.6"/>
<circle cx="593.1" cy="494.1" r="3.6"/>
<circle cx="578.2" cy="478.7" r="3.6"/>
<circle cx="602.8" cy="478.1" r="3.6"/>
<circle cx="593.1" cy="483.4" r="3.6"/>
<circle cx="605.9" cy="467.9" r="3.6"/>
<circle cx="581.3" cy="502.8" r="3.6"/>
<circle cx="603.2" cy="469.4" r="3.6"/>
<circle cx="608.1" cy="489.0" r="3.6"/>
<circle cx="609.0" cy="492.5" r="3.6"/>
<circle cx="602.3" cy="488.7" r="3.6"/>
<circle cx="597.2" cy="471.4" r="3.6"/>
<circle cx="592.2" cy="505.4" r="3.6"/>
<circle cx="576.8" cy="496.1" r="3.6"/>
<circle cx="598.6" cy="470.9" r="3.6"/>
<circle cx="608.7" cy="468.0" r="3.6"/>
<circle cx="590.3" cy="489.4" r="3.6"/>
<circle cx="604.9" cy="487.1" r="3.6"/>
<circle cx="598.8" cy="484.0" r="3.6"/>
<circle cx="600.5" cy="506.4" r="3.6"/>
<circle cx="593.3" cy="504.0" r="3.6"/>
<circle cx="583.8" cy="484.6" r="3.6"/>
<circle cx="593.4" cy="477.1" r="3.6"/>
<circle cx="583.8" cy="486.2" r="3.6"/>
<circle cx="593.0" cy="488.4" r="3.6"/>
<circle cx="581.1" cy="484.6" r="3.6"/>
<circle cx="586.9" cy="506.6" r="3.6"/>
<circle cx="596.4" cy="484.3" r="3.6"/>
<circle cx="590.6" cy="501.6" r="3.6"/>
<circle cx="605.7" cy="472.3" r="3.6"/>
<circle cx="583.4" cy="488.1" r="3.6"/>
<circle cx="606.9" cy="488.6" r="3.6"/>
<circle cx="612.4" cy="496.1" r="3.6"/>
<circle cx="584.5" cy="505.5" r="3.6"/>
<circle cx="608.7" cy="471.0" r="3.6"/>
<circle cx="586.4" cy="478.9" r="3.6"/>
<circle cx="592.6" cy="491.1" r="3.6"/>
<circle cx="580.7" cy="504.8" r="3.6"/>
<circle cx="583.8" cy="474.5" r="3.6"/>
<circle cx="613.0" cy="506.8" r="3.6"/>
<circle cx="612.4" cy="496.9" r="3.6"/>
<circle cx="580.4" cy="498.3" r="3.6"/>
<circle cx="589.8" cy="502.0" r="3.6"/>
<circle cx="586.9" cy="467.9" r="3.6"/>
<circle cx="599.6" cy="482.4" r="3.6"/>
<circle cx="580.8" cy="477.2" r="3.6"/>
<circle cx="582.4" cy="477.1" r="3.6"/>
<circle cx="592.8" cy="471.6" r="3.6"/>
<circle cx="580.4" cy="494.6" r="3.6"/>
<circle cx="576.8" cy="502.8" r="3.6"/>
<circle cx="580.7" cy="485.1" r="3.6"/>
<circle cx="592.4" cy="495.6" r="3.6"/>
<circle cx="576.3" cy="472.3" r="3.6"/>
<circle cx="586.9" cy="500.9" r="3.6"/>
<circle cx="576.9" cy="478.1" r="3.6"/>
<circle cx="579.0" cy="503.8" r="3.6"/>
<circle cx="577.4" cy="499.6" r="3.6"/>
<circle cx="578.9" cy="477.2" r="3.6"/>
<circle cx="586.4" cy="510.0" r="3.6"/>
<circle cx="594.3" cy="488.5" r="3.6"/>
<circle cx="576.4" cy="497.7" r="3.6"/>
<circle cx="577.2" cy="475.1" r="3.6"/>
<circle cx="584.5" cy="480.3" r="3.6"/>
<circle cx="576.4" cy="490.2" r="3.6"/>
<circle cx="594.4" cy="476.2" r="3.6"/>
<circle cx="590.4" cy="500.5" r="3.6"/>
<circle cx="594.4" cy="490.8" r="3.6"/>
<circle cx="588.8" cy="488.5" r="3.6"/>
<circle cx="591.1" cy="469.6" r="3.6"/>
<circle cx="591.2" cy="508.5" r="3.6"/>
<circle cx="641.7" cy="500.2" r="3.6"/>
<circle cx="658.9" cy="511.1" r="3.6"/>
<circle cx="627.8" cy="496.6" r="3.6"/>
<circle cx="623.1" cy="517.1" r="3.6"/>
<circle cx="636.7" cy="495.1" r="3.6"/>
<circle cx="644.9" cy="506.3" r="3.6"/>
<circle cx="645.2" cy="501.3" r="3.6"/>
<circle cx="626.7" cy="513.7" r="3.6"/>
<circle cx="633.6" cy="499.9" r="3.6"/>
<circle cx="637.0" cy="511.7" r="3.6"/>
<circle cx="623.1" cy="498.4" r="3.6"/>
<circle cx="634.0" cy="505.9" r="3.6"/>
<circle cx="638.6" cy="514.1" r="3.6"/>
<circle cx="649.4" cy="515.2" r="3.6"/>
<circle cx="659.5" cy="505.9" r="3.6"/>
<circle cx="633.7" cy="504.9" r="3.6"/>
<circle cx="634.1" cy="507.7" r="3.6"/>
<circle cx="622.6" cy="515.4" r="3.6"/>
<circle cx="649.1" cy="510.6" r="3.6"/>
<circle cx="646.6" cy="509.3" r="3.6"/>
<circle cx="625.8" cy="505.4" r="3.6"/>
<circle cx="650.9" cy="495.6" r="3.6"/>
<circle cx="657.4" cy="511.1" r="3.6"/>
<circle cx="655.7" cy="506.3" r="3.6"/>
<circle cx="632.8" cy="497.9" r="3.6"/>
<circle cx="640.5" cy="507.9" r="3.6"/>
<circle cx="649.9" cy="508.6" r="3.6"/>
<circle cx="642.4" cy="497.4" r="3.6"/>
<circle cx="627.3" cy="506.9" r="3.6"/>
<circle cx="647.9" cy="492.2" r="3.6"/>
<circle cx="654.7" cy="507.9" r="3.6"/>
<circle cx="633.2" cy="510.0" r="3.6"/>
<circle cx="638.5" cy="494.6" r="3.6"/>
<circle cx="632.6" cy="504.1" r="3.6"/>
<circle cx="635.1" cy="503.3" r="3.6"/>
<circle cx="623.5" cy="506.2" r="3.6"/>
<circle cx="657.9" cy="509.6" r="3.6"/>
<circle cx="632.3" cy="505.5" r="3.6"/>
<circle cx="646.8" cy="502.1" r="3.6"/>
<circle cx="657.4" cy="507.6" r="3.6"/>
<circle cx="622.9" cy="504.4" r="3.6"/>
<circle cx="648.3" cy="506.0" r="3.6"/>
<circle cx="641.8" cy="494.3" r="3.6"/>
<circle cx="636.9" cy="492.7" r="3.6"/>
<circle cx="645.6" cy="508.9" r="3.6"/>
<circle cx="629.5" cy="499.2" r="3.6"/>
<circle cx="630.3" cy="513.3" r="3.6"/>
<circle cx="636.6" cy="512.8" r="3.6"/>
<circle cx="654.6" cy="511.9" r="3.6"/>
<circle cx="630.4" cy="493.7" r="3.6"/>
</g>
<path d="M560.2,459.4 L563.0,461.0 L565.8,462.6 L568.6,464.2 L571.4,465.7 L574.2,467.3 L577.0,468.8 L579.7,470.4 L582.5,471.9 L585.3,473.4 L588.1,474.9 L590.9,476.4 L593.7,477.9 L596.5,479.4 L599.3,480.8 L602.1,482.3 L604.9,483.7 L607.7,485.1 L610.5,486.5 L613.3,488.0 L616.0,489.3 L618.8,490.7 L621.6,492.1 L624.4,493.5 L627.2,494.8 L630.0,496.1 L632.8,497.5 L635.6,498.8 L638.4,500.1 L641.2,501.4 L644.0,502.7 L646.8,503.9 L649.6,505.2 L652.3,506.4 L655.1,507.7 L657.9,508.9 L660.7,510.1 L663.5,511.3 L666.3,512.5 L669.1,513.7" fill="none" stroke="#000" stroke-width="1.7"/>
<text class="b" x="537.8" y="383.2" font-size="18.6" text-anchor="middle">r</text>
<g class="ann">
<text class="s" x="631.0" y="391.3" font-size="14" font-style="italic">r</text>
<text class="s" x="635.4" y="383.4" font-size="9" style="stroke:none">2</text>
<text class="s" x="635.2" y="397.0" font-size="9" textLength="9" lengthAdjust="spacingAndGlyphs" style="stroke:none;fill:#444">adj</text>
<text class="s" x="646.0" y="391.5" font-size="14.2" textLength="29.3" lengthAdjust="spacingAndGlyphs">=0.30</text>
<text class="s" x="631.0" y="415.0" font-size="13.2" textLength="31.3" lengthAdjust="spacingAndGlyphs"><tspan font-style="italic">n</tspan>=229</text>
</g>
<rect x="527.0" y="367.0" width="157.2" height="157" fill="none" stroke="#5e5e5e" stroke-width="1.4"/>
<g fill="#d0d0d0" stroke="#151515" stroke-width="1.0">
<circle cx="66.9" cy="636.2" r="3.6"/>
<circle cx="66.9" cy="638.8" r="3.6"/>
<circle cx="66.9" cy="652.9" r="3.6"/>
<circle cx="66.9" cy="662.0" r="3.6"/>
<circle cx="119.1" cy="567.9" r="3.6"/>
<circle cx="119.1" cy="586.6" r="3.6"/>
<circle cx="110.0" cy="592.9" r="3.6"/>
<circle cx="119.1" cy="608.7" r="3.6"/>
<circle cx="133.1" cy="616.1" r="3.6"/>
<circle cx="101.2" cy="612.6" r="3.6"/>
<circle cx="101.2" cy="615.7" r="3.6"/>
<circle cx="138.3" cy="625.2" r="3.6"/>
<circle cx="138.3" cy="629.7" r="3.6"/>
<circle cx="129.6" cy="630.1" r="3.6"/>
<circle cx="99.8" cy="627.4" r="3.6"/>
<circle cx="103.3" cy="631.0" r="3.6"/>
<circle cx="119.1" cy="629.2" r="3.6"/>
<circle cx="119.1" cy="636.2" r="3.6"/>
<circle cx="119.1" cy="641.5" r="3.6"/>
<circle cx="123.4" cy="638.8" r="3.6"/>
<circle cx="100.7" cy="637.1" r="3.6"/>
<circle cx="102.4" cy="639.7" r="3.6"/>
<circle cx="108.6" cy="645.8" r="3.6"/>
<circle cx="156.7" cy="645.0" r="3.6"/>
<circle cx="133.1" cy="646.7" r="3.6"/>
<circle cx="139.2" cy="643.7" r="3.6"/>
<circle cx="143.6" cy="647.6" r="3.6"/>
<circle cx="128.7" cy="654.6" r="3.6"/>
<circle cx="134.0" cy="655.5" r="3.6"/>
<circle cx="139.2" cy="652.9" r="3.6"/>
<circle cx="143.6" cy="659.0" r="3.6"/>
<circle cx="143.6" cy="660.7" r="3.6"/>
<circle cx="100.7" cy="655.5" r="3.6"/>
<circle cx="103.3" cy="659.0" r="3.6"/>
<circle cx="108.6" cy="658.1" r="3.6"/>
<circle cx="111.2" cy="655.5" r="3.6"/>
<circle cx="96.3" cy="661.3" r="3.6"/>
<circle cx="100.7" cy="666.0" r="3.6"/>
<circle cx="108.6" cy="665.1" r="3.6"/>
<circle cx="113.8" cy="666.5" r="3.6"/>
<circle cx="119.1" cy="664.2" r="3.6"/>
<circle cx="128.7" cy="661.6" r="3.6"/>
<circle cx="128.7" cy="665.1" r="3.6"/>
<circle cx="134.0" cy="665.1" r="3.6"/>
<circle cx="138.3" cy="664.2" r="3.6"/>
<circle cx="138.3" cy="670.4" r="3.6"/>
<circle cx="105.1" cy="673.0" r="3.6"/>
<circle cx="108.6" cy="671.2" r="3.6"/>
<circle cx="105.1" cy="676.5" r="3.6"/>
<circle cx="108.6" cy="680.5" r="3.6"/>
<circle cx="123.4" cy="675.3" r="3.6"/>
<circle cx="131.3" cy="673.9" r="3.6"/>
<circle cx="156.7" cy="659.0" r="3.6"/>
<circle cx="156.7" cy="666.0" r="3.6"/>
<circle cx="155.9" cy="673.0" r="3.6"/>
<circle cx="164.6" cy="668.6" r="3.6"/>
<circle cx="168.1" cy="665.1" r="3.6"/>
<circle cx="131.0" cy="649.5" r="3.6"/>
<circle cx="136.0" cy="658.5" r="3.6"/>
<circle cx="141.0" cy="665.5" r="3.6"/>
<circle cx="133.0" cy="668.5" r="3.6"/>
<circle cx="82.2" cy="613.2" r="3.6"/>
<circle cx="91.7" cy="605.5" r="3.6"/>
<circle cx="91.7" cy="609.6" r="3.6"/>
<circle cx="91.7" cy="631.0" r="3.6"/>
<circle cx="91.7" cy="634.0" r="3.6"/>
<circle cx="100.6" cy="631.0" r="3.6"/>
<circle cx="100.6" cy="634.6" r="3.6"/>
<circle cx="104.7" cy="626.9" r="3.6"/>
<circle cx="104.7" cy="629.2" r="3.6"/>
<circle cx="105.3" cy="631.6" r="3.6"/>
<circle cx="88.1" cy="645.9" r="3.6"/>
<circle cx="88.1" cy="648.2" r="3.6"/>
<circle cx="92.3" cy="644.7" r="3.6"/>
<circle cx="87.5" cy="657.2" r="3.6"/>
<circle cx="87.5" cy="663.7" r="3.6"/>
<circle cx="87.5" cy="666.1" r="3.6"/>
<circle cx="85.7" cy="672.0" r="3.6"/>
<circle cx="92.3" cy="671.4" r="3.6"/>
<circle cx="100.6" cy="662.5" r="3.6"/>
<circle cx="121.4" cy="622.1" r="3.6"/>
<circle cx="121.4" cy="626.9" r="3.6"/>
<circle cx="121.4" cy="632.8" r="3.6"/>
<circle cx="121.4" cy="639.3" r="3.6"/>
<circle cx="121.4" cy="649.4" r="3.6"/>
<circle cx="121.4" cy="657.8" r="3.6"/>
<circle cx="123.8" cy="675.6" r="3.6"/>
<circle cx="132.7" cy="676.2" r="3.6"/>
<circle cx="127.3" cy="685.1" r="3.6"/>
<circle cx="138.3" cy="606.0" r="3.6"/>
<circle cx="138.3" cy="610.8" r="3.6"/>
<circle cx="163.9" cy="615.0" r="3.6"/>
<circle cx="178.2" cy="611.4" r="3.6"/>
<circle cx="157.4" cy="625.7" r="3.6"/>
<circle cx="163.3" cy="631.6" r="3.6"/>
<circle cx="165.7" cy="631.0" r="3.6"/>
<circle cx="176.4" cy="628.6" r="3.6"/>
<circle cx="176.4" cy="633.4" r="3.6"/>
<circle cx="178.2" cy="639.9" r="3.6"/>
<circle cx="187.7" cy="641.1" r="3.6"/>
<circle cx="143.1" cy="680.3" r="3.6"/>
<circle cx="165.1" cy="686.9" r="3.6"/>
<circle cx="178.2" cy="688.1" r="3.6"/>
<circle cx="138.3" cy="623.9" r="3.6"/>
<circle cx="146.7" cy="623.9" r="3.6"/>
<circle cx="138.3" cy="631.5" r="3.6"/>
<circle cx="146.7" cy="635.5" r="3.6"/>
<circle cx="138.3" cy="639.5" r="3.6"/>
<circle cx="116.6" cy="654.5" r="3.6"/>
<circle cx="108.9" cy="655.9" r="3.6"/>
<circle cx="108.2" cy="651.9" r="3.6"/>
<circle cx="108.8" cy="653.9" r="3.6"/>
<circle cx="112.2" cy="658.3" r="3.6"/>
<circle cx="105.9" cy="670.1" r="3.6"/>
<circle cx="113.1" cy="640.4" r="3.6"/>
<circle cx="105.6" cy="668.9" r="3.6"/>
<circle cx="109.0" cy="673.5" r="3.6"/>
<circle cx="108.1" cy="650.2" r="3.6"/>
<circle cx="117.0" cy="666.9" r="3.6"/>
<circle cx="105.7" cy="674.9" r="3.6"/>
<circle cx="115.2" cy="663.7" r="3.6"/>
<circle cx="105.4" cy="676.6" r="3.6"/>
<circle cx="116.4" cy="645.7" r="3.6"/>
<circle cx="105.0" cy="661.5" r="3.6"/>
<circle cx="112.1" cy="638.1" r="3.6"/>
<circle cx="115.6" cy="644.1" r="3.6"/>
<circle cx="116.5" cy="650.4" r="3.6"/>
<circle cx="110.3" cy="652.7" r="3.6"/>
<circle cx="106.8" cy="639.9" r="3.6"/>
<circle cx="110.1" cy="672.1" r="3.6"/>
<circle cx="109.9" cy="674.2" r="3.6"/>
<circle cx="109.3" cy="657.0" r="3.6"/>
<circle cx="110.4" cy="672.8" r="3.6"/>
<circle cx="112.5" cy="649.1" r="3.6"/>
<circle cx="111.6" cy="647.9" r="3.6"/>
<circle cx="115.1" cy="674.6" r="3.6"/>
<circle cx="112.7" cy="644.1" r="3.6"/>
<circle cx="115.6" cy="677.2" r="3.6"/>
<circle cx="111.8" cy="642.3" r="3.6"/>
<circle cx="113.4" cy="650.8" r="3.6"/>
<circle cx="117.4" cy="669.2" r="3.6"/>
<circle cx="108.1" cy="643.6" r="3.6"/>
<circle cx="109.5" cy="673.6" r="3.6"/>
<circle cx="130.5" cy="674.6" r="3.6"/>
<circle cx="119.5" cy="669.6" r="3.6"/>
<circle cx="132.1" cy="642.8" r="3.6"/>
<circle cx="120.2" cy="654.3" r="3.6"/>
<circle cx="128.3" cy="662.3" r="3.6"/>
<circle cx="124.5" cy="664.2" r="3.6"/>
<circle cx="126.6" cy="649.1" r="3.6"/>
<circle cx="120.4" cy="643.6" r="3.6"/>
<circle cx="134.6" cy="645.6" r="3.6"/>
<circle cx="127.7" cy="651.3" r="3.6"/>
<circle cx="128.9" cy="666.5" r="3.6"/>
<circle cx="129.5" cy="641.8" r="3.6"/>
<circle cx="125.8" cy="670.2" r="3.6"/>
<circle cx="125.8" cy="659.1" r="3.6"/>
<circle cx="119.6" cy="668.4" r="3.6"/>
<circle cx="134.2" cy="674.5" r="3.6"/>
<circle cx="124.4" cy="651.1" r="3.6"/>
<circle cx="122.1" cy="670.9" r="3.6"/>
<circle cx="131.3" cy="660.5" r="3.6"/>
<circle cx="120.5" cy="643.8" r="3.6"/>
<circle cx="133.7" cy="652.1" r="3.6"/>
<circle cx="126.2" cy="671.8" r="3.6"/>
<circle cx="124.4" cy="659.8" r="3.6"/>
<circle cx="134.3" cy="653.2" r="3.6"/>
<circle cx="124.5" cy="663.0" r="3.6"/>
<circle cx="122.7" cy="641.7" r="3.6"/>
<circle cx="135.1" cy="648.2" r="3.6"/>
<circle cx="126.1" cy="660.6" r="3.6"/>
<circle cx="129.3" cy="639.8" r="3.6"/>
<circle cx="128.1" cy="637.3" r="3.6"/>
<circle cx="123.5" cy="676.3" r="3.6"/>
<circle cx="131.1" cy="677.0" r="3.6"/>
<circle cx="130.6" cy="660.4" r="3.6"/>
<circle cx="118.3" cy="662.8" r="3.6"/>
<circle cx="131.6" cy="662.4" r="3.6"/>
<circle cx="124.6" cy="661.5" r="3.6"/>
<circle cx="119.0" cy="638.2" r="3.6"/>
<circle cx="131.7" cy="659.7" r="3.6"/>
<circle cx="128.1" cy="669.6" r="3.6"/>
<circle cx="122.1" cy="645.9" r="3.6"/>
<circle cx="134.5" cy="656.1" r="3.6"/>
<circle cx="129.3" cy="653.2" r="3.6"/>
<circle cx="143.2" cy="655.0" r="3.6"/>
<circle cx="141.3" cy="668.7" r="3.6"/>
<circle cx="138.1" cy="671.1" r="3.6"/>
<circle cx="144.9" cy="646.8" r="3.6"/>
<circle cx="144.1" cy="662.5" r="3.6"/>
<circle cx="144.2" cy="643.1" r="3.6"/>
<circle cx="135.1" cy="643.2" r="3.6"/>
<circle cx="136.3" cy="642.6" r="3.6"/>
<circle cx="136.0" cy="659.1" r="3.6"/>
<circle cx="146.0" cy="671.4" r="3.6"/>
<circle cx="141.6" cy="648.9" r="3.6"/>
<circle cx="140.9" cy="670.3" r="3.6"/>
<circle cx="140.0" cy="645.2" r="3.6"/>
<circle cx="143.1" cy="641.2" r="3.6"/>
<circle cx="138.1" cy="646.3" r="3.6"/>
<circle cx="136.2" cy="645.6" r="3.6"/>
<circle cx="142.6" cy="669.9" r="3.6"/>
<circle cx="148.6" cy="652.3" r="3.6"/>
<circle cx="146.0" cy="664.2" r="3.6"/>
<circle cx="141.8" cy="670.0" r="3.6"/>
<circle cx="136.6" cy="649.9" r="3.6"/>
<circle cx="135.0" cy="663.7" r="3.6"/>
<circle cx="134.6" cy="650.8" r="3.6"/>
<circle cx="142.2" cy="661.3" r="3.6"/>
<circle cx="141.6" cy="652.6" r="3.6"/>
<circle cx="135.2" cy="642.2" r="3.6"/>
<circle cx="139.2" cy="656.2" r="3.6"/>
<circle cx="136.3" cy="668.3" r="3.6"/>
<circle cx="142.4" cy="651.5" r="3.6"/>
<circle cx="141.2" cy="652.4" r="3.6"/>
<circle cx="152.7" cy="653.0" r="3.6"/>
<circle cx="164.8" cy="669.3" r="3.6"/>
<circle cx="157.8" cy="674.6" r="3.6"/>
<circle cx="152.1" cy="662.8" r="3.6"/>
<circle cx="157.7" cy="643.0" r="3.6"/>
<circle cx="160.9" cy="683.8" r="3.6"/>
<circle cx="155.2" cy="674.7" r="3.6"/>
<circle cx="165.0" cy="656.6" r="3.6"/>
<circle cx="164.2" cy="682.1" r="3.6"/>
<circle cx="157.0" cy="652.2" r="3.6"/>
<circle cx="157.3" cy="680.0" r="3.6"/>
<circle cx="160.8" cy="663.2" r="3.6"/>
<circle cx="161.9" cy="658.4" r="3.6"/>
<circle cx="158.5" cy="672.2" r="3.6"/>
<circle cx="151.4" cy="652.5" r="3.6"/>
<circle cx="152.7" cy="683.2" r="3.6"/>
<circle cx="151.2" cy="679.3" r="3.6"/>
<circle cx="150.8" cy="650.2" r="3.6"/>
<circle cx="155.5" cy="644.7" r="3.6"/>
<circle cx="160.2" cy="659.8" r="3.6"/>
<circle cx="157.7" cy="674.2" r="3.6"/>
<circle cx="165.4" cy="677.7" r="3.6"/>
<circle cx="154.0" cy="646.7" r="3.6"/>
<circle cx="152.3" cy="681.4" r="3.6"/>
<circle cx="164.5" cy="657.4" r="3.6"/>
<circle cx="164.2" cy="664.5" r="3.6"/>
<circle cx="162.3" cy="653.8" r="3.6"/>
<circle cx="164.1" cy="669.9" r="3.6"/>
<circle cx="151.8" cy="643.6" r="3.6"/>
<circle cx="161.9" cy="668.5" r="3.6"/>
<circle cx="157.3" cy="657.7" r="3.6"/>
<circle cx="151.0" cy="684.9" r="3.6"/>
<circle cx="160.1" cy="680.8" r="3.6"/>
<circle cx="161.1" cy="647.4" r="3.6"/>
<circle cx="158.1" cy="663.2" r="3.6"/>
<circle cx="171.9" cy="657.0" r="3.6"/>
<circle cx="191.2" cy="683.3" r="3.6"/>
<circle cx="173.9" cy="679.0" r="3.6"/>
<circle cx="176.2" cy="654.8" r="3.6"/>
<circle cx="181.4" cy="639.5" r="3.6"/>
<circle cx="173.7" cy="679.2" r="3.6"/>
<circle cx="179.5" cy="662.4" r="3.6"/>
<circle cx="172.1" cy="660.2" r="3.6"/>
<circle cx="180.7" cy="680.7" r="3.6"/>
<circle cx="179.5" cy="646.1" r="3.6"/>
<circle cx="171.6" cy="657.6" r="3.6"/>
<circle cx="191.6" cy="671.6" r="3.6"/>
<circle cx="177.5" cy="671.1" r="3.6"/>
<circle cx="167.2" cy="652.8" r="3.6"/>
<circle cx="176.7" cy="648.9" r="3.6"/>
<circle cx="186.2" cy="643.5" r="3.6"/>
<circle cx="183.0" cy="661.0" r="3.6"/>
<circle cx="178.5" cy="655.3" r="3.6"/>
<circle cx="183.9" cy="666.3" r="3.6"/>
<circle cx="189.9" cy="662.0" r="3.6"/>
<circle cx="173.5" cy="658.5" r="3.6"/>
<circle cx="174.3" cy="670.6" r="3.6"/>
<circle cx="176.9" cy="662.4" r="3.6"/>
<circle cx="170.4" cy="662.3" r="3.6"/>
<circle cx="191.0" cy="683.7" r="3.6"/>
<circle cx="168.5" cy="645.1" r="3.6"/>
<circle cx="169.8" cy="656.0" r="3.6"/>
<circle cx="170.0" cy="646.7" r="3.6"/>
<circle cx="174.0" cy="666.6" r="3.6"/>
<circle cx="176.2" cy="658.6" r="3.6"/>
<circle cx="180.6" cy="655.5" r="3.6"/>
<circle cx="177.6" cy="656.7" r="3.6"/>
<circle cx="177.4" cy="674.0" r="3.6"/>
<circle cx="170.5" cy="687.5" r="3.6"/>
<circle cx="171.1" cy="663.7" r="3.6"/>
<circle cx="167.5" cy="653.0" r="3.6"/>
<circle cx="191.2" cy="686.5" r="3.6"/>
<circle cx="167.9" cy="671.3" r="3.6"/>
<circle cx="175.1" cy="685.7" r="3.6"/>
<circle cx="168.6" cy="651.5" r="3.6"/>
<circle cx="186.3" cy="681.3" r="3.6"/>
<circle cx="170.7" cy="676.2" r="3.6"/>
<circle cx="191.1" cy="673.0" r="3.6"/>
<circle cx="171.7" cy="652.1" r="3.6"/>
<circle cx="184.2" cy="646.3" r="3.6"/>
<circle cx="190.4" cy="642.2" r="3.6"/>
<circle cx="181.6" cy="644.0" r="3.6"/>
<circle cx="167.9" cy="648.7" r="3.6"/>
</g>
<path d="M58.3,640.2 L201.5,668.4" fill="none" stroke="#000" stroke-width="1.7"/>
<text class="b" x="68.0" y="560.5" font-size="18.6" text-anchor="middle">d</text>
<g class="ann">
<text class="s" x="160.5" y="564.8" font-size="14" font-style="italic">r</text>
<text class="s" x="164.9" y="556.9" font-size="9" style="stroke:none">2</text>
<text class="s" x="164.7" y="570.5" font-size="9" textLength="9" lengthAdjust="spacingAndGlyphs" style="stroke:none;fill:#444">adj</text>
<text class="s" x="175.5" y="565.0" font-size="14.2" textLength="29.3" lengthAdjust="spacingAndGlyphs">=0.13</text>
<text class="s" x="160.5" y="589.0" font-size="13.2" textLength="31.3" lengthAdjust="spacingAndGlyphs"><tspan font-style="italic">n</tspan>=489</text>
</g>
<rect x="56.0" y="543.5" width="157.2" height="157" fill="none" stroke="#5e5e5e" stroke-width="1.4"/>
<line x1="55.9" y1="543.5" x2="55.9" y2="700.5" stroke="#444" stroke-width="1.5"/>
<g fill="#d0d0d0" stroke="#151515" stroke-width="1.0">
<circle cx="223.9" cy="636.2" r="3.6"/>
<circle cx="223.9" cy="638.8" r="3.6"/>
<circle cx="223.9" cy="652.9" r="3.6"/>
<circle cx="223.9" cy="662.0" r="3.6"/>
<circle cx="276.1" cy="567.9" r="3.6"/>
<circle cx="276.1" cy="586.6" r="3.6"/>
<circle cx="267.0" cy="592.9" r="3.6"/>
<circle cx="276.1" cy="608.7" r="3.6"/>
<circle cx="290.1" cy="616.1" r="3.6"/>
<circle cx="258.2" cy="612.6" r="3.6"/>
<circle cx="258.2" cy="615.7" r="3.6"/>
<circle cx="295.3" cy="625.2" r="3.6"/>
<circle cx="295.3" cy="629.7" r="3.6"/>
<circle cx="286.6" cy="630.1" r="3.6"/>
<circle cx="256.8" cy="627.4" r="3.6"/>
<circle cx="260.3" cy="631.0" r="3.6"/>
<circle cx="276.1" cy="629.2" r="3.6"/>
<circle cx="276.1" cy="636.2" r="3.6"/>
<circle cx="276.1" cy="641.5" r="3.6"/>
<circle cx="280.4" cy="638.8" r="3.6"/>
<circle cx="257.7" cy="637.1" r="3.6"/>
<circle cx="259.4" cy="639.7" r="3.6"/>
<circle cx="265.6" cy="645.8" r="3.6"/>
<circle cx="313.7" cy="645.0" r="3.6"/>
<circle cx="290.1" cy="646.7" r="3.6"/>
<circle cx="296.2" cy="643.7" r="3.6"/>
<circle cx="300.6" cy="647.6" r="3.6"/>
<circle cx="285.7" cy="654.6" r="3.6"/>
<circle cx="291.0" cy="655.5" r="3.6"/>
<circle cx="296.2" cy="652.9" r="3.6"/>
<circle cx="300.6" cy="659.0" r="3.6"/>
<circle cx="300.6" cy="660.7" r="3.6"/>
<circle cx="257.7" cy="655.5" r="3.6"/>
<circle cx="260.3" cy="659.0" r="3.6"/>
<circle cx="265.6" cy="658.1" r="3.6"/>
<circle cx="268.2" cy="655.5" r="3.6"/>
<circle cx="253.3" cy="661.3" r="3.6"/>
<circle cx="257.7" cy="666.0" r="3.6"/>
<circle cx="265.6" cy="665.1" r="3.6"/>
<circle cx="270.8" cy="666.5" r="3.6"/>
<circle cx="276.1" cy="664.2" r="3.6"/>
<circle cx="285.7" cy="661.6" r="3.6"/>
<circle cx="285.7" cy="665.1" r="3.6"/>
<circle cx="291.0" cy="665.1" r="3.6"/>
<circle cx="295.3" cy="664.2" r="3.6"/>
<circle cx="295.3" cy="670.4" r="3.6"/>
<circle cx="262.1" cy="673.0" r="3.6"/>
<circle cx="265.6" cy="671.2" r="3.6"/>
<circle cx="262.1" cy="676.5" r="3.6"/>
<circle cx="265.6" cy="680.5" r="3.6"/>
<circle cx="280.4" cy="675.3" r="3.6"/>
<circle cx="288.3" cy="673.9" r="3.6"/>
<circle cx="313.7" cy="659.0" r="3.6"/>
<circle cx="313.7" cy="666.0" r="3.6"/>
<circle cx="312.9" cy="673.0" r="3.6"/>
<circle cx="321.6" cy="668.6" r="3.6"/>
<circle cx="325.1" cy="665.1" r="3.6"/>
<circle cx="288.0" cy="649.5" r="3.6"/>
<circle cx="293.0" cy="658.5" r="3.6"/>
<circle cx="298.0" cy="665.5" r="3.6"/>
<circle cx="290.0" cy="668.5" r="3.6"/>
</g>
<text class="b" x="223.8" y="560.5" font-size="18.6" text-anchor="middle">i</text>
<rect x="213.0" y="543.5" width="157.2" height="157" fill="none" stroke="#5e5e5e" stroke-width="1.4"/>
<g fill="#d0d0d0" stroke="#151515" stroke-width="1.0">
<circle cx="396.2" cy="613.2" r="3.6"/>
<circle cx="405.7" cy="605.5" r="3.6"/>
<circle cx="405.7" cy="609.6" r="3.6"/>
<circle cx="405.7" cy="631.0" r="3.6"/>
<circle cx="405.7" cy="634.0" r="3.6"/>
<circle cx="414.6" cy="631.0" r="3.6"/>
<circle cx="414.6" cy="634.6" r="3.6"/>
<circle cx="418.7" cy="626.9" r="3.6"/>
<circle cx="418.7" cy="629.2" r="3.6"/>
<circle cx="419.3" cy="631.6" r="3.6"/>
<circle cx="402.1" cy="645.9" r="3.6"/>
<circle cx="402.1" cy="648.2" r="3.6"/>
<circle cx="406.3" cy="644.7" r="3.6"/>
<circle cx="401.5" cy="657.2" r="3.6"/>
<circle cx="401.5" cy="663.7" r="3.6"/>
<circle cx="401.5" cy="666.1" r="3.6"/>
<circle cx="399.7" cy="672.0" r="3.6"/>
<circle cx="406.3" cy="671.4" r="3.6"/>
<circle cx="414.6" cy="662.5" r="3.6"/>
<circle cx="435.4" cy="622.1" r="3.6"/>
<circle cx="435.4" cy="626.9" r="3.6"/>
<circle cx="435.4" cy="632.8" r="3.6"/>
<circle cx="435.4" cy="639.3" r="3.6"/>
<circle cx="435.4" cy="649.4" r="3.6"/>
<circle cx="435.4" cy="657.8" r="3.6"/>
<circle cx="437.8" cy="675.6" r="3.6"/>
<circle cx="446.7" cy="676.2" r="3.6"/>
<circle cx="441.3" cy="685.1" r="3.6"/>
<circle cx="452.3" cy="606.0" r="3.6"/>
<circle cx="452.3" cy="610.8" r="3.6"/>
<circle cx="477.9" cy="615.0" r="3.6"/>
<circle cx="492.2" cy="611.4" r="3.6"/>
<circle cx="471.4" cy="625.7" r="3.6"/>
<circle cx="477.3" cy="631.6" r="3.6"/>
<circle cx="479.7" cy="631.0" r="3.6"/>
<circle cx="490.4" cy="628.6" r="3.6"/>
<circle cx="490.4" cy="633.4" r="3.6"/>
<circle cx="492.2" cy="639.9" r="3.6"/>
<circle cx="501.7" cy="641.1" r="3.6"/>
<circle cx="457.1" cy="680.3" r="3.6"/>
<circle cx="479.1" cy="686.9" r="3.6"/>
<circle cx="492.2" cy="688.1" r="3.6"/>
<circle cx="452.3" cy="623.9" r="3.6"/>
<circle cx="460.7" cy="623.9" r="3.6"/>
<circle cx="452.3" cy="631.5" r="3.6"/>
<circle cx="460.7" cy="635.5" r="3.6"/>
<circle cx="452.3" cy="639.5" r="3.6"/>
<circle cx="430.6" cy="654.5" r="3.6"/>
<circle cx="422.9" cy="655.9" r="3.6"/>
<circle cx="422.2" cy="651.9" r="3.6"/>
<circle cx="422.8" cy="653.9" r="3.6"/>
<circle cx="426.2" cy="658.3" r="3.6"/>
<circle cx="419.9" cy="670.1" r="3.6"/>
<circle cx="427.1" cy="640.4" r="3.6"/>
<circle cx="419.6" cy="668.9" r="3.6"/>
<circle cx="423.0" cy="673.5" r="3.6"/>
<circle cx="422.1" cy="650.2" r="3.6"/>
<circle cx="431.0" cy="666.9" r="3.6"/>
<circle cx="419.7" cy="674.9" r="3.6"/>
<circle cx="429.2" cy="663.7" r="3.6"/>
<circle cx="419.4" cy="676.6" r="3.6"/>
<circle cx="430.4" cy="645.7" r="3.6"/>
<circle cx="419.0" cy="661.5" r="3.6"/>
<circle cx="426.1" cy="638.1" r="3.6"/>
<circle cx="429.6" cy="644.1" r="3.6"/>
<circle cx="430.5" cy="650.4" r="3.6"/>
<circle cx="424.3" cy="652.7" r="3.6"/>
<circle cx="420.8" cy="639.9" r="3.6"/>
<circle cx="424.1" cy="672.1" r="3.6"/>
<circle cx="423.9" cy="674.2" r="3.6"/>
<circle cx="423.3" cy="657.0" r="3.6"/>
<circle cx="424.4" cy="672.8" r="3.6"/>
<circle cx="426.5" cy="649.1" r="3.6"/>
<circle cx="425.6" cy="647.9" r="3.6"/>
<circle cx="429.1" cy="674.6" r="3.6"/>
<circle cx="426.7" cy="644.1" r="3.6"/>
<circle cx="429.6" cy="677.2" r="3.6"/>
<circle cx="425.8" cy="642.3" r="3.6"/>
<circle cx="427.4" cy="650.8" r="3.6"/>
<circle cx="431.4" cy="669.2" r="3.6"/>
<circle cx="422.1" cy="643.6" r="3.6"/>
<circle cx="423.5" cy="673.6" r="3.6"/>
<circle cx="444.5" cy="674.6" r="3.6"/>
<circle cx="433.5" cy="669.6" r="3.6"/>
<circle cx="446.1" cy="642.8" r="3.6"/>
<circle cx="434.2" cy="654.3" r="3.6"/>
<circle cx="442.3" cy="662.3" r="3.6"/>
<circle cx="438.5" cy="664.2" r="3.6"/>
<circle cx="440.6" cy="649.1" r="3.6"/>
<circle cx="434.4" cy="643.6" r="3.6"/>
<circle cx="448.6" cy="645.6" r="3.6"/>
<circle cx="441.7" cy="651.3" r="3.6"/>
<circle cx="442.9" cy="666.5" r="3.6"/>
<circle cx="443.5" cy="641.8" r="3.6"/>
<circle cx="439.8" cy="670.2" r="3.6"/>
<circle cx="439.8" cy="659.1" r="3.6"/>
<circle cx="433.6" cy="668.4" r="3.6"/>
<circle cx="448.2" cy="674.5" r="3.6"/>
<circle cx="438.4" cy="651.1" r="3.6"/>
<circle cx="436.1" cy="670.9" r="3.6"/>
<circle cx="445.3" cy="660.5" r="3.6"/>
<circle cx="434.5" cy="643.8" r="3.6"/>
<circle cx="447.7" cy="652.1" r="3.6"/>
<circle cx="440.2" cy="671.8" r="3.6"/>
<circle cx="438.4" cy="659.8" r="3.6"/>
<circle cx="448.3" cy="653.2" r="3.6"/>
<circle cx="438.5" cy="663.0" r="3.6"/>
<circle cx="436.7" cy="641.7" r="3.6"/>
<circle cx="449.1" cy="648.2" r="3.6"/>
<circle cx="440.1" cy="660.6" r="3.6"/>
<circle cx="443.3" cy="639.8" r="3.6"/>
<circle cx="442.1" cy="637.3" r="3.6"/>
<circle cx="437.5" cy="676.3" r="3.6"/>
<circle cx="445.1" cy="677.0" r="3.6"/>
<circle cx="444.6" cy="660.4" r="3.6"/>
<circle cx="432.3" cy="662.8" r="3.6"/>
<circle cx="445.6" cy="662.4" r="3.6"/>
<circle cx="438.6" cy="661.5" r="3.6"/>
<circle cx="433.0" cy="638.2" r="3.6"/>
<circle cx="445.7" cy="659.7" r="3.6"/>
<circle cx="442.1" cy="669.6" r="3.6"/>
<circle cx="436.1" cy="645.9" r="3.6"/>
<circle cx="448.5" cy="656.1" r="3.6"/>
<circle cx="443.3" cy="653.2" r="3.6"/>
<circle cx="457.2" cy="655.0" r="3.6"/>
<circle cx="455.3" cy="668.7" r="3.6"/>
<circle cx="452.1" cy="671.1" r="3.6"/>
<circle cx="458.9" cy="646.8" r="3.6"/>
<circle cx="458.1" cy="662.5" r="3.6"/>
<circle cx="458.2" cy="643.1" r="3.6"/>
<circle cx="449.1" cy="643.2" r="3.6"/>
<circle cx="450.3" cy="642.6" r="3.6"/>
<circle cx="450.0" cy="659.1" r="3.6"/>
<circle cx="460.0" cy="671.4" r="3.6"/>
<circle cx="455.6" cy="648.9" r="3.6"/>
<circle cx="454.9" cy="670.3" r="3.6"/>
<circle cx="454.0" cy="645.2" r="3.6"/>
<circle cx="457.1" cy="641.2" r="3.6"/>
<circle cx="452.1" cy="646.3" r="3.6"/>
<circle cx="450.2" cy="645.6" r="3.6"/>
<circle cx="456.6" cy="669.9" r="3.6"/>
<circle cx="462.6" cy="652.3" r="3.6"/>
<circle cx="460.0" cy="664.2" r="3.6"/>
<circle cx="455.8" cy="670.0" r="3.6"/>
<circle cx="450.6" cy="649.9" r="3.6"/>
<circle cx="449.0" cy="663.7" r="3.6"/>
<circle cx="448.6" cy="650.8" r="3.6"/>
<circle cx="456.2" cy="661.3" r="3.6"/>
<circle cx="455.6" cy="652.6" r="3.6"/>
<circle cx="449.2" cy="642.2" r="3.6"/>
<circle cx="453.2" cy="656.2" r="3.6"/>
<circle cx="450.3" cy="668.3" r="3.6"/>
<circle cx="456.4" cy="651.5" r="3.6"/>
<circle cx="455.2" cy="652.4" r="3.6"/>
<circle cx="466.7" cy="653.0" r="3.6"/>
<circle cx="478.8" cy="669.3" r="3.6"/>
<circle cx="471.8" cy="674.6" r="3.6"/>
<circle cx="466.1" cy="662.8" r="3.6"/>
<circle cx="471.7" cy="643.0" r="3.6"/>
<circle cx="474.9" cy="683.8" r="3.6"/>
<circle cx="469.2" cy="674.7" r="3.6"/>
<circle cx="479.0" cy="656.6" r="3.6"/>
<circle cx="478.2" cy="682.1" r="3.6"/>
<circle cx="471.0" cy="652.2" r="3.6"/>
<circle cx="471.3" cy="680.0" r="3.6"/>
<circle cx="474.8" cy="663.2" r="3.6"/>
<circle cx="475.9" cy="658.4" r="3.6"/>
<circle cx="472.5" cy="672.2" r="3.6"/>
<circle cx="465.4" cy="652.5" r="3.6"/>
<circle cx="466.7" cy="683.2" r="3.6"/>
<circle cx="465.2" cy="679.3" r="3.6"/>
<circle cx="464.8" cy="650.2" r="3.6"/>
<circle cx="469.5" cy="644.7" r="3.6"/>
<circle cx="474.2" cy="659.8" r="3.6"/>
<circle cx="471.7" cy="674.2" r="3.6"/>
<circle cx="479.4" cy="677.7" r="3.6"/>
<circle cx="468.0" cy="646.7" r="3.6"/>
<circle cx="466.3" cy="681.4" r="3.6"/>
<circle cx="478.5" cy="657.4" r="3.6"/>
<circle cx="478.2" cy="664.5" r="3.6"/>
<circle cx="476.3" cy="653.8" r="3.6"/>
<circle cx="478.1" cy="669.9" r="3.6"/>
<circle cx="465.8" cy="643.6" r="3.6"/>
<circle cx="475.9" cy="668.5" r="3.6"/>
<circle cx="471.3" cy="657.7" r="3.6"/>
<circle cx="465.0" cy="684.9" r="3.6"/>
<circle cx="474.1" cy="680.8" r="3.6"/>
<circle cx="475.1" cy="647.4" r="3.6"/>
<circle cx="472.1" cy="663.2" r="3.6"/>
<circle cx="485.9" cy="657.0" r="3.6"/>
<circle cx="505.2" cy="683.3" r="3.6"/>
<circle cx="487.9" cy="679.0" r="3.6"/>
<circle cx="490.2" cy="654.8" r="3.6"/>
<circle cx="495.4" cy="639.5" r="3.6"/>
<circle cx="487.7" cy="679.2" r="3.6"/>
<circle cx="493.5" cy="662.4" r="3.6"/>
<circle cx="486.1" cy="660.2" r="3.6"/>
<circle cx="494.7" cy="680.7" r="3.6"/>
<circle cx="493.5" cy="646.1" r="3.6"/>
<circle cx="485.6" cy="657.6" r="3.6"/>
<circle cx="505.6" cy="671.6" r="3.6"/>
<circle cx="491.5" cy="671.1" r="3.6"/>
<circle cx="481.2" cy="652.8" r="3.6"/>
<circle cx="490.7" cy="648.9" r="3.6"/>
<circle cx="500.2" cy="643.5" r="3.6"/>
<circle cx="497.0" cy="661.0" r="3.6"/>
<circle cx="492.5" cy="655.3" r="3.6"/>
<circle cx="497.9" cy="666.3" r="3.6"/>
<circle cx="503.9" cy="662.0" r="3.6"/>
<circle cx="487.5" cy="658.5" r="3.6"/>
<circle cx="488.3" cy="670.6" r="3.6"/>
<circle cx="490.9" cy="662.4" r="3.6"/>
<circle cx="484.4" cy="662.3" r="3.6"/>
<circle cx="505.0" cy="683.7" r="3.6"/>
<circle cx="482.5" cy="645.1" r="3.6"/>
<circle cx="483.8" cy="656.0" r="3.6"/>
<circle cx="484.0" cy="646.7" r="3.6"/>
<circle cx="488.0" cy="666.6" r="3.6"/>
<circle cx="490.2" cy="658.6" r="3.6"/>
<circle cx="494.6" cy="655.5" r="3.6"/>
<circle cx="491.6" cy="656.7" r="3.6"/>
<circle cx="491.4" cy="674.0" r="3.6"/>
<circle cx="484.5" cy="687.5" r="3.6"/>
<circle cx="485.1" cy="663.7" r="3.6"/>
<circle cx="481.5" cy="653.0" r="3.6"/>
<circle cx="505.2" cy="686.5" r="3.6"/>
<circle cx="481.9" cy="671.3" r="3.6"/>
<circle cx="489.1" cy="685.7" r="3.6"/>
<circle cx="482.6" cy="651.5" r="3.6"/>
<circle cx="500.3" cy="681.3" r="3.6"/>
<circle cx="484.7" cy="676.2" r="3.6"/>
<circle cx="505.1" cy="673.0" r="3.6"/>
<circle cx="485.7" cy="652.1" r="3.6"/>
<circle cx="498.2" cy="646.3" r="3.6"/>
<circle cx="504.4" cy="642.2" r="3.6"/>
<circle cx="495.6" cy="644.0" r="3.6"/>
<circle cx="481.9" cy="648.7" r="3.6"/>
</g>
<path d="M384.9,642.1 L515.5,669.1" fill="none" stroke="#000" stroke-width="1.7"/>
<text class="b" x="380.8" y="560.5" font-size="18.6" text-anchor="middle">n</text>
<g class="ann">
<text class="s" x="473.3" y="567.8" font-size="14" font-style="italic">r</text>
<text class="s" x="477.7" y="559.9" font-size="9" style="stroke:none">2</text>
<text class="s" x="477.5" y="573.5" font-size="9" textLength="9" lengthAdjust="spacingAndGlyphs" style="stroke:none;fill:#444">adj</text>
<text class="s" x="488.3" y="568.0" font-size="14.2" textLength="29.3" lengthAdjust="spacingAndGlyphs">=0.14</text>
<text class="s" x="473.3" y="591.8" font-size="13.2" textLength="31.3" lengthAdjust="spacingAndGlyphs"><tspan font-style="italic">n</tspan>=380</text>
</g>
<rect x="370.0" y="543.5" width="157.2" height="157" fill="none" stroke="#5e5e5e" stroke-width="1.4"/>
<g fill="#d0d0d0" stroke="#151515" stroke-width="1.0">
<circle cx="609.9" cy="610.9" r="3.6"/>
<circle cx="609.9" cy="623.7" r="3.6"/>
<circle cx="611.7" cy="633.3" r="3.6"/>
<circle cx="613.4" cy="635.0" r="3.6"/>
<circle cx="575.8" cy="626.3" r="3.6"/>
<circle cx="575.8" cy="629.8" r="3.6"/>
<circle cx="571.4" cy="631.5" r="3.6"/>
<circle cx="571.4" cy="635.0" r="3.6"/>
<circle cx="591.5" cy="622.8" r="3.6"/>
<circle cx="591.5" cy="626.3" r="3.6"/>
<circle cx="591.5" cy="629.8" r="3.6"/>
<circle cx="596.0" cy="628.0" r="3.6"/>
<circle cx="596.0" cy="633.3" r="3.6"/>
<circle cx="592.4" cy="634.2" r="3.6"/>
<circle cx="628.3" cy="647.3" r="3.6"/>
<circle cx="633.6" cy="648.2" r="3.6"/>
<circle cx="640.6" cy="646.9" r="3.6"/>
<circle cx="571.4" cy="662.7" r="3.6"/>
<circle cx="579.3" cy="668.3" r="3.6"/>
<circle cx="580.1" cy="674.5" r="3.6"/>
<circle cx="588.0" cy="671.0" r="3.6"/>
<circle cx="603.8" cy="676.2" r="3.6"/>
<circle cx="614.3" cy="679.7" r="3.6"/>
<circle cx="614.3" cy="681.5" r="3.6"/>
<circle cx="626.6" cy="679.7" r="3.6"/>
<circle cx="636.2" cy="686.7" r="3.6"/>
<circle cx="655.5" cy="680.9" r="3.6"/>
<circle cx="611.3" cy="644.5" r="3.6"/>
<circle cx="582.3" cy="657.2" r="3.6"/>
<circle cx="611.4" cy="648.0" r="3.6"/>
<circle cx="597.8" cy="662.4" r="3.6"/>
<circle cx="582.8" cy="657.6" r="3.6"/>
<circle cx="577.9" cy="648.3" r="3.6"/>
<circle cx="612.0" cy="650.8" r="3.6"/>
<circle cx="579.4" cy="656.6" r="3.6"/>
<circle cx="594.9" cy="646.3" r="3.6"/>
<circle cx="592.1" cy="650.7" r="3.6"/>
<circle cx="593.0" cy="638.3" r="3.6"/>
<circle cx="578.1" cy="658.9" r="3.6"/>
<circle cx="605.0" cy="646.8" r="3.6"/>
<circle cx="595.6" cy="637.5" r="3.6"/>
<circle cx="611.7" cy="653.1" r="3.6"/>
<circle cx="581.7" cy="654.9" r="3.6"/>
<circle cx="592.5" cy="652.5" r="3.6"/>
<circle cx="584.6" cy="655.0" r="3.6"/>
<circle cx="602.4" cy="656.0" r="3.6"/>
<circle cx="591.4" cy="653.3" r="3.6"/>
<circle cx="591.2" cy="666.6" r="3.6"/>
<circle cx="608.5" cy="652.3" r="3.6"/>
<circle cx="581.5" cy="662.2" r="3.6"/>
<circle cx="577.8" cy="644.6" r="3.6"/>
<circle cx="584.9" cy="665.4" r="3.6"/>
<circle cx="604.5" cy="648.7" r="3.6"/>
<circle cx="581.8" cy="636.9" r="3.6"/>
<circle cx="588.4" cy="664.8" r="3.6"/>
<circle cx="587.9" cy="647.9" r="3.6"/>
<circle cx="602.6" cy="643.4" r="3.6"/>
<circle cx="585.7" cy="638.6" r="3.6"/>
<circle cx="615.6" cy="657.0" r="3.6"/>
<circle cx="608.0" cy="657.5" r="3.6"/>
<circle cx="585.7" cy="658.0" r="3.6"/>
<circle cx="585.6" cy="637.5" r="3.6"/>
<circle cx="585.4" cy="668.5" r="3.6"/>
<circle cx="601.5" cy="654.8" r="3.6"/>
<circle cx="583.1" cy="656.2" r="3.6"/>
<circle cx="598.0" cy="664.5" r="3.6"/>
<circle cx="607.6" cy="662.0" r="3.6"/>
<circle cx="598.3" cy="647.0" r="3.6"/>
<circle cx="598.1" cy="642.7" r="3.6"/>
<circle cx="612.2" cy="652.3" r="3.6"/>
<circle cx="599.6" cy="657.0" r="3.6"/>
<circle cx="612.1" cy="655.6" r="3.6"/>
<circle cx="596.2" cy="653.9" r="3.6"/>
<circle cx="597.9" cy="660.9" r="3.6"/>
<circle cx="602.3" cy="649.7" r="3.6"/>
<circle cx="612.2" cy="662.8" r="3.6"/>
<circle cx="604.9" cy="652.3" r="3.6"/>
<circle cx="582.8" cy="654.6" r="3.6"/>
<circle cx="579.6" cy="644.9" r="3.6"/>
<circle cx="591.4" cy="649.7" r="3.6"/>
<circle cx="599.8" cy="649.7" r="3.6"/>
<circle cx="584.6" cy="640.1" r="3.6"/>
<circle cx="617.5" cy="669.7" r="3.6"/>
<circle cx="629.4" cy="669.9" r="3.6"/>
<circle cx="619.6" cy="683.3" r="3.6"/>
<circle cx="655.1" cy="677.5" r="3.6"/>
<circle cx="652.8" cy="654.9" r="3.6"/>
<circle cx="623.0" cy="684.7" r="3.6"/>
<circle cx="646.0" cy="656.7" r="3.6"/>
<circle cx="622.6" cy="659.4" r="3.6"/>
<circle cx="651.8" cy="652.7" r="3.6"/>
<circle cx="635.1" cy="681.1" r="3.6"/>
<circle cx="627.5" cy="675.0" r="3.6"/>
<circle cx="635.9" cy="684.1" r="3.6"/>
<circle cx="658.3" cy="679.7" r="3.6"/>
<circle cx="656.2" cy="672.8" r="3.6"/>
<circle cx="655.0" cy="679.5" r="3.6"/>
<circle cx="654.5" cy="660.6" r="3.6"/>
<circle cx="652.1" cy="677.1" r="3.6"/>
<circle cx="634.8" cy="654.7" r="3.6"/>
<circle cx="655.4" cy="665.0" r="3.6"/>
<circle cx="655.8" cy="660.2" r="3.6"/>
<circle cx="650.7" cy="680.5" r="3.6"/>
<circle cx="651.1" cy="681.0" r="3.6"/>
<circle cx="642.3" cy="662.2" r="3.6"/>
<circle cx="632.0" cy="677.2" r="3.6"/>
<circle cx="625.9" cy="660.0" r="3.6"/>
<circle cx="652.4" cy="655.9" r="3.6"/>
<circle cx="631.1" cy="679.4" r="3.6"/>
<circle cx="635.8" cy="681.5" r="3.6"/>
<circle cx="651.1" cy="657.5" r="3.6"/>
<circle cx="633.0" cy="674.0" r="3.6"/>
<circle cx="631.3" cy="667.7" r="3.6"/>
<circle cx="651.6" cy="681.8" r="3.6"/>
<circle cx="628.7" cy="658.5" r="3.6"/>
<circle cx="632.7" cy="656.9" r="3.6"/>
<circle cx="621.1" cy="684.2" r="3.6"/>
<circle cx="626.0" cy="660.5" r="3.6"/>
<circle cx="644.0" cy="658.1" r="3.6"/>
<circle cx="635.9" cy="669.5" r="3.6"/>
<circle cx="619.5" cy="682.0" r="3.6"/>
<circle cx="632.0" cy="660.7" r="3.6"/>
<circle cx="627.7" cy="666.4" r="3.6"/>
<circle cx="654.3" cy="674.8" r="3.6"/>
<circle cx="617.5" cy="662.6" r="3.6"/>
<circle cx="658.9" cy="676.6" r="3.6"/>
<circle cx="629.7" cy="678.7" r="3.6"/>
<circle cx="627.1" cy="659.0" r="3.6"/>
<circle cx="639.3" cy="668.8" r="3.6"/>
<circle cx="645.0" cy="655.7" r="3.6"/>
<circle cx="623.4" cy="668.6" r="3.6"/>
<circle cx="652.0" cy="656.1" r="3.6"/>
<circle cx="636.1" cy="672.6" r="3.6"/>
<circle cx="619.6" cy="669.0" r="3.6"/>
<circle cx="627.8" cy="672.1" r="3.6"/>
<circle cx="632.4" cy="665.4" r="3.6"/>
<circle cx="625.8" cy="671.2" r="3.6"/>
<circle cx="631.1" cy="665.7" r="3.6"/>
<circle cx="622.7" cy="665.5" r="3.6"/>
<circle cx="640.1" cy="664.4" r="3.6"/>
<circle cx="623.4" cy="656.1" r="3.6"/>
<circle cx="629.4" cy="668.8" r="3.6"/>
<circle cx="649.2" cy="666.1" r="3.6"/>
<circle cx="637.4" cy="664.8" r="3.6"/>
<circle cx="632.1" cy="658.7" r="3.6"/>
</g>
<path d="M560.2,635.2 L563.0,636.6 L565.8,638.0 L568.6,639.4 L571.4,640.7 L574.2,642.1 L577.0,643.4 L579.7,644.7 L582.5,646.0 L585.3,647.3 L588.1,648.5 L590.9,649.8 L593.7,651.0 L596.5,652.3 L599.3,653.5 L602.1,654.7 L604.9,655.8 L607.7,657.0 L610.5,658.1 L613.3,659.3 L616.0,660.4 L618.8,661.5 L621.6,662.6 L624.4,663.6 L627.2,664.7 L630.0,665.7 L632.8,666.8 L635.6,667.8 L638.4,668.8 L641.2,669.7 L644.0,670.7 L646.8,671.7 L649.6,672.6 L652.3,673.5 L655.1,674.4 L657.9,675.3 L660.7,676.2 L663.5,677.0 L666.3,677.9 L669.1,678.7" fill="none" stroke="#000" stroke-width="1.7"/>
<text class="b" x="537.8" y="560.5" font-size="18.6" text-anchor="middle">s</text>
<g class="ann">
<text class="s" x="631.0" y="569.6" font-size="14" font-style="italic">r</text>
<text class="s" x="635.4" y="561.7" font-size="9" style="stroke:none">2</text>
<text class="s" x="635.2" y="575.3" font-size="9" textLength="9" lengthAdjust="spacingAndGlyphs" style="stroke:none;fill:#444">adj</text>
<text class="s" x="646.0" y="569.8" font-size="14.2" textLength="29.3" lengthAdjust="spacingAndGlyphs">=0.37</text>
<text class="s" x="631.0" y="593.6" font-size="13.2" textLength="31.3" lengthAdjust="spacingAndGlyphs"><tspan font-style="italic">n</tspan>=155</text>
</g>
<rect x="527.0" y="543.5" width="157.2" height="157" fill="none" stroke="#5e5e5e" stroke-width="1.4"/>
<g fill="#d0d0d0" stroke="#151515" stroke-width="1.0">
<circle cx="66.9" cy="838.8" r="3.6"/>
<circle cx="66.5" cy="846.2" r="3.6"/>
<circle cx="66.9" cy="847.6" r="3.6"/>
<circle cx="119.1" cy="767.9" r="3.6"/>
<circle cx="119.1" cy="779.6" r="3.6"/>
<circle cx="110.0" cy="797.3" r="3.6"/>
<circle cx="119.1" cy="800.3" r="3.6"/>
<circle cx="101.2" cy="815.7" r="3.6"/>
<circle cx="99.8" cy="823.1" r="3.6"/>
<circle cx="99.8" cy="826.2" r="3.6"/>
<circle cx="106.8" cy="825.7" r="3.6"/>
<circle cx="96.3" cy="831.8" r="3.6"/>
<circle cx="108.6" cy="829.7" r="3.6"/>
<circle cx="111.2" cy="835.3" r="3.6"/>
<circle cx="100.7" cy="840.6" r="3.6"/>
<circle cx="103.3" cy="842.3" r="3.6"/>
<circle cx="108.6" cy="842.3" r="3.6"/>
<circle cx="96.3" cy="845.8" r="3.6"/>
<circle cx="100.7" cy="848.5" r="3.6"/>
<circle cx="105.1" cy="854.6" r="3.6"/>
<circle cx="108.6" cy="852.9" r="3.6"/>
<circle cx="108.6" cy="861.6" r="3.6"/>
<circle cx="113.8" cy="846.7" r="3.6"/>
<circle cx="118.2" cy="820.4" r="3.6"/>
<circle cx="123.4" cy="820.4" r="3.6"/>
<circle cx="119.1" cy="826.2" r="3.6"/>
<circle cx="133.1" cy="805.2" r="3.6"/>
<circle cx="129.6" cy="811.7" r="3.6"/>
<circle cx="139.2" cy="809.1" r="3.6"/>
<circle cx="139.2" cy="811.7" r="3.6"/>
<circle cx="134.0" cy="818.7" r="3.6"/>
<circle cx="139.2" cy="817.8" r="3.6"/>
<circle cx="138.3" cy="821.3" r="3.6"/>
<circle cx="129.6" cy="831.0" r="3.6"/>
<circle cx="133.1" cy="831.0" r="3.6"/>
<circle cx="138.3" cy="831.8" r="3.6"/>
<circle cx="143.6" cy="831.8" r="3.6"/>
<circle cx="129.6" cy="837.1" r="3.6"/>
<circle cx="138.3" cy="837.1" r="3.6"/>
<circle cx="128.7" cy="845.0" r="3.6"/>
<circle cx="133.1" cy="847.6" r="3.6"/>
<circle cx="138.3" cy="846.7" r="3.6"/>
<circle cx="143.6" cy="845.8" r="3.6"/>
<circle cx="119.1" cy="839.7" r="3.6"/>
<circle cx="123.4" cy="855.0" r="3.6"/>
<circle cx="131.3" cy="854.6" r="3.6"/>
<circle cx="156.7" cy="825.7" r="3.6"/>
<circle cx="156.7" cy="830.1" r="3.6"/>
<circle cx="156.7" cy="837.1" r="3.6"/>
<circle cx="156.7" cy="845.5" r="3.6"/>
<circle cx="155.9" cy="856.4" r="3.6"/>
<circle cx="165.0" cy="828.3" r="3.6"/>
<circle cx="168.1" cy="849.7" r="3.6"/>
<circle cx="134.0" cy="824.0" r="3.6"/>
<circle cx="141.0" cy="826.0" r="3.6"/>
<circle cx="136.0" cy="840.0" r="3.6"/>
<circle cx="121.2" cy="746.7" r="3.6"/>
<circle cx="92.3" cy="772.9" r="3.6"/>
<circle cx="92.3" cy="776.1" r="3.6"/>
<circle cx="100.9" cy="773.7" r="3.6"/>
<circle cx="100.9" cy="776.1" r="3.6"/>
<circle cx="104.5" cy="782.5" r="3.6"/>
<circle cx="104.5" cy="785.7" r="3.6"/>
<circle cx="104.5" cy="788.8" r="3.6"/>
<circle cx="104.5" cy="791.2" r="3.6"/>
<circle cx="121.2" cy="786.5" r="3.6"/>
<circle cx="82.2" cy="795.2" r="3.6"/>
<circle cx="87.8" cy="799.7" r="3.6"/>
<circle cx="92.6" cy="807.1" r="3.6"/>
<circle cx="87.8" cy="811.9" r="3.6"/>
<circle cx="92.6" cy="816.7" r="3.6"/>
<circle cx="87.8" cy="819.9" r="3.6"/>
<circle cx="92.6" cy="830.2" r="3.6"/>
<circle cx="87.8" cy="833.4" r="3.6"/>
<circle cx="85.4" cy="839.0" r="3.6"/>
<circle cx="92.6" cy="840.5" r="3.6"/>
<circle cx="100.5" cy="831.0" r="3.6"/>
<circle cx="127.6" cy="860.4" r="3.6"/>
<circle cx="123.6" cy="850.9" r="3.6"/>
<circle cx="138.6" cy="745.9" r="3.6"/>
<circle cx="138.6" cy="767.4" r="3.6"/>
<circle cx="138.6" cy="772.6" r="3.6"/>
<circle cx="138.6" cy="782.5" r="3.6"/>
<circle cx="138.6" cy="787.3" r="3.6"/>
<circle cx="141.0" cy="790.4" r="3.6"/>
<circle cx="138.6" cy="796.0" r="3.6"/>
<circle cx="142.5" cy="800.0" r="3.6"/>
<circle cx="143.3" cy="804.8" r="3.6"/>
<circle cx="147.3" cy="809.5" r="3.6"/>
<circle cx="163.2" cy="791.7" r="3.6"/>
<circle cx="157.7" cy="799.7" r="3.6"/>
<circle cx="164.8" cy="804.8" r="3.6"/>
<circle cx="169.6" cy="811.9" r="3.6"/>
<circle cx="176.7" cy="800.8" r="3.6"/>
<circle cx="178.3" cy="807.9" r="3.6"/>
<circle cx="183.1" cy="808.7" r="3.6"/>
<circle cx="187.9" cy="816.7" r="3.6"/>
<circle cx="143.3" cy="854.1" r="3.6"/>
<circle cx="183.9" cy="861.2" r="3.6"/>
<circle cx="106.7" cy="799.0" r="3.6"/>
<circle cx="111.4" cy="822.9" r="3.6"/>
<circle cx="111.1" cy="822.5" r="3.6"/>
<circle cx="107.1" cy="805.4" r="3.6"/>
<circle cx="117.4" cy="811.4" r="3.6"/>
<circle cx="104.2" cy="838.0" r="3.6"/>
<circle cx="117.6" cy="824.4" r="3.6"/>
<circle cx="106.8" cy="801.8" r="3.6"/>
<circle cx="104.1" cy="830.1" r="3.6"/>
<circle cx="113.6" cy="805.6" r="3.6"/>
<circle cx="111.5" cy="818.9" r="3.6"/>
<circle cx="105.1" cy="826.3" r="3.6"/>
<circle cx="110.5" cy="807.0" r="3.6"/>
<circle cx="106.4" cy="834.8" r="3.6"/>
<circle cx="104.5" cy="841.0" r="3.6"/>
<circle cx="116.9" cy="825.7" r="3.6"/>
<circle cx="106.8" cy="837.8" r="3.6"/>
<circle cx="112.8" cy="809.6" r="3.6"/>
<circle cx="106.4" cy="847.0" r="3.6"/>
<circle cx="106.8" cy="801.8" r="3.6"/>
<circle cx="114.3" cy="830.8" r="3.6"/>
<circle cx="111.3" cy="827.1" r="3.6"/>
<circle cx="113.6" cy="836.9" r="3.6"/>
<circle cx="113.7" cy="830.6" r="3.6"/>
<circle cx="108.6" cy="841.7" r="3.6"/>
<circle cx="110.1" cy="806.5" r="3.6"/>
<circle cx="106.3" cy="822.9" r="3.6"/>
<circle cx="109.5" cy="809.7" r="3.6"/>
<circle cx="113.2" cy="822.4" r="3.6"/>
<circle cx="105.6" cy="796.1" r="3.6"/>
<circle cx="117.0" cy="839.0" r="3.6"/>
<circle cx="117.1" cy="808.1" r="3.6"/>
<circle cx="117.3" cy="809.3" r="3.6"/>
<circle cx="110.4" cy="817.0" r="3.6"/>
<circle cx="107.1" cy="810.6" r="3.6"/>
<circle cx="109.5" cy="816.2" r="3.6"/>
<circle cx="115.7" cy="834.8" r="3.6"/>
<circle cx="115.8" cy="799.5" r="3.6"/>
<circle cx="117.7" cy="846.2" r="3.6"/>
<circle cx="110.1" cy="843.4" r="3.6"/>
<circle cx="110.1" cy="822.6" r="3.6"/>
<circle cx="113.0" cy="832.0" r="3.6"/>
<circle cx="127.6" cy="846.4" r="3.6"/>
<circle cx="127.8" cy="800.6" r="3.6"/>
<circle cx="122.9" cy="832.7" r="3.6"/>
<circle cx="123.4" cy="839.5" r="3.6"/>
<circle cx="131.5" cy="800.3" r="3.6"/>
<circle cx="119.8" cy="816.5" r="3.6"/>
<circle cx="135.3" cy="830.1" r="3.6"/>
<circle cx="129.5" cy="845.7" r="3.6"/>
<circle cx="134.8" cy="847.5" r="3.6"/>
<circle cx="118.6" cy="814.2" r="3.6"/>
<circle cx="123.3" cy="811.7" r="3.6"/>
<circle cx="119.4" cy="841.5" r="3.6"/>
<circle cx="135.4" cy="823.9" r="3.6"/>
<circle cx="121.6" cy="836.7" r="3.6"/>
<circle cx="120.1" cy="836.7" r="3.6"/>
<circle cx="122.9" cy="820.5" r="3.6"/>
<circle cx="121.7" cy="847.5" r="3.6"/>
<circle cx="129.7" cy="837.0" r="3.6"/>
<circle cx="120.4" cy="794.6" r="3.6"/>
<circle cx="131.4" cy="841.9" r="3.6"/>
<circle cx="132.2" cy="830.1" r="3.6"/>
<circle cx="123.6" cy="805.0" r="3.6"/>
<circle cx="129.3" cy="796.5" r="3.6"/>
<circle cx="123.7" cy="824.7" r="3.6"/>
<circle cx="127.9" cy="842.2" r="3.6"/>
<circle cx="122.2" cy="829.8" r="3.6"/>
<circle cx="128.3" cy="795.8" r="3.6"/>
<circle cx="122.8" cy="799.8" r="3.6"/>
<circle cx="133.9" cy="813.6" r="3.6"/>
<circle cx="119.7" cy="837.1" r="3.6"/>
<circle cx="131.4" cy="828.7" r="3.6"/>
<circle cx="129.3" cy="798.8" r="3.6"/>
<circle cx="119.5" cy="813.5" r="3.6"/>
<circle cx="118.7" cy="838.0" r="3.6"/>
<circle cx="122.2" cy="843.7" r="3.6"/>
<circle cx="125.2" cy="829.5" r="3.6"/>
<circle cx="118.4" cy="805.7" r="3.6"/>
<circle cx="125.9" cy="840.7" r="3.6"/>
<circle cx="132.3" cy="836.7" r="3.6"/>
<circle cx="133.8" cy="827.5" r="3.6"/>
<circle cx="125.3" cy="840.6" r="3.6"/>
<circle cx="119.8" cy="822.7" r="3.6"/>
<circle cx="126.3" cy="837.3" r="3.6"/>
<circle cx="128.7" cy="831.2" r="3.6"/>
<circle cx="125.0" cy="842.5" r="3.6"/>
<circle cx="150.0" cy="851.6" r="3.6"/>
<circle cx="134.5" cy="821.1" r="3.6"/>
<circle cx="134.5" cy="849.6" r="3.6"/>
<circle cx="135.2" cy="836.8" r="3.6"/>
<circle cx="139.3" cy="850.1" r="3.6"/>
<circle cx="145.6" cy="851.2" r="3.6"/>
<circle cx="136.6" cy="844.2" r="3.6"/>
<circle cx="141.3" cy="817.2" r="3.6"/>
<circle cx="142.6" cy="824.1" r="3.6"/>
<circle cx="138.9" cy="832.1" r="3.6"/>
<circle cx="144.7" cy="822.8" r="3.6"/>
<circle cx="134.8" cy="833.2" r="3.6"/>
<circle cx="142.5" cy="829.4" r="3.6"/>
<circle cx="149.9" cy="818.5" r="3.6"/>
<circle cx="141.6" cy="832.8" r="3.6"/>
<circle cx="148.0" cy="815.8" r="3.6"/>
<circle cx="136.6" cy="832.7" r="3.6"/>
<circle cx="138.3" cy="845.7" r="3.6"/>
<circle cx="143.9" cy="813.7" r="3.6"/>
<circle cx="149.3" cy="837.3" r="3.6"/>
<circle cx="143.6" cy="841.4" r="3.6"/>
<circle cx="140.9" cy="854.3" r="3.6"/>
<circle cx="135.2" cy="840.9" r="3.6"/>
<circle cx="144.4" cy="826.7" r="3.6"/>
<circle cx="148.2" cy="848.3" r="3.6"/>
<circle cx="134.6" cy="826.5" r="3.6"/>
<circle cx="149.9" cy="816.4" r="3.6"/>
<circle cx="144.0" cy="836.3" r="3.6"/>
<circle cx="135.7" cy="812.2" r="3.6"/>
<circle cx="144.7" cy="837.9" r="3.6"/>
<circle cx="139.0" cy="823.9" r="3.6"/>
<circle cx="148.5" cy="833.4" r="3.6"/>
<circle cx="156.6" cy="844.8" r="3.6"/>
<circle cx="154.7" cy="847.0" r="3.6"/>
<circle cx="161.4" cy="849.8" r="3.6"/>
<circle cx="156.8" cy="827.4" r="3.6"/>
<circle cx="171.1" cy="828.5" r="3.6"/>
<circle cx="157.5" cy="851.8" r="3.6"/>
<circle cx="164.6" cy="822.1" r="3.6"/>
<circle cx="160.5" cy="843.2" r="3.6"/>
<circle cx="160.0" cy="855.5" r="3.6"/>
<circle cx="159.4" cy="854.5" r="3.6"/>
<circle cx="162.5" cy="857.5" r="3.6"/>
<circle cx="169.6" cy="860.8" r="3.6"/>
<circle cx="159.3" cy="817.1" r="3.6"/>
<circle cx="169.1" cy="818.0" r="3.6"/>
<circle cx="170.3" cy="834.5" r="3.6"/>
<circle cx="152.7" cy="838.5" r="3.6"/>
<circle cx="156.4" cy="850.6" r="3.6"/>
<circle cx="160.1" cy="837.9" r="3.6"/>
<circle cx="154.8" cy="838.1" r="3.6"/>
<circle cx="156.0" cy="838.3" r="3.6"/>
<circle cx="163.4" cy="832.7" r="3.6"/>
<circle cx="153.5" cy="840.0" r="3.6"/>
<circle cx="170.7" cy="846.9" r="3.6"/>
<circle cx="162.6" cy="849.2" r="3.6"/>
<circle cx="171.1" cy="816.2" r="3.6"/>
<circle cx="163.8" cy="836.2" r="3.6"/>
<circle cx="157.1" cy="859.2" r="3.6"/>
<circle cx="154.0" cy="812.3" r="3.6"/>
<circle cx="171.5" cy="829.7" r="3.6"/>
<circle cx="163.3" cy="856.5" r="3.6"/>
<circle cx="161.1" cy="813.1" r="3.6"/>
<circle cx="157.2" cy="859.1" r="3.6"/>
<circle cx="159.3" cy="843.2" r="3.6"/>
<circle cx="152.7" cy="846.4" r="3.6"/>
<circle cx="169.9" cy="834.3" r="3.6"/>
<circle cx="156.0" cy="840.8" r="3.6"/>
<circle cx="163.4" cy="859.4" r="3.6"/>
<circle cx="169.6" cy="823.9" r="3.6"/>
<circle cx="154.8" cy="837.5" r="3.6"/>
<circle cx="162.7" cy="853.5" r="3.6"/>
<circle cx="152.8" cy="830.3" r="3.6"/>
<circle cx="153.9" cy="823.7" r="3.6"/>
<circle cx="173.5" cy="810.3" r="3.6"/>
<circle cx="174.1" cy="818.7" r="3.6"/>
<circle cx="183.0" cy="808.2" r="3.6"/>
<circle cx="190.2" cy="813.2" r="3.6"/>
<circle cx="190.2" cy="848.2" r="3.6"/>
<circle cx="179.2" cy="818.9" r="3.6"/>
<circle cx="173.5" cy="832.3" r="3.6"/>
<circle cx="187.1" cy="810.6" r="3.6"/>
<circle cx="191.3" cy="839.5" r="3.6"/>
<circle cx="189.5" cy="852.9" r="3.6"/>
<circle cx="179.9" cy="858.1" r="3.6"/>
<circle cx="182.5" cy="835.6" r="3.6"/>
<circle cx="180.2" cy="849.3" r="3.6"/>
<circle cx="177.5" cy="820.7" r="3.6"/>
<circle cx="183.3" cy="810.4" r="3.6"/>
<circle cx="180.7" cy="837.7" r="3.6"/>
<circle cx="182.7" cy="825.5" r="3.6"/>
<circle cx="190.6" cy="852.7" r="3.6"/>
<circle cx="190.4" cy="823.1" r="3.6"/>
<circle cx="187.1" cy="846.3" r="3.6"/>
<circle cx="189.4" cy="831.9" r="3.6"/>
<circle cx="180.6" cy="847.2" r="3.6"/>
<circle cx="174.8" cy="826.4" r="3.6"/>
<circle cx="190.6" cy="846.7" r="3.6"/>
<circle cx="183.7" cy="812.3" r="3.6"/>
<circle cx="183.2" cy="839.8" r="3.6"/>
<circle cx="174.3" cy="823.3" r="3.6"/>
<circle cx="183.0" cy="848.3" r="3.6"/>
<circle cx="172.5" cy="832.3" r="3.6"/>
<circle cx="184.7" cy="821.0" r="3.6"/>
<circle cx="177.1" cy="835.9" r="3.6"/>
<circle cx="179.5" cy="839.6" r="3.6"/>
<circle cx="177.0" cy="826.3" r="3.6"/>
<circle cx="187.9" cy="859.2" r="3.6"/>
<circle cx="190.1" cy="844.7" r="3.6"/>
<circle cx="179.7" cy="849.3" r="3.6"/>
<circle cx="175.9" cy="816.5" r="3.6"/>
<circle cx="174.3" cy="842.6" r="3.6"/>
<circle cx="187.0" cy="857.1" r="3.6"/>
<circle cx="188.0" cy="809.2" r="3.6"/>
<circle cx="189.8" cy="840.6" r="3.6"/>
<circle cx="173.6" cy="843.3" r="3.6"/>
</g>
<path d="M67.0,812.4 L201.5,844.9" fill="none" stroke="#000" stroke-width="1.7"/>
<text class="b" x="68.0" y="736.5" font-size="18.6" text-anchor="middle">e</text>
<g class="ann">
<text class="s" x="158.1" y="742.8" font-size="14" font-style="italic">r</text>
<text class="s" x="162.5" y="734.9" font-size="9" style="stroke:none">2</text>
<text class="s" x="162.3" y="748.5" font-size="9" textLength="9" lengthAdjust="spacingAndGlyphs" style="stroke:none;fill:#444">adj</text>
<text class="s" x="173.1" y="743.0" font-size="14.2" textLength="29.3" lengthAdjust="spacingAndGlyphs">=0.14</text>
<text class="s" x="158.1" y="767.0" font-size="13.2" textLength="31.3" lengthAdjust="spacingAndGlyphs"><tspan font-style="italic">n</tspan>=489</text>
</g>
<rect x="56.0" y="720.0" width="157.2" height="157" fill="none" stroke="#5e5e5e" stroke-width="1.4"/>
<line x1="55.9" y1="720.0" x2="55.9" y2="877.0" stroke="#444" stroke-width="1.5"/>
<line x1="56.0" y1="876.6" x2="213.2" y2="876.6" stroke="#333" stroke-width="1.3"/>
<g fill="#d0d0d0" stroke="#151515" stroke-width="1.0">
<circle cx="223.9" cy="838.8" r="3.6"/>
<circle cx="223.5" cy="846.2" r="3.6"/>
<circle cx="223.9" cy="847.6" r="3.6"/>
<circle cx="276.1" cy="767.9" r="3.6"/>
<circle cx="276.1" cy="779.6" r="3.6"/>
<circle cx="267.0" cy="797.3" r="3.6"/>
<circle cx="276.1" cy="800.3" r="3.6"/>
<circle cx="258.2" cy="815.7" r="3.6"/>
<circle cx="256.8" cy="823.1" r="3.6"/>
<circle cx="256.8" cy="826.2" r="3.6"/>
<circle cx="263.8" cy="825.7" r="3.6"/>
<circle cx="253.3" cy="831.8" r="3.6"/>
<circle cx="265.6" cy="829.7" r="3.6"/>
<circle cx="268.2" cy="835.3" r="3.6"/>
<circle cx="257.7" cy="840.6" r="3.6"/>
<circle cx="260.3" cy="842.3" r="3.6"/>
<circle cx="265.6" cy="842.3" r="3.6"/>
<circle cx="253.3" cy="845.8" r="3.6"/>
<circle cx="257.7" cy="848.5" r="3.6"/>
<circle cx="262.1" cy="854.6" r="3.6"/>
<circle cx="265.6" cy="852.9" r="3.6"/>
<circle cx="265.6" cy="861.6" r="3.6"/>
<circle cx="270.8" cy="846.7" r="3.6"/>
<circle cx="275.2" cy="820.4" r="3.6"/>
<circle cx="280.4" cy="820.4" r="3.6"/>
<circle cx="276.1" cy="826.2" r="3.6"/>
<circle cx="290.1" cy="805.2" r="3.6"/>
<circle cx="286.6" cy="811.7" r="3.6"/>
<circle cx="296.2" cy="809.1" r="3.6"/>
<circle cx="296.2" cy="811.7" r="3.6"/>
<circle cx="291.0" cy="818.7" r="3.6"/>
<circle cx="296.2" cy="817.8" r="3.6"/>
<circle cx="295.3" cy="821.3" r="3.6"/>
<circle cx="286.6" cy="831.0" r="3.6"/>
<circle cx="290.1" cy="831.0" r="3.6"/>
<circle cx="295.3" cy="831.8" r="3.6"/>
<circle cx="300.6" cy="831.8" r="3.6"/>
<circle cx="286.6" cy="837.1" r="3.6"/>
<circle cx="295.3" cy="837.1" r="3.6"/>
<circle cx="285.7" cy="845.0" r="3.6"/>
<circle cx="290.1" cy="847.6" r="3.6"/>
<circle cx="295.3" cy="846.7" r="3.6"/>
<circle cx="300.6" cy="845.8" r="3.6"/>
<circle cx="276.1" cy="839.7" r="3.6"/>
<circle cx="280.4" cy="855.0" r="3.6"/>
<circle cx="288.3" cy="854.6" r="3.6"/>
<circle cx="313.7" cy="825.7" r="3.6"/>
<circle cx="313.7" cy="830.1" r="3.6"/>
<circle cx="313.7" cy="837.1" r="3.6"/>
<circle cx="313.7" cy="845.5" r="3.6"/>
<circle cx="312.9" cy="856.4" r="3.6"/>
<circle cx="322.0" cy="828.3" r="3.6"/>
<circle cx="325.1" cy="849.7" r="3.6"/>
<circle cx="291.0" cy="824.0" r="3.6"/>
<circle cx="298.0" cy="826.0" r="3.6"/>
<circle cx="293.0" cy="840.0" r="3.6"/>
</g>
<text class="b" x="223.8" y="736.5" font-size="18.6" text-anchor="middle">j</text>
<rect x="213.0" y="720.0" width="157.2" height="157" fill="none" stroke="#5e5e5e" stroke-width="1.4"/>
<line x1="213.0" y1="876.6" x2="370.2" y2="876.6" stroke="#333" stroke-width="1.3"/>
<g fill="#d0d0d0" stroke="#151515" stroke-width="1.0">
<circle cx="435.2" cy="746.7" r="3.6"/>
<circle cx="406.3" cy="772.9" r="3.6"/>
<circle cx="406.3" cy="776.1" r="3.6"/>
<circle cx="414.9" cy="773.7" r="3.6"/>
<circle cx="414.9" cy="776.1" r="3.6"/>
<circle cx="418.5" cy="782.5" r="3.6"/>
<circle cx="418.5" cy="785.7" r="3.6"/>
<circle cx="418.5" cy="788.8" r="3.6"/>
<circle cx="418.5" cy="791.2" r="3.6"/>
<circle cx="435.2" cy="786.5" r="3.6"/>
<circle cx="396.2" cy="795.2" r="3.6"/>
<circle cx="401.8" cy="799.7" r="3.6"/>
<circle cx="406.6" cy="807.1" r="3.6"/>
<circle cx="401.8" cy="811.9" r="3.6"/>
<circle cx="406.6" cy="816.7" r="3.6"/>
<circle cx="401.8" cy="819.9" r="3.6"/>
<circle cx="406.6" cy="830.2" r="3.6"/>
<circle cx="401.8" cy="833.4" r="3.6"/>
<circle cx="399.4" cy="839.0" r="3.6"/>
<circle cx="406.6" cy="840.5" r="3.6"/>
<circle cx="414.5" cy="831.0" r="3.6"/>
<circle cx="441.6" cy="860.4" r="3.6"/>
<circle cx="437.6" cy="850.9" r="3.6"/>
<circle cx="452.6" cy="745.9" r="3.6"/>
<circle cx="452.6" cy="767.4" r="3.6"/>
<circle cx="452.6" cy="772.6" r="3.6"/>
<circle cx="452.6" cy="782.5" r="3.6"/>
<circle cx="452.6" cy="787.3" r="3.6"/>
<circle cx="455.0" cy="790.4" r="3.6"/>
<circle cx="452.6" cy="796.0" r="3.6"/>
<circle cx="456.5" cy="800.0" r="3.6"/>
<circle cx="457.3" cy="804.8" r="3.6"/>
<circle cx="461.3" cy="809.5" r="3.6"/>
<circle cx="477.2" cy="791.7" r="3.6"/>
<circle cx="471.7" cy="799.7" r="3.6"/>
<circle cx="478.8" cy="804.8" r="3.6"/>
<circle cx="483.6" cy="811.9" r="3.6"/>
<circle cx="490.7" cy="800.8" r="3.6"/>
<circle cx="492.3" cy="807.9" r="3.6"/>
<circle cx="497.1" cy="808.7" r="3.6"/>
<circle cx="501.9" cy="816.7" r="3.6"/>
<circle cx="457.3" cy="854.1" r="3.6"/>
<circle cx="497.9" cy="861.2" r="3.6"/>
<circle cx="420.7" cy="799.0" r="3.6"/>
<circle cx="425.4" cy="822.9" r="3.6"/>
<circle cx="425.1" cy="822.5" r="3.6"/>
<circle cx="421.1" cy="805.4" r="3.6"/>
<circle cx="431.4" cy="811.4" r="3.6"/>
<circle cx="418.2" cy="838.0" r="3.6"/>
<circle cx="431.6" cy="824.4" r="3.6"/>
<circle cx="420.8" cy="801.8" r="3.6"/>
<circle cx="418.1" cy="830.1" r="3.6"/>
<circle cx="427.6" cy="805.6" r="3.6"/>
<circle cx="425.5" cy="818.9" r="3.6"/>
<circle cx="419.1" cy="826.3" r="3.6"/>
<circle cx="424.5" cy="807.0" r="3.6"/>
<circle cx="420.4" cy="834.8" r="3.6"/>
<circle cx="418.5" cy="841.0" r="3.6"/>
<circle cx="430.9" cy="825.7" r="3.6"/>
<circle cx="420.8" cy="837.8" r="3.6"/>
<circle cx="426.8" cy="809.6" r="3.6"/>
<circle cx="420.4" cy="847.0" r="3.6"/>
<circle cx="420.8" cy="801.8" r="3.6"/>
<circle cx="428.3" cy="830.8" r="3.6"/>
<circle cx="425.3" cy="827.1" r="3.6"/>
<circle cx="427.6" cy="836.9" r="3.6"/>
<circle cx="427.7" cy="830.6" r="3.6"/>
<circle cx="422.6" cy="841.7" r="3.6"/>
<circle cx="424.1" cy="806.5" r="3.6"/>
<circle cx="420.3" cy="822.9" r="3.6"/>
<circle cx="423.5" cy="809.7" r="3.6"/>
<circle cx="427.2" cy="822.4" r="3.6"/>
<circle cx="419.6" cy="796.1" r="3.6"/>
<circle cx="431.0" cy="839.0" r="3.6"/>
<circle cx="431.1" cy="808.1" r="3.6"/>
<circle cx="431.3" cy="809.3" r="3.6"/>
<circle cx="424.4" cy="817.0" r="3.6"/>
<circle cx="421.1" cy="810.6" r="3.6"/>
<circle cx="423.5" cy="816.2" r="3.6"/>
<circle cx="429.7" cy="834.8" r="3.6"/>
<circle cx="429.8" cy="799.5" r="3.6"/>
<circle cx="431.7" cy="846.2" r="3.6"/>
<circle cx="424.1" cy="843.4" r="3.6"/>
<circle cx="424.1" cy="822.6" r="3.6"/>
<circle cx="427.0" cy="832.0" r="3.6"/>
<circle cx="441.6" cy="846.4" r="3.6"/>
<circle cx="441.8" cy="800.6" r="3.6"/>
<circle cx="436.9" cy="832.7" r="3.6"/>
<circle cx="437.4" cy="839.5" r="3.6"/>
<circle cx="445.5" cy="800.3" r="3.6"/>
<circle cx="433.8" cy="816.5" r="3.6"/>
<circle cx="449.3" cy="830.1" r="3.6"/>
<circle cx="443.5" cy="845.7" r="3.6"/>
<circle cx="448.8" cy="847.5" r="3.6"/>
<circle cx="432.6" cy="814.2" r="3.6"/>
<circle cx="437.3" cy="811.7" r="3.6"/>
<circle cx="433.4" cy="841.5" r="3.6"/>
<circle cx="449.4" cy="823.9" r="3.6"/>
<circle cx="435.6" cy="836.7" r="3.6"/>
<circle cx="434.1" cy="836.7" r="3.6"/>
<circle cx="436.9" cy="820.5" r="3.6"/>
<circle cx="435.7" cy="847.5" r="3.6"/>
<circle cx="443.7" cy="837.0" r="3.6"/>
<circle cx="434.4" cy="794.6" r="3.6"/>
<circle cx="445.4" cy="841.9" r="3.6"/>
<circle cx="446.2" cy="830.1" r="3.6"/>
<circle cx="437.6" cy="805.0" r="3.6"/>
<circle cx="443.3" cy="796.5" r="3.6"/>
<circle cx="437.7" cy="824.7" r="3.6"/>
<circle cx="441.9" cy="842.2" r="3.6"/>
<circle cx="436.2" cy="829.8" r="3.6"/>
<circle cx="442.3" cy="795.8" r="3.6"/>
<circle cx="436.8" cy="799.8" r="3.6"/>
<circle cx="447.9" cy="813.6" r="3.6"/>
<circle cx="433.7" cy="837.1" r="3.6"/>
<circle cx="445.4" cy="828.7" r="3.6"/>
<circle cx="443.3" cy="798.8" r="3.6"/>
<circle cx="433.5" cy="813.5" r="3.6"/>
<circle cx="432.7" cy="838.0" r="3.6"/>
<circle cx="436.2" cy="843.7" r="3.6"/>
<circle cx="439.2" cy="829.5" r="3.6"/>
<circle cx="432.4" cy="805.7" r="3.6"/>
<circle cx="439.9" cy="840.7" r="3.6"/>
<circle cx="446.3" cy="836.7" r="3.6"/>
<circle cx="447.8" cy="827.5" r="3.6"/>
<circle cx="439.3" cy="840.6" r="3.6"/>
<circle cx="433.8" cy="822.7" r="3.6"/>
<circle cx="440.3" cy="837.3" r="3.6"/>
<circle cx="442.7" cy="831.2" r="3.6"/>
<circle cx="439.0" cy="842.5" r="3.6"/>
<circle cx="464.0" cy="851.6" r="3.6"/>
<circle cx="448.5" cy="821.1" r="3.6"/>
<circle cx="448.5" cy="849.6" r="3.6"/>
<circle cx="449.2" cy="836.8" r="3.6"/>
<circle cx="453.3" cy="850.1" r="3.6"/>
<circle cx="459.6" cy="851.2" r="3.6"/>
<circle cx="450.6" cy="844.2" r="3.6"/>
<circle cx="455.3" cy="817.2" r="3.6"/>
<circle cx="456.6" cy="824.1" r="3.6"/>
<circle cx="452.9" cy="832.1" r="3.6"/>
<circle cx="458.7" cy="822.8" r="3.6"/>
<circle cx="448.8" cy="833.2" r="3.6"/>
<circle cx="456.5" cy="829.4" r="3.6"/>
<circle cx="463.9" cy="818.5" r="3.6"/>
<circle cx="455.6" cy="832.8" r="3.6"/>
<circle cx="462.0" cy="815.8" r="3.6"/>
<circle cx="450.6" cy="832.7" r="3.6"/>
<circle cx="452.3" cy="845.7" r="3.6"/>
<circle cx="457.9" cy="813.7" r="3.6"/>
<circle cx="463.3" cy="837.3" r="3.6"/>
<circle cx="457.6" cy="841.4" r="3.6"/>
<circle cx="454.9" cy="854.3" r="3.6"/>
<circle cx="449.2" cy="840.9" r="3.6"/>
<circle cx="458.4" cy="826.7" r="3.6"/>
<circle cx="462.2" cy="848.3" r="3.6"/>
<circle cx="448.6" cy="826.5" r="3.6"/>
<circle cx="463.9" cy="816.4" r="3.6"/>
<circle cx="458.0" cy="836.3" r="3.6"/>
<circle cx="449.7" cy="812.2" r="3.6"/>
<circle cx="458.7" cy="837.9" r="3.6"/>
<circle cx="453.0" cy="823.9" r="3.6"/>
<circle cx="462.5" cy="833.4" r="3.6"/>
<circle cx="470.6" cy="844.8" r="3.6"/>
<circle cx="468.7" cy="847.0" r="3.6"/>
<circle cx="475.4" cy="849.8" r="3.6"/>
<circle cx="470.8" cy="827.4" r="3.6"/>
<circle cx="485.1" cy="828.5" r="3.6"/>
<circle cx="471.5" cy="851.8" r="3.6"/>
<circle cx="478.6" cy="822.1" r="3.6"/>
<circle cx="474.5" cy="843.2" r="3.6"/>
<circle cx="474.0" cy="855.5" r="3.6"/>
<circle cx="473.4" cy="854.5" r="3.6"/>
<circle cx="476.5" cy="857.5" r="3.6"/>
<circle cx="483.6" cy="860.8" r="3.6"/>
<circle cx="473.3" cy="817.1" r="3.6"/>
<circle cx="483.1" cy="818.0" r="3.6"/>
<circle cx="484.3" cy="834.5" r="3.6"/>
<circle cx="466.7" cy="838.5" r="3.6"/>
<circle cx="470.4" cy="850.6" r="3.6"/>
<circle cx="474.1" cy="837.9" r="3.6"/>
<circle cx="468.8" cy="838.1" r="3.6"/>
<circle cx="470.0" cy="838.3" r="3.6"/>
<circle cx="477.4" cy="832.7" r="3.6"/>
<circle cx="467.5" cy="840.0" r="3.6"/>
<circle cx="484.7" cy="846.9" r="3.6"/>
<circle cx="476.6" cy="849.2" r="3.6"/>
<circle cx="485.1" cy="816.2" r="3.6"/>
<circle cx="477.8" cy="836.2" r="3.6"/>
<circle cx="471.1" cy="859.2" r="3.6"/>
<circle cx="468.0" cy="812.3" r="3.6"/>
<circle cx="485.5" cy="829.7" r="3.6"/>
<circle cx="477.3" cy="856.5" r="3.6"/>
<circle cx="475.1" cy="813.1" r="3.6"/>
<circle cx="471.2" cy="859.1" r="3.6"/>
<circle cx="473.3" cy="843.2" r="3.6"/>
<circle cx="466.7" cy="846.4" r="3.6"/>
<circle cx="483.9" cy="834.3" r="3.6"/>
<circle cx="470.0" cy="840.8" r="3.6"/>
<circle cx="477.4" cy="859.4" r="3.6"/>
<circle cx="483.6" cy="823.9" r="3.6"/>
<circle cx="468.8" cy="837.5" r="3.6"/>
<circle cx="476.7" cy="853.5" r="3.6"/>
<circle cx="466.8" cy="830.3" r="3.6"/>
<circle cx="467.9" cy="823.7" r="3.6"/>
<circle cx="487.5" cy="810.3" r="3.6"/>
<circle cx="488.1" cy="818.7" r="3.6"/>
<circle cx="497.0" cy="808.2" r="3.6"/>
<circle cx="504.2" cy="813.2" r="3.6"/>
<circle cx="504.2" cy="848.2" r="3.6"/>
<circle cx="493.2" cy="818.9" r="3.6"/>
<circle cx="487.5" cy="832.3" r="3.6"/>
<circle cx="501.1" cy="810.6" r="3.6"/>
<circle cx="505.3" cy="839.5" r="3.6"/>
<circle cx="503.5" cy="852.9" r="3.6"/>
<circle cx="493.9" cy="858.1" r="3.6"/>
<circle cx="496.5" cy="835.6" r="3.6"/>
<circle cx="494.2" cy="849.3" r="3.6"/>
<circle cx="491.5" cy="820.7" r="3.6"/>
<circle cx="497.3" cy="810.4" r="3.6"/>
<circle cx="494.7" cy="837.7" r="3.6"/>
<circle cx="496.7" cy="825.5" r="3.6"/>
<circle cx="504.6" cy="852.7" r="3.6"/>
<circle cx="504.4" cy="823.1" r="3.6"/>
<circle cx="501.1" cy="846.3" r="3.6"/>
<circle cx="503.4" cy="831.9" r="3.6"/>
<circle cx="494.6" cy="847.2" r="3.6"/>
<circle cx="488.8" cy="826.4" r="3.6"/>
<circle cx="504.6" cy="846.7" r="3.6"/>
<circle cx="497.7" cy="812.3" r="3.6"/>
<circle cx="497.2" cy="839.8" r="3.6"/>
<circle cx="488.3" cy="823.3" r="3.6"/>
<circle cx="497.0" cy="848.3" r="3.6"/>
<circle cx="486.5" cy="832.3" r="3.6"/>
<circle cx="498.7" cy="821.0" r="3.6"/>
<circle cx="491.1" cy="835.9" r="3.6"/>
<circle cx="493.5" cy="839.6" r="3.6"/>
<circle cx="491.0" cy="826.3" r="3.6"/>
<circle cx="501.9" cy="859.2" r="3.6"/>
<circle cx="504.1" cy="844.7" r="3.6"/>
<circle cx="493.7" cy="849.3" r="3.6"/>
<circle cx="489.9" cy="816.5" r="3.6"/>
<circle cx="488.3" cy="842.6" r="3.6"/>
<circle cx="501.0" cy="857.1" r="3.6"/>
<circle cx="502.0" cy="809.2" r="3.6"/>
<circle cx="503.8" cy="840.6" r="3.6"/>
<circle cx="487.6" cy="843.3" r="3.6"/>
</g>
<path d="M384.9,800.2 L515.5,848.8" fill="none" stroke="#000" stroke-width="1.7"/>
<text class="b" x="380.8" y="736.5" font-size="18.6" text-anchor="middle">o</text>
<g class="ann">
<text class="s" x="476.5" y="741.5" font-size="14" font-style="italic">r</text>
<text class="s" x="480.9" y="733.6" font-size="9" style="stroke:none">2</text>
<text class="s" x="480.7" y="747.2" font-size="9" textLength="9" lengthAdjust="spacingAndGlyphs" style="stroke:none;fill:#444">adj</text>
<text class="s" x="491.5" y="741.7" font-size="14.2" textLength="29.3" lengthAdjust="spacingAndGlyphs">=0.28</text>
<text class="s" x="476.5" y="765.0" font-size="13.2" textLength="31.3" lengthAdjust="spacingAndGlyphs"><tspan font-style="italic">n</tspan>=380</text>
</g>
<rect x="370.0" y="720.0" width="157.2" height="157" fill="none" stroke="#5e5e5e" stroke-width="1.4"/>
<line x1="370.0" y1="876.6" x2="527.2" y2="876.6" stroke="#333" stroke-width="1.3"/>
<g fill="#d0d0d0" stroke="#151515" stroke-width="1.0">
<circle cx="591.9" cy="747.0" r="3.6"/>
<circle cx="571.9" cy="774.0" r="3.6"/>
<circle cx="571.9" cy="775.7" r="3.6"/>
<circle cx="576.2" cy="783.2" r="3.6"/>
<circle cx="576.2" cy="785.9" r="3.6"/>
<circle cx="576.2" cy="788.5" r="3.6"/>
<circle cx="576.2" cy="791.3" r="3.6"/>
<circle cx="591.9" cy="786.5" r="3.6"/>
<circle cx="609.7" cy="767.6" r="3.6"/>
<circle cx="609.7" cy="773.0" r="3.6"/>
<circle cx="609.7" cy="787.5" r="3.6"/>
<circle cx="611.3" cy="791.3" r="3.6"/>
<circle cx="609.7" cy="798.4" r="3.6"/>
<circle cx="613.5" cy="800.0" r="3.6"/>
<circle cx="589.2" cy="797.3" r="3.6"/>
<circle cx="591.9" cy="799.4" r="3.6"/>
<circle cx="596.7" cy="797.8" r="3.6"/>
<circle cx="591.9" cy="803.2" r="3.6"/>
<circle cx="591.9" cy="806.5" r="3.6"/>
<circle cx="592.4" cy="815.1" r="3.6"/>
<circle cx="596.7" cy="806.5" r="3.6"/>
<circle cx="591.9" cy="810.0" r="3.6"/>
<circle cx="596.7" cy="802.0" r="3.6"/>
<circle cx="589.0" cy="812.0" r="3.6"/>
<circle cx="595.0" cy="818.0" r="3.6"/>
<circle cx="602.7" cy="800.5" r="3.6"/>
<circle cx="602.7" cy="806.5" r="3.6"/>
<circle cx="603.8" cy="814.6" r="3.6"/>
<circle cx="609.2" cy="815.1" r="3.6"/>
<circle cx="609.2" cy="823.7" r="3.6"/>
<circle cx="612.9" cy="818.9" r="3.6"/>
<circle cx="614.0" cy="825.9" r="3.6"/>
<circle cx="621.6" cy="822.7" r="3.6"/>
<circle cx="621.6" cy="828.6" r="3.6"/>
<circle cx="602.7" cy="810.0" r="3.6"/>
<circle cx="606.0" cy="817.0" r="3.6"/>
<circle cx="580.0" cy="808.6" r="3.6"/>
<circle cx="584.8" cy="811.3" r="3.6"/>
<circle cx="580.5" cy="819.4" r="3.6"/>
<circle cx="584.8" cy="825.9" r="3.6"/>
<circle cx="587.0" cy="818.3" r="3.6"/>
<circle cx="583.0" cy="815.0" r="3.6"/>
<circle cx="588.0" cy="822.0" r="3.6"/>
<circle cx="585.0" cy="806.0" r="3.6"/>
<circle cx="582.0" cy="828.0" r="3.6"/>
<circle cx="571.9" cy="830.8" r="3.6"/>
<circle cx="579.4" cy="831.8" r="3.6"/>
<circle cx="580.0" cy="838.9" r="3.6"/>
<circle cx="584.8" cy="839.9" r="3.6"/>
<circle cx="588.6" cy="843.2" r="3.6"/>
<circle cx="594.6" cy="838.3" r="3.6"/>
<circle cx="587.0" cy="830.2" r="3.6"/>
<circle cx="582.0" cy="835.0" r="3.6"/>
<circle cx="585.0" cy="834.0" r="3.6"/>
<circle cx="580.0" cy="827.0" r="3.6"/>
<circle cx="592.4" cy="820.5" r="3.6"/>
<circle cx="597.8" cy="823.7" r="3.6"/>
<circle cx="603.2" cy="825.9" r="3.6"/>
<circle cx="609.7" cy="830.2" r="3.6"/>
<circle cx="599.0" cy="816.0" r="3.6"/>
<circle cx="606.0" cy="822.0" r="3.6"/>
<circle cx="613.0" cy="832.0" r="3.6"/>
<circle cx="617.0" cy="830.0" r="3.6"/>
<circle cx="614.0" cy="854.0" r="3.6"/>
<circle cx="627.0" cy="848.6" r="3.6"/>
<circle cx="627.0" cy="854.0" r="3.6"/>
<circle cx="640.9" cy="811.7" r="3.6"/>
<circle cx="622.0" cy="822.7" r="3.6"/>
<circle cx="622.0" cy="828.3" r="3.6"/>
<circle cx="632.2" cy="827.3" r="3.6"/>
<circle cx="645.5" cy="829.6" r="3.6"/>
<circle cx="638.8" cy="832.9" r="3.6"/>
<circle cx="628.6" cy="836.0" r="3.6"/>
<circle cx="624.5" cy="835.0" r="3.6"/>
<circle cx="635.3" cy="837.5" r="3.6"/>
<circle cx="647.5" cy="838.8" r="3.6"/>
<circle cx="655.2" cy="837.5" r="3.6"/>
<circle cx="657.2" cy="844.0" r="3.6"/>
<circle cx="647.5" cy="843.6" r="3.6"/>
<circle cx="627.6" cy="848.8" r="3.6"/>
<circle cx="627.1" cy="852.8" r="3.6"/>
<circle cx="630.7" cy="846.7" r="3.6"/>
<circle cx="636.8" cy="847.2" r="3.6"/>
<circle cx="632.7" cy="857.4" r="3.6"/>
<circle cx="636.3" cy="860.5" r="3.6"/>
<circle cx="640.9" cy="855.4" r="3.6"/>
<circle cx="641.4" cy="860.5" r="3.6"/>
<circle cx="647.0" cy="855.4" r="3.6"/>
<circle cx="647.0" cy="860.5" r="3.6"/>
<circle cx="650.6" cy="853.4" r="3.6"/>
<circle cx="655.2" cy="861.0" r="3.6"/>
<circle cx="639.0" cy="851.0" r="3.6"/>
<circle cx="644.0" cy="850.0" r="3.6"/>
<circle cx="633.0" cy="852.0" r="3.6"/>
<circle cx="645.0" cy="857.0" r="3.6"/>
<circle cx="637.0" cy="855.0" r="3.6"/>
<circle cx="631.0" cy="861.0" r="3.6"/>
<circle cx="651.0" cy="858.0" r="3.6"/>
</g>
<path d="M560.2,799.0 L669.1,857.0" fill="none" stroke="#000" stroke-width="1.7"/>
<text class="b" x="537.8" y="736.5" font-size="18.6" text-anchor="middle">t</text>
<g class="ann">
<text class="s" x="633.2" y="743.3" font-size="14" font-style="italic">r</text>
<text class="s" x="637.6" y="735.4" font-size="9" style="stroke:none">2</text>
<text class="s" x="637.4" y="749.0" font-size="9" textLength="9" lengthAdjust="spacingAndGlyphs" style="stroke:none;fill:#444">adj</text>
<text class="s" x="648.2" y="743.5" font-size="14.2" textLength="29.3" lengthAdjust="spacingAndGlyphs">=0.35</text>
<text class="s" x="633.2" y="767.5" font-size="13.2" textLength="31.3" lengthAdjust="spacingAndGlyphs"><tspan font-style="italic">n</tspan>=155</text>
</g>
<rect x="527.0" y="720.0" width="157.2" height="157" fill="none" stroke="#5e5e5e" stroke-width="1.4"/>
<line x1="527.0" y1="876.6" x2="684.2" y2="876.6" stroke="#333" stroke-width="1.3"/>
<line x1="48.2" y1="171.0" x2="56.0" y2="171.0" stroke="#333" stroke-width="1.4"/>
<text class="s" x="44.2" y="176.4" font-size="16" text-anchor="end">0.0</text>
<line x1="48.2" y1="142.5" x2="56.0" y2="142.5" stroke="#333" stroke-width="1.4"/>
<text class="s" x="44.2" y="147.9" font-size="16" text-anchor="end">0.2</text>
<line x1="48.2" y1="113.9" x2="56.0" y2="113.9" stroke="#333" stroke-width="1.4"/>
<text class="s" x="44.2" y="119.3" font-size="16" text-anchor="end">0.4</text>
<line x1="48.2" y1="85.4" x2="56.0" y2="85.4" stroke="#333" stroke-width="1.4"/>
<text class="s" x="44.2" y="90.8" font-size="16" text-anchor="end">0.6</text>
<line x1="48.2" y1="56.8" x2="56.0" y2="56.8" stroke="#333" stroke-width="1.4"/>
<text class="s" x="44.2" y="62.2" font-size="16" text-anchor="end">0.8</text>
<line x1="48.2" y1="28.3" x2="56.0" y2="28.3" stroke="#333" stroke-width="1.4"/>
<text class="s" x="44.2" y="33.7" font-size="16" text-anchor="end">1.0</text>
<line x1="52.0" y1="156.7" x2="56.0" y2="156.7" stroke="#333" stroke-width="1.4"/>
<line x1="52.0" y1="128.2" x2="56.0" y2="128.2" stroke="#333" stroke-width="1.4"/>
<line x1="52.0" y1="99.6" x2="56.0" y2="99.6" stroke="#333" stroke-width="1.4"/>
<line x1="52.0" y1="71.1" x2="56.0" y2="71.1" stroke="#333" stroke-width="1.4"/>
<line x1="52.0" y1="42.5" x2="56.0" y2="42.5" stroke="#333" stroke-width="1.4"/>
<text class="s" x="-37.8" y="0" font-size="15.6" textLength="75.6" lengthAdjust="spacingAndGlyphs" transform="translate(11.4,95.1) rotate(-90)">branch BEF</text>
<line x1="48.2" y1="347.5" x2="56.0" y2="347.5" stroke="#333" stroke-width="1.4"/>
<text class="s" x="44.2" y="352.9" font-size="16" text-anchor="end">0.0</text>
<line x1="48.2" y1="302.6" x2="56.0" y2="302.6" stroke="#333" stroke-width="1.4"/>
<text class="s" x="44.2" y="308.0" font-size="16" text-anchor="end">0.2</text>
<line x1="48.2" y1="257.8" x2="56.0" y2="257.8" stroke="#333" stroke-width="1.4"/>
<text class="s" x="44.2" y="263.2" font-size="16" text-anchor="end">0.4</text>
<line x1="48.2" y1="212.9" x2="56.0" y2="212.9" stroke="#333" stroke-width="1.4"/>
<text class="s" x="44.2" y="218.3" font-size="16" text-anchor="end">0.6</text>
<line x1="52.0" y1="325.1" x2="56.0" y2="325.1" stroke="#333" stroke-width="1.4"/>
<line x1="52.0" y1="280.2" x2="56.0" y2="280.2" stroke="#333" stroke-width="1.4"/>
<line x1="52.0" y1="235.4" x2="56.0" y2="235.4" stroke="#333" stroke-width="1.4"/>
<text class="s" x="-26.6" y="0" font-size="15.6" textLength="53.3" lengthAdjust="spacingAndGlyphs" transform="translate(11.4,272.2) rotate(-90)">leaf BEF</text>
<line x1="48.2" y1="524.0" x2="56.0" y2="524.0" stroke="#333" stroke-width="1.4"/>
<text class="s" x="44.2" y="529.4" font-size="16" text-anchor="end">1.0</text>
<line x1="48.2" y1="479.1" x2="56.0" y2="479.1" stroke="#333" stroke-width="1.4"/>
<text class="s" x="44.2" y="484.5" font-size="16" text-anchor="end">1.5</text>
<line x1="48.2" y1="434.3" x2="56.0" y2="434.3" stroke="#333" stroke-width="1.4"/>
<text class="s" x="44.2" y="439.7" font-size="16" text-anchor="end">2.0</text>
<line x1="48.2" y1="389.4" x2="56.0" y2="389.4" stroke="#333" stroke-width="1.4"/>
<text class="s" x="44.2" y="394.8" font-size="16" text-anchor="end">2.5</text>
<line x1="52.0" y1="501.6" x2="56.0" y2="501.6" stroke="#333" stroke-width="1.4"/>
<line x1="52.0" y1="456.7" x2="56.0" y2="456.7" stroke="#333" stroke-width="1.4"/>
<line x1="52.0" y1="411.9" x2="56.0" y2="411.9" stroke="#333" stroke-width="1.4"/>
<text class="s" x="-58.4" y="0" font-size="15.6" textLength="116.8" lengthAdjust="spacingAndGlyphs" transform="translate(11.4,443.5) rotate(-90)">aboveground BEF</text>
<line x1="48.2" y1="700.5" x2="56.0" y2="700.5" stroke="#333" stroke-width="1.4"/>
<text class="s" x="44.2" y="705.9" font-size="16" text-anchor="end">0.0</text>
<line x1="48.2" y1="672.0" x2="56.0" y2="672.0" stroke="#333" stroke-width="1.4"/>
<text class="s" x="44.2" y="677.4" font-size="16" text-anchor="end">0.2</text>
<line x1="48.2" y1="643.4" x2="56.0" y2="643.4" stroke="#333" stroke-width="1.4"/>
<text class="s" x="44.2" y="648.8" font-size="16" text-anchor="end">0.4</text>
<line x1="48.2" y1="614.9" x2="56.0" y2="614.9" stroke="#333" stroke-width="1.4"/>
<text class="s" x="44.2" y="620.3" font-size="16" text-anchor="end">0.6</text>
<line x1="48.2" y1="586.3" x2="56.0" y2="586.3" stroke="#333" stroke-width="1.4"/>
<text class="s" x="44.2" y="591.7" font-size="16" text-anchor="end">0.8</text>
<line x1="48.2" y1="557.8" x2="56.0" y2="557.8" stroke="#333" stroke-width="1.4"/>
<text class="s" x="44.2" y="563.2" font-size="16" text-anchor="end">1.0</text>
<line x1="52.0" y1="686.2" x2="56.0" y2="686.2" stroke="#333" stroke-width="1.4"/>
<line x1="52.0" y1="657.7" x2="56.0" y2="657.7" stroke="#333" stroke-width="1.4"/>
<line x1="52.0" y1="629.1" x2="56.0" y2="629.1" stroke="#333" stroke-width="1.4"/>
<line x1="52.0" y1="600.6" x2="56.0" y2="600.6" stroke="#333" stroke-width="1.4"/>
<line x1="52.0" y1="572.0" x2="56.0" y2="572.0" stroke="#333" stroke-width="1.4"/>
<text class="s" x="-28.1" y="0" font-size="15.6" textLength="56.3" lengthAdjust="spacingAndGlyphs" transform="translate(11.4,622.4) rotate(-90)">root BEF</text>
<line x1="48.2" y1="877.0" x2="56.0" y2="877.0" stroke="#333" stroke-width="1.4"/>
<text class="s" x="44.2" y="882.4" font-size="16" text-anchor="end">1.0</text>
<line x1="48.2" y1="842.1" x2="56.0" y2="842.1" stroke="#333" stroke-width="1.4"/>
<text class="s" x="44.2" y="847.5" font-size="16" text-anchor="end">1.5</text>
<line x1="48.2" y1="807.2" x2="56.0" y2="807.2" stroke="#333" stroke-width="1.4"/>
<text class="s" x="44.2" y="812.6" font-size="16" text-anchor="end">2.0</text>
<line x1="48.2" y1="772.3" x2="56.0" y2="772.3" stroke="#333" stroke-width="1.4"/>
<text class="s" x="44.2" y="777.7" font-size="16" text-anchor="end">2.5</text>
<line x1="48.2" y1="737.4" x2="56.0" y2="737.4" stroke="#333" stroke-width="1.4"/>
<text class="s" x="44.2" y="742.8" font-size="16" text-anchor="end">3.0</text>
<line x1="52.0" y1="859.6" x2="56.0" y2="859.6" stroke="#333" stroke-width="1.4"/>
<line x1="52.0" y1="824.7" x2="56.0" y2="824.7" stroke="#333" stroke-width="1.4"/>
<line x1="52.0" y1="789.8" x2="56.0" y2="789.8" stroke="#333" stroke-width="1.4"/>
<line x1="52.0" y1="754.9" x2="56.0" y2="754.9" stroke="#333" stroke-width="1.4"/>
<text class="s" x="-35.0" y="0" font-size="15.6" textLength="70" lengthAdjust="spacingAndGlyphs" transform="translate(11.4,806.2) rotate(-90)">whole BEF</text>
<line x1="67.2" y1="877.0" x2="67.2" y2="884.0" stroke="#333" stroke-width="1.4"/>
<text class="s" x="67.2" y="899.0" font-size="16" text-anchor="middle">-5</text>
<line x1="89.7" y1="877.0" x2="89.7" y2="884.0" stroke="#333" stroke-width="1.4"/>
<text class="s" x="89.7" y="899.0" font-size="16" text-anchor="middle">0</text>
<line x1="112.1" y1="877.0" x2="112.1" y2="884.0" stroke="#333" stroke-width="1.4"/>
<text class="s" x="112.1" y="899.0" font-size="16" text-anchor="middle">5</text>
<line x1="134.6" y1="877.0" x2="134.6" y2="884.0" stroke="#333" stroke-width="1.4"/>
<text class="s" x="134.6" y="899.0" font-size="16" text-anchor="middle">10</text>
<line x1="157.1" y1="877.0" x2="157.1" y2="884.0" stroke="#333" stroke-width="1.4"/>
<text class="s" x="157.1" y="899.0" font-size="16" text-anchor="middle">15</text>
<line x1="179.5" y1="877.0" x2="179.5" y2="884.0" stroke="#333" stroke-width="1.4"/>
<text class="s" x="179.5" y="899.0" font-size="16" text-anchor="middle">20</text>
<line x1="202.0" y1="877.0" x2="202.0" y2="884.0" stroke="#333" stroke-width="1.4"/>
<text class="s" x="202.0" y="899.0" font-size="16" text-anchor="middle">25</text>
<line x1="56.0" y1="877.0" x2="56.0" y2="881.0" stroke="#333" stroke-width="1.4"/>
<line x1="78.5" y1="877.0" x2="78.5" y2="881.0" stroke="#333" stroke-width="1.4"/>
<line x1="100.9" y1="877.0" x2="100.9" y2="881.0" stroke="#333" stroke-width="1.4"/>
<line x1="123.4" y1="877.0" x2="123.4" y2="881.0" stroke="#333" stroke-width="1.4"/>
<line x1="145.8" y1="877.0" x2="145.8" y2="881.0" stroke="#333" stroke-width="1.4"/>
<line x1="168.3" y1="877.0" x2="168.3" y2="881.0" stroke="#333" stroke-width="1.4"/>
<line x1="190.7" y1="877.0" x2="190.7" y2="881.0" stroke="#333" stroke-width="1.4"/>
<line x1="213.2" y1="877.0" x2="213.2" y2="881.0" stroke="#333" stroke-width="1.4"/>
<line x1="224.2" y1="877.0" x2="224.2" y2="884.0" stroke="#333" stroke-width="1.4"/>
<text class="s" x="224.2" y="899.0" font-size="16" text-anchor="middle">-5</text>
<line x1="246.7" y1="877.0" x2="246.7" y2="884.0" stroke="#333" stroke-width="1.4"/>
<text class="s" x="246.7" y="899.0" font-size="16" text-anchor="middle">0</text>
<line x1="269.1" y1="877.0" x2="269.1" y2="884.0" stroke="#333" stroke-width="1.4"/>
<text class="s" x="269.1" y="899.0" font-size="16" text-anchor="middle">5</text>
<line x1="291.6" y1="877.0" x2="291.6" y2="884.0" stroke="#333" stroke-width="1.4"/>
<text class="s" x="291.6" y="899.0" font-size="16" text-anchor="middle">10</text>
<line x1="314.1" y1="877.0" x2="314.1" y2="884.0" stroke="#333" stroke-width="1.4"/>
<text class="s" x="314.1" y="899.0" font-size="16" text-anchor="middle">15</text>
<line x1="336.5" y1="877.0" x2="336.5" y2="884.0" stroke="#333" stroke-width="1.4"/>
<text class="s" x="336.5" y="899.0" font-size="16" text-anchor="middle">20</text>
<line x1="359.0" y1="877.0" x2="359.0" y2="884.0" stroke="#333" stroke-width="1.4"/>
<text class="s" x="359.0" y="899.0" font-size="16" text-anchor="middle">25</text>
<line x1="213.0" y1="877.0" x2="213.0" y2="881.0" stroke="#333" stroke-width="1.4"/>
<line x1="235.5" y1="877.0" x2="235.5" y2="881.0" stroke="#333" stroke-width="1.4"/>
<line x1="257.9" y1="877.0" x2="257.9" y2="881.0" stroke="#333" stroke-width="1.4"/>
<line x1="280.4" y1="877.0" x2="280.4" y2="881.0" stroke="#333" stroke-width="1.4"/>
<line x1="302.8" y1="877.0" x2="302.8" y2="881.0" stroke="#333" stroke-width="1.4"/>
<line x1="325.3" y1="877.0" x2="325.3" y2="881.0" stroke="#333" stroke-width="1.4"/>
<line x1="347.7" y1="877.0" x2="347.7" y2="881.0" stroke="#333" stroke-width="1.4"/>
<line x1="370.2" y1="877.0" x2="370.2" y2="881.0" stroke="#333" stroke-width="1.4"/>
<line x1="381.2" y1="877.0" x2="381.2" y2="884.0" stroke="#333" stroke-width="1.4"/>
<text class="s" x="381.2" y="899.0" font-size="16" text-anchor="middle">-5</text>
<line x1="403.7" y1="877.0" x2="403.7" y2="884.0" stroke="#333" stroke-width="1.4"/>
<text class="s" x="403.7" y="899.0" font-size="16" text-anchor="middle">0</text>
<line x1="426.1" y1="877.0" x2="426.1" y2="884.0" stroke="#333" stroke-width="1.4"/>
<text class="s" x="426.1" y="899.0" font-size="16" text-anchor="middle">5</text>
<line x1="448.6" y1="877.0" x2="448.6" y2="884.0" stroke="#333" stroke-width="1.4"/>
<text class="s" x="448.6" y="899.0" font-size="16" text-anchor="middle">10</text>
<line x1="471.1" y1="877.0" x2="471.1" y2="884.0" stroke="#333" stroke-width="1.4"/>
<text class="s" x="471.1" y="899.0" font-size="16" text-anchor="middle">15</text>
<line x1="493.5" y1="877.0" x2="493.5" y2="884.0" stroke="#333" stroke-width="1.4"/>
<text class="s" x="493.5" y="899.0" font-size="16" text-anchor="middle">20</text>
<line x1="516.0" y1="877.0" x2="516.0" y2="884.0" stroke="#333" stroke-width="1.4"/>
<text class="s" x="516.0" y="899.0" font-size="16" text-anchor="middle">25</text>
<line x1="370.0" y1="877.0" x2="370.0" y2="881.0" stroke="#333" stroke-width="1.4"/>
<line x1="392.5" y1="877.0" x2="392.5" y2="881.0" stroke="#333" stroke-width="1.4"/>
<line x1="414.9" y1="877.0" x2="414.9" y2="881.0" stroke="#333" stroke-width="1.4"/>
<line x1="437.4" y1="877.0" x2="437.4" y2="881.0" stroke="#333" stroke-width="1.4"/>
<line x1="459.8" y1="877.0" x2="459.8" y2="881.0" stroke="#333" stroke-width="1.4"/>
<line x1="482.3" y1="877.0" x2="482.3" y2="881.0" stroke="#333" stroke-width="1.4"/>
<line x1="504.7" y1="877.0" x2="504.7" y2="881.0" stroke="#333" stroke-width="1.4"/>
<line x1="527.2" y1="877.0" x2="527.2" y2="881.0" stroke="#333" stroke-width="1.4"/>
<line x1="538.2" y1="877.0" x2="538.2" y2="884.0" stroke="#333" stroke-width="1.4"/>
<text class="s" x="538.2" y="899.0" font-size="16" text-anchor="middle">-5</text>
<line x1="560.7" y1="877.0" x2="560.7" y2="884.0" stroke="#333" stroke-width="1.4"/>
<text class="s" x="560.7" y="899.0" font-size="16" text-anchor="middle">0</text>
<line x1="583.1" y1="877.0" x2="583.1" y2="884.0" stroke="#333" stroke-width="1.4"/>
<text class="s" x="583.1" y="899.0" font-size="16" text-anchor="middle">5</text>
<line x1="605.6" y1="877.0" x2="605.6" y2="884.0" stroke="#333" stroke-width="1.4"/>
<text class="s" x="605.6" y="899.0" font-size="16" text-anchor="middle">10</text>
<line x1="628.1" y1="877.0" x2="628.1" y2="884.0" stroke="#333" stroke-width="1.4"/>
<text class="s" x="628.1" y="899.0" font-size="16" text-anchor="middle">15</text>
<line x1="650.5" y1="877.0" x2="650.5" y2="884.0" stroke="#333" stroke-width="1.4"/>
<text class="s" x="650.5" y="899.0" font-size="16" text-anchor="middle">20</text>
<line x1="673.0" y1="877.0" x2="673.0" y2="884.0" stroke="#333" stroke-width="1.4"/>
<text class="s" x="673.0" y="899.0" font-size="16" text-anchor="middle">25</text>
<line x1="527.0" y1="877.0" x2="527.0" y2="881.0" stroke="#333" stroke-width="1.4"/>
<line x1="549.5" y1="877.0" x2="549.5" y2="881.0" stroke="#333" stroke-width="1.4"/>
<line x1="571.9" y1="877.0" x2="571.9" y2="881.0" stroke="#333" stroke-width="1.4"/>
<line x1="594.4" y1="877.0" x2="594.4" y2="881.0" stroke="#333" stroke-width="1.4"/>
<line x1="616.8" y1="877.0" x2="616.8" y2="881.0" stroke="#333" stroke-width="1.4"/>
<line x1="639.3" y1="877.0" x2="639.3" y2="881.0" stroke="#333" stroke-width="1.4"/>
<line x1="661.7" y1="877.0" x2="661.7" y2="881.0" stroke="#333" stroke-width="1.4"/>
<line x1="684.2" y1="877.0" x2="684.2" y2="881.0" stroke="#333" stroke-width="1.4"/>
<text class="s" x="277.3" y="920" font-size="16" textLength="204" lengthAdjust="spacingAndGlyphs">Mean annual temperature (<tspan font-size="9.5" dy="-7.5">o</tspan><tspan dy="7.5">C)</tspan></text>
</svg></body></html>
